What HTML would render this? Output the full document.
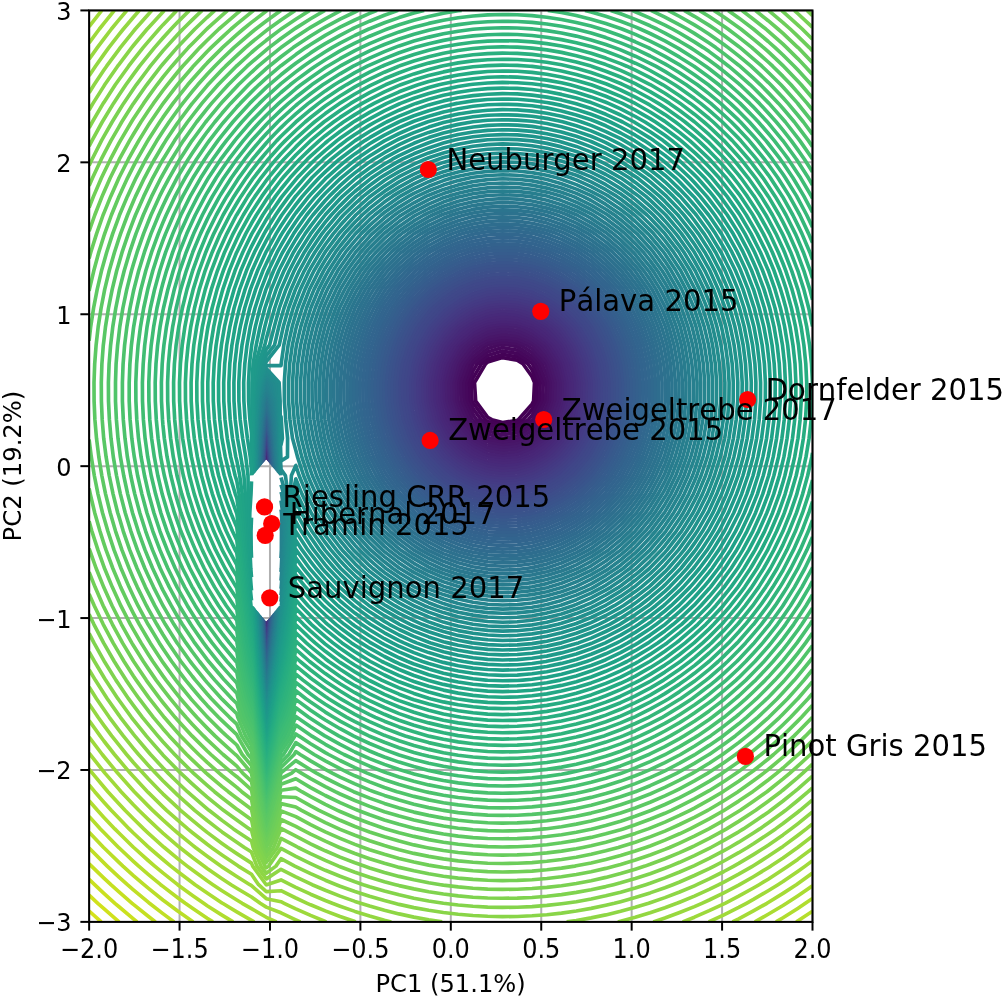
<!DOCTYPE html>
<html><head><meta charset="utf-8"><title>PCA GMM</title>
<style>
html,body{margin:0;padding:0;background:#fff;}
svg{display:block;font-family:"DejaVu Sans","Liberation Sans",sans-serif;font-kerning:none;}
</style></head><body>
<svg width="1003" height="997" viewBox="0 0 1003 997">
<rect width="1003" height="997" fill="#fff"/>
<defs><clipPath id="ax"><rect x="89.13" y="10.43" width="723.37" height="911.45"/></clipPath></defs>
<g stroke="#b0b0b0" stroke-width="2" fill="none"><path d="M89.13 10.43V921.88"/><path d="M179.55 10.43V921.88"/><path d="M269.97 10.43V921.88"/><path d="M360.39 10.43V921.88"/><path d="M450.81 10.43V921.88"/><path d="M541.24 10.43V921.88"/><path d="M631.66 10.43V921.88"/><path d="M722.08 10.43V921.88"/><path d="M812.50 10.43V921.88"/><path d="M89.13 921.88H812.50"/><path d="M89.13 769.97H812.50"/><path d="M89.13 618.06H812.50"/><path d="M89.13 466.16H812.50"/><path d="M89.13 314.25H812.50"/><path d="M89.13 162.34H812.50"/><path d="M89.13 10.43H812.50"/></g>
<g clip-path="url(#ax)" fill="none" stroke-width="3.65" stroke-linejoin="round" stroke-linecap="butt">
<path stroke="#440154" d="M267.6 622.6l-0.2 1.7 -1.1 10 -0.8 -10 0 -1.1M265.4 457.9l0 -1 0.9 -9.3 1.1 9.3 0.1 1.5M502.5 422.6l-10.6 -2.9 -4.2 -2.3 -12 -16.3 -1.2 -18.6 11.1 -18.7 2.1 -1.7 14.8 -4.5 14.7 2.5 5.7 3.7 9.1 12.7 2.5 6 -0.9 18.6 -1.6 3.1 -13.7 15.5 -1.1 0.6z"/>
<path stroke="#440256" d="M267.6 622.5l-0.1 1.8 -1.2 10.4 -0.8 -10.4 -0.1 -1.1M265.4 458l0 -1.1 0.9 -9.7 1.2 9.7 0.1 1.6M487.7 421.4l-2.4 -1.7 -12.3 -16.9 -0.9 -1.7 -0.7 -18.6 1.6 -4.4 8.5 -14.3 6.2 -4.9 14.8 -4.5 14.7 2.5 10.6 6.9 4.2 5.9 5.3 12.8 -0.9 18.6 -4.4 8.6 -8.8 10 -6 3.5 -14.7 2.3z"/>
<path stroke="#450559" d="M267.7 622.5l-0.2 1.8 -1.2 10.9 -0.9 -10.9 0 -1.2M265.4 458l-0.1 -1.1 1 -10.2 1.2 10.2 0.1 1.7M487.7 424.4l-6.6 -4.7 -8.1 -11.1 -3.5 -7.5 -0.8 -18.6 4.3 -11.4 4.3 -7.3 10.4 -8.2 14.8 -4.6 14.7 2.6 14.8 9.7 0.5 0.5 7.7 18.7 -0.8 18.6 -7.4 14.4 -3.7 4.2 -11.1 6.5 -14.7 2.3z"/>
<path stroke="#46085c" d="M267.8 622.4l-0.2 1.9 -1.3 11.4 -0.9 -11.4 -0.1 -1.2M265.3 458.1l0 -1.2 1 -10.6 1.3 10.6 0.1 1.7M487.7 427.5l-11 -7.8 -3.7 -5.2 -6.2 -13.4 -0.8 -18.6 6.9 -18.7 0.1 0 14.7 -11.7 14.8 -4.5 14.7 2.5 14.8 9.7 3.5 4 7.8 18.7 -0.9 18.6 -9.5 18.6 -0.9 0.9 -14.8 8.7 -14.7 2.3z"/>
<path stroke="#460b5e" d="M267.8 622.3l-0.1 2 -1.4 11.9 -0.9 -11.9 -0.1 -1.3M265.3 458.1l0 -1.2 1 -11.1 1.4 11.1 0.1 1.8M473 420.2l-0.5 -0.5 -8.5 -18.6 -0.8 -18.6 6.9 -18.7 2.9 -3.5 14.7 -11.7 10.8 -3.4 4 -0.8 7.2 0.8 7.5 1.4 14.8 9.7 6.7 7.5 7.7 18.7 -0.9 18.6 -9.5 18.6 -4 4.1 -14.8 8.7 -14.7 2.4 -14.8 -4.2 -14.7 -10.5"/>
<path stroke="#470e61" d="M267.9 622.2l-0.2 2.1 -1.4 12.4 -1 -12.4 0 -1.3M265.2 458.2l0 -1.3 1.1 -11.7 1.4 11.7 0.1 1.9M473 423.5l-3.4 -3.8 -8.5 -18.6 -0.8 -18.6 6.9 -18.7 5.8 -7.2 14.2 -11.4 0.5 -0.2 14.8 -3 14.7 1.7 3.7 1.5 11.1 7.4 9.9 11.2 4.9 11.7 2 7 -0.6 18.6 -1.4 3.9 -7.5 14.7 -7.3 7.4 -14.8 8.8 -14.7 2.3 -14.8 -4.1z"/>
<path stroke="#471164" d="M268 622.1l-0.2 2.2 -1.5 12.9 -1 -12.9 -0.1 -1.4M265.2 458.2l0 -1.3 1.1 -12.2 1.5 12.2 0.1 2M502.5 440.6l-12.2 -2.3 -2.6 -0.8 -14.7 -10.5 -6.4 -7.3 -8.4 -18.5 -0.1 -0.1 -0.5 -18.6 0.6 -2.4 6 -16.3 8.8 -11.1 9.4 -7.5 5.3 -2.7 14.8 -3 14.7 1.7 9.5 4 5.3 3.5 13.3 15.1 1.5 3.6 4.4 15.1 -0.7 18.6 -3.7 10.5 -4.1 8.1 -10.7 10.9 -12.9 7.7 -1.9 0.7z"/>
<path stroke="#481467" d="M268 622l-0.2 2.3 -1.5 13.5 -1 -13.5 -0.1 -1.4M265.1 458.3l0 -1.4 1.2 -12.7 1.6 12.7 0.1 2.1M487.7 440.2l-4 -1.9 -10.7 -7.7 -9.5 -10.9 -5.3 -11.7 -2.3 -6.9 -0.6 -18.6 2.9 -10.7 2.9 -8 11.9 -15 4.4 -3.6 10.3 -5.3 14.8 -3 14.7 1.7 14.8 6.3 0.4 0.3 14.4 16.4 1.4 2.2 5.4 18.7 -0.6 18.6 -6.2 17.3 -0.7 1.3 -14.1 14.5 -6.9 4.1 -7.9 3.1 -14.7 1.6z"/>
<path stroke="#481769" d="M268.1 622l-0.2 2.3 -1.6 14.1 -1.1 -14.1 -0.1 -1.5M265.1 458.4l0 -1.5 1.2 -13.3 1.6 13.3 0.2 2.2M487.7 442.7l-9.2 -4.4 -5.5 -4 -12.7 -14.6 -2.1 -4.6 -4.7 -14 -0.5 -18.6 5 -18.7 0.2 -0.3 14.3 -18.3 0.5 -0.3 14.7 -7.7 14.8 -3 14.7 1.7 14.8 6.3 4 3 10.8 12.3 3.9 6.3 5.4 18.7 -0.6 18.6 -6.6 18.6 -2.1 3 -14.8 15.2 -0.6 0.4 -14.2 5.6 -14.7 1.6 -14.8 -2.8"/>
<path stroke="#481a6c" d="M268.2 621.9l-0.2 2.4 -1.7 14.7 -1.1 -14.7 -0.1 -1.6M265 458.4l0 -1.5 1.3 -13.9 1.7 13.9 0.1 2.3M487.7 445.3l-14.5 -7 -0.2 -0.2 -14.8 -17 -0.9 -1.4 -6.2 -18.6 -0.5 -18.6 5 -18.7 2.6 -4.6 11 -14 3.8 -3.1 14.7 -7.7 14.8 -3 14.7 1.7 14.8 6.4 7.8 5.7 7 8 6.5 10.6 5.5 18.7 -0.7 18.6 -6.6 18.6 -4.7 6.8 -11.4 11.8 -3.4 2.3 -14.8 5.9 -14.7 1.6 -14.8 -2.8"/>
<path stroke="#481c6e" d="M268.3 621.8l-0.3 2.5 -1.7 15.3 -1.2 -15.3 -0.1 -1.6M265 458.5l-0.1 -1.6 1.4 -14.5 1.8 14.5 0.1 2.4M473 440.8l-3.4 -2.5 -11.4 -13.2 -3.4 -5.4 -6.2 -18.6 -0.5 -18.6 5 -18.7 5.1 -9 7.5 -9.6 7.3 -6 14.7 -7.7 14.8 -2.9 14.7 1.6 14.8 6.4 11.6 8.6 3.2 3.6 9.2 15 5.5 18.7 -0.6 18.6 -6.7 18.6 -7.4 10.8 -7.6 7.8 -7.2 5 -14.8 5.9 -14.7 1.6 -14.8 -2.8z"/>
<path stroke="#481f70" d="M268.4 621.6l-0.3 2.7 -1.8 15.9 -1.2 -15.9 -0.1 -1.7M264.9 458.6l0 -1.7 1.4 -15.1 1.8 15.1 0.2 2.5M473 443.6l-6.9 -5.3 -7.9 -9.1 -6 -9.5 -6.2 -18.6 -0.5 -18.6 5 -18.7 7.7 -13.5 3.9 -5.1 10.9 -9 14.7 -7.6 9.5 -2 5.3 -0.7 9.4 0.7 5.3 0.7 14.8 6.3 14.8 11 0.6 0.6 11.4 18.6 2.7 9.3 2.1 9.4 -0.4 18.6 -1.7 5.9 -4.5 12.7 -10.2 14.9 -3.6 3.7 -11.2 7.8 -14.8 5.9 -14.7 1.6 -14.8 -2.8z"/>
<path stroke="#482173" d="M268.4 621.5l-0.2 2.8 -1.9 16.6 -1.3 -16.6 -0.1 -1.8M264.8 458.7l0 -1.8 1.5 -15.8 1.9 15.8 0.2 2.6M473 446.5l-10.6 -8.2 -4.2 -4.9 -8.7 -13.7 -6.1 -18.4 0 -0.2 -0.5 -18.6 0.5 -2.5 4.4 -16.2 10.4 -18.2 0.2 -0.4 14.6 -12.1 12.5 -6.5 2.2 -0.8 14.8 -2.2 14.7 1.2 5.8 1.8 9 3.9 14.8 11 3.5 3.7 11.2 18.3 0.2 0.3 4.2 18.7 -0.5 18.6 -3.9 14 -1.6 4.6 -12.7 18.6 -0.4 0.4 -14.8 10.3 -14.8 5.9 -14.7 1.6 -14.8 -2.8z"/>
<path stroke="#482475" d="M268.5 621.4l-0.2 2.9 -2 17.2 -1.3 -17.2 -0.1 -1.8M264.8 458.7l0 -1.8 1.5 -16.5 2 16.5 0.2 2.7M502.5 458.8l-13.7 -1.9 -1.1 -0.3 -14.7 -7.1 -14.5 -11.2 -0.3 -0.4 -11.5 -18.2 -3.3 -10 -2.2 -8.6 -0.5 -18.6 2.7 -12.8 1.6 -5.9 10.6 -18.6 2.6 -2.9 14.8 -12.4 6.3 -3.3 8.4 -3.2 14.8 -2.2 14.7 1.2 13.3 4.2 1.5 0.7 14.8 11 6.5 6.9 8.2 13.4 2.5 5.2 4.2 18.7 -0.5 18.6 -5.1 18.6 -1.1 2 -11.3 16.6 -3.4 3.4 -14.8 10.2 -12.2 5 -2.6 0.7z"/>
<path stroke="#482677" d="M268.6 621.3l-0.2 3 -2.1 18 -1.4 -18 -0.1 -1.9M264.7 458.8l0 -1.9 1.6 -17.2 2.1 17.2 0.2 2.8M487.7 459l-5.9 -2.1 -8.8 -4.3 -14.8 -11.5 -2.6 -2.8 -11.8 -18.6 -0.4 -1.3 -4.5 -17.3 -0.4 -18.6 3.9 -18.7 1 -2.2 9.3 -16.4 5.5 -6.2 14.7 -12.4 0.1 0 14.7 -5.7 14.8 -2.2 14.7 1.3 14.8 4.7 3.6 1.9 11.2 8.4 9.6 10.2 5.1 8.4 4.9 10.2 4.2 18.7 -0.5 18.6 -5.1 18.6 -3.5 6.5 -8.2 12.1 -6.5 6.5 -14.8 10.2 -4.5 1.9 -10.3 3.1 -14.7 1.1 -14.8 -2.1"/>
<path stroke="#482878" d="M268.7 621.2l-0.3 3.1 -2.1 18.6 0 0.1 0 -0.1 -1.4 -18.6 -0.2 -2M264.7 458.9l-0.1 -2 1.7 -17.9 2.2 17.9 0.2 3M487.7 461.5l-12.5 -4.6 -2.2 -1.1 -14.8 -11.5 -5.6 -6 -9.2 -14.6 -2 -4 -4.8 -18.6 -0.4 -18.6 3.9 -18.7 3.3 -7.5 6.3 -11.1 8.5 -9.7 10.6 -8.9 4.2 -2.5 14.7 -5.7 14.8 -2.2 14.7 1.2 14.8 4.7 8.1 4.5 6.7 5 12.8 13.6 1.9 3.1 7.4 15.5 4.2 18.7 -0.5 18.6 -5.1 18.6 -6 11.3 -4.9 7.3 -9.8 9.7 -12.8 8.9 -2 1 -14.8 4.5 -14.7 1.2z"/>
<path stroke="#472a7a" d="M268.8 621.1l-0.3 3.2 -2.1 18.6 -0.1 0.7 -0.1 -0.7 -1.4 -18.6 -0.1 -2.1M264.6 459l0 -2.1 1.7 -18.6 0 -0.1 0 0.1 2.3 18.6 0.2 3.1M473 458.6l-2.9 -1.7 -11.9 -9.3 -8.7 -9.3 -6.1 -9.7 -4.4 -8.9 -4.8 -18.6 -0.5 -18.6 4 -18.7 5.7 -12.9 3.3 -5.7 11.5 -13.2 6.4 -5.4 8.4 -5.2 14.7 -5.6 14.8 -2.3 14.7 1.3 14.8 4.7 12.9 7.1 1.9 1.4 14.7 15.7 1.1 1.5 8.9 18.6 4.2 18.7 -0.5 18.6 -5.1 18.6 -8.6 16.1 -1.6 2.5 -13.1 13 -8 5.6 -6.8 3.5 -14.8 4.5 -14.7 1.2 -14.8 -2.1z"/>
<path stroke="#472d7b" d="M268.9 620.9l-0.3 3.4 -2.1 18.6 -0.2 1.4 -0.1 -1.4 -1.5 -18.6 -0.1 -2.1M264.5 459.1l0 -2.2 1.7 -18.6 0.1 -0.7 0.1 0.7 2.3 18.6 0.2 3.2M473 461.1l-7.3 -4.2 -7.5 -5.9 -11.9 -12.7 -2.9 -4.6 -6.9 -14 -4.8 -18.6 -0.5 -18.6 4 -18.7 8.2 -18.5 0.1 -0.1 14.7 -16.9 2 -1.7 12.8 -7.9 14.7 -5.7 14.8 -2.2 14.7 1.3 14.8 4.7 14.8 8.2 2.1 1.6 12.6 13.4 3.8 5.2 8.9 18.6 2.1 9.6 1.7 9.1 -0.4 18.6 -1.3 5.6 -3.6 13 -9.8 18.6 -1.4 1.8 -14.7 14.6 -3.1 2.2 -11.7 6.1 -14.8 4.5 -14.7 1.2 -14.8 -2.1 -14.7 -5.5"/>
<path stroke="#472f7d" d="M269 620.8l-0.3 3.5 -2.1 18.6 -0.3 2 -0.2 -2 -1.4 -18.6 -0.2 -2.2M264.4 459.2l0 -2.3 1.7 -18.6 0.2 -1.4 0.2 1.4 2.3 18.6 0.2 3.4M473 463.8l-11.9 -6.9 -2.9 -2.3 -14.8 -15.9 -0.3 -0.4 -9.2 -18.6 -4.8 -18.6 -0.4 -17.3 -0.1 -1.3 0.1 -0.2 3.9 -18.5 8.3 -18.6 2.5 -3.7 12.9 -14.9 1.9 -1.5 14.8 -9.2 14.7 -5.7 14.3 -2.2 0.5 0 0.8 0 13.9 1.2 14.8 4.7 14.8 8.2 5.7 4.5 9 9.6 6.6 9 8.2 17.4 0.5 1.2 3.4 18.7 -0.4 18.6 -3.5 15.6 -0.8 3 -9.8 18.6 -4.2 5.3 -13.3 13.3 -1.4 1 -14.8 7.8 -14.8 4.5 -14.7 1.2 -14.8 -2.2z"/>
<path stroke="#46327e" d="M269.1 620.7l-0.3 3.6 -2.1 18.6 -0.4 2.7 -0.3 -2.7 -1.4 -18.6 -0.1 -2.3M264.4 459.3l-0.1 -2.4 1.7 -18.6 0.3 -2.1 0.3 2.1 2.3 18.6 0.2 3.5M458.2 457.9l-1.3 -1 -13.5 -14.5 -3 -4.1 -9.2 -18.6 -2.5 -9.9 -1.9 -8.7 -0.4 -18.6 2.3 -12.9 1.2 -5.8 8.3 -18.6 5.2 -7.6 9.5 -11 5.3 -4.5 14.8 -9.1 12.7 -5 2 -0.6 14.8 -1.7 14.7 1 5.5 1.3 9.3 3 14.8 8.2 9.4 7.4 5.3 5.7 9.4 12.9 5.4 11.3 2.8 7.3 3.4 18.7 -0.4 18.6 -4.1 18.6 -1.7 3.8 -7.7 14.8 -7.1 9 -9.6 9.6 -5.1 3.8 -14.8 7.8 -14.8 4.5 -14.7 1.1 -14.8 -2.1 -14.7 -5.4z"/>
<path stroke="#463480" d="M269.3 620.5l-0.4 3.8 -2.1 18.6 -0.5 3.5 -0.3 -3.5 -1.5 -18.6 -0.1 -2.4M264.3 459.4l0 -2.5 1.6 -18.6 0.4 -2.8 0.4 2.8 2.3 18.6 0.2 3.6M502.5 476.7l-10.9 -1.2 -3.9 -0.6 -14.7 -5.4 -14.8 -8.7 -4.8 -3.9 -10 -10.7 -5.8 -7.9 -8.9 -18.2 -0.2 -0.4 -4 -18.6 -0.3 -18.6 3.2 -18.7 1.3 -3.5 6.7 -15.1 8 -11.7 6 -6.9 8.8 -7.5 14.8 -9.2 4.9 -1.9 9.8 -3 14.8 -1.7 14.7 0.9 14.8 3.8 0.1 0 14.7 8.2 13.2 10.4 1.5 1.6 12.4 17 2.4 5.1 5.2 13.5 3.4 18.7 -0.4 18.6 -4.1 18.6 -4.1 9.5 -4.8 9.1 -10 12.8 -5.8 5.8 -8.9 6.7 -14.8 7.7 -13.5 4.2 -1.3 0.3z"/>
<path stroke="#453781" d="M269.4 620.4l-0.4 3.9 -2.1 18.6 -0.6 4.2 -0.4 -4.2 -1.4 -18.6 -0.2 -2.5M264.2 459.5l0 -2.6 1.6 -18.6 0.5 -3.5 0.6 3.5 2.2 18.6 0.2 3.8M487.7 477.4l-6.6 -1.9 -8.1 -3 -14.8 -8.7 -8.5 -6.9 -6.3 -6.8 -8.6 -11.8 -6.1 -12.4 -2.6 -6.2 -3.9 -18.6 -0.4 -18.6 3.2 -18.7 3.7 -9.9 3.8 -8.7 10.9 -15.9 2.3 -2.7 12.5 -10.6 12.7 -8 2.1 -0.9 14.7 -4.6 14.8 -1.7 14.7 0.9 14.8 3.8 5.8 2.5 9 5 14.7 11.7 2 1.9 12.8 17.7 0.5 0.9 7.2 18.6 3.4 18.7 -0.4 18.6 -4.1 18.6 -6.6 15.3 -1.7 3.3 -13.1 16.7 -1.8 1.9 -12.9 9.7 -14.8 7.7 -3.7 1.2 -11.1 2.7 -14.7 0.9z"/>
<path stroke="#443983" d="M269.5 620.2l-0.4 4.1 -2.1 18.6 -0.7 5 -0.5 -5 -1.4 -18.6 -0.2 -2.6M264.1 459.6l0 -2.7 1.6 -18.6 0.6 -4.3 0.7 4.3 2.2 18.6 0.3 4M473 475.5l-0.2 0 -14.6 -8.6 -12.3 -10 -2.5 -2.7 -11.6 -15.9 -3.1 -6.4 -5 -12.2 -4 -18.6 -0.4 -18.6 3.3 -18.7 6.1 -16.6 0.9 -2 12.6 -18.6 1.2 -1.3 14.8 -12.6 7.5 -4.7 7.3 -3.5 14.7 -4.6 14.8 -1.7 14.7 1 14.8 3.7 11.6 5.1 3.2 1.8 14.7 11.6 5.1 5.2 9.7 13.4 3.1 5.2 7.2 18.6 3.4 18.7 -0.4 18.6 -4.2 18.6 -7.9 18.6 -1.2 1.8 -13 16.8 -1.8 1.7 -14.7 11 -11.1 5.9 -3.7 1.5 -14.8 3.6 -14.7 1 -14.8 -1.7 -14.7 -4.4"/>
<path stroke="#443b84" d="M269.6 620.1l-0.4 4.2 -2.1 18.6 -0.8 5.8 -0.6 -5.8 -1.4 -18.6 -0.1 -2.7M264 459.7l0 -2.8 1.6 -18.6 0.7 -5.1 0.8 5.1 2.2 18.6 0.3 4.1M473 478.1l-5.6 -2.6 -9.2 -5.4 -14.8 -12 -1.1 -1.2 -13.6 -18.6 0 -0.1 -7.6 -18.5 -3.9 -18.6 -0.4 -18.6 3.2 -18.7 6.9 -18.6 1.8 -3.2 10.5 -15.4 4.2 -4.6 14.8 -12.7 2.1 -1.3 12.7 -6.2 14.7 -4.5 14.8 -1.8 14.7 1 14.8 3.7 14.8 6.6 2 1.2 12.7 10.1 8.4 8.5 6.4 8.9 5.8 9.7 7.2 18.6 1.8 9.8 1.3 8.9 -0.3 18.6 -1 5.4 -3 13.2 -8 18.6 -3.8 6 -9.7 12.6 -5.1 4.9 -14.7 11 -5 2.7 -9.8 4.1 -14.8 3.6 -14.7 1 -14.8 -1.7z"/>
<path stroke="#433e85" d="M269.7 619.9l-0.4 4.4 -2.1 18.6 -0.9 6.6 -0.6 -6.6 -1.4 -18.6 -0.2 -2.8M263.9 459.8l0 -2.9 1.6 -18.6 0.8 -5.9 1 5.9 2.2 18.6 0.2 4.3M473 480.8l-11.3 -5.3 -3.5 -2.1 -14.8 -12 -4.3 -4.5 -10.4 -14.3 -2.6 -4.3 -7.6 -18.6 -4 -18.6 -0.3 -18.6 3.2 -18.7 6.8 -18.6 4.5 -7.9 7.3 -10.7 7.4 -8.1 12.2 -10.5 2.6 -1.7 14.8 -7.3 14.7 -4.5 14.8 -1.8 14.7 1 14.8 3.8 14.8 6.5 6.4 4 8.3 6.6 11.8 12 3 4.2 8.5 14.4 6.3 16.1 0.8 2.5 2.8 18.7 -0.3 18.6 -3.3 17.7 -0.2 0.9 -8 18.6 -6.6 10.4 -6.3 8.2 -8.5 8.2 -13.8 10.4 -0.9 0.5 -14.8 6.3 -14.8 3.6 -14.7 0.9 -14.8 -1.7z"/>
<path stroke="#424086" d="M269.9 619.7l-0.4 4.6 -2.2 18.6 -1 7.5 -0.7 -7.5 -1.4 -18.6 -0.2 -2.9M263.9 459.9l-0.1 -3 1.6 -18.6 0.9 -6.8 1.1 6.8 2.2 18.6 0.3 4.5M458.2 476.5l-1.6 -1 -13.2 -10.7 -7.6 -7.9 -7.1 -9.8 -5.3 -8.8 -7.6 -18.6 -1.9 -8.9 -1.8 -9.7 -0.3 -18.6 2.1 -14.2 0.8 -4.5 6.8 -18.6 7.2 -12.7 4 -5.9 10.7 -11.7 8 -6.9 6.8 -4.6 14.8 -7.2 14.7 -4.6 14.8 -1.7 14.7 0.9 14.8 3.8 14.8 6.5 11 6.9 3.7 3 14.8 15.1 0.4 0.5 11 18.6 3.4 8.7 3.2 9.9 2.9 18.7 -0.4 18.6 -3.5 18.6 -2.2 6.2 -5.3 12.4 -9.5 14.9 -2.8 3.7 -12 11.6 -9.2 7 -5.5 3.3 -14.8 6.2 -14.8 3.6 -14.7 1 -14.8 -1.7 -14.7 -4.4z"/>
<path stroke="#414287" d="M270 619.6l-0.4 4.7 -2.2 18.6 -1.1 8.4 -0.8 -8.4 -1.4 -18.6 -0.2 -3M263.8 460l-0.1 -3.1 1.6 -18.6 1 -7.7 1.3 7.7 2.1 18.6 0.3 4.6M458.2 479.4l-6 -3.9 -8.8 -7.2 -11 -11.4 -3.7 -5.1 -8.2 -13.5 -6.6 -16.3 -0.8 -2.3 -3.4 -18.6 -0.3 -18.6 2.8 -18.7 1.7 -5.5 4.8 -13.1 10 -17.7 0.5 -0.9 14.2 -15.4 3.7 -3.2 11.1 -7.5 14.8 -7.3 12.1 -3.8 2.6 -0.6 14.8 -1.5 14.7 0.8 6.2 1.3 8.6 2.2 14.8 6.5 14.7 9.3 0.8 0.6 14 14.4 3.4 4.2 11 18.6 0.4 1.1 5.7 17.5 2.9 18.7 -0.4 18.6 -3.5 18.6 -4.7 13.1 -2.4 5.5 -11.7 18.6 -0.7 0.8 -14.8 14.3 -4.5 3.5 -10.2 6.1 -14.8 6.3 -14.8 3.6 -14.7 0.9 -14.8 -1.7 -14.7 -4.3z"/>
<path stroke="#404588" d="M270.2 619.4l-0.5 4.9 -2.1 18.6 -1.3 9.3 -0.9 -9.3 -1.4 -18.6 -0.2 -3.1M263.7 460.2l-0.1 -3.3 1.6 -18.6 1.1 -8.6 1.4 8.6 2.2 18.6 0.2 4.8M502.5 495.2l-11.5 -1.1 -3.3 -0.4 -14.7 -4.4 -14.8 -7 -10.5 -6.8 -4.3 -3.5 -14.6 -15.1 -0.1 -0.2 -11.1 -18.4 -3.7 -9.2 -3.3 -9.4 -3.3 -18.6 -0.3 -18.6 2.7 -18.7 4.2 -13.4 1.9 -5.2 10.4 -18.6 2.5 -3.2 14 -15.4 0.7 -0.6 14.8 -10 14.8 -7.3 2.1 -0.7 12.6 -3.2 14.8 -1.4 14.7 0.8 14.8 3.1 2 0.7 12.8 5.7 14.7 9.2 4.6 3.7 10.2 10.5 6.5 8.1 8.3 14.1 2.2 4.5 6.1 18.6 2.8 18.7 -0.3 18.6 -3.5 18.6 -6.7 18.6 -0.6 1.1 -11.1 17.5 -3.7 4.4 -14.5 14.2 -0.3 0.2 -14.7 8.9 -14.8 6.2 -13.3 3.3 -1.5 0.3z"/>
<path stroke="#3f4788" d="M270.3 619.2l-0.5 5.1 -2.1 18.6 -1.4 10.3 -1 -10.3 -1.4 -18.6 -0.2 -3.3M263.6 460.3l-0.1 -3.4 1.6 -18.6 1.2 -9.6 1.6 9.6 2.1 18.6 0.3 5M487.7 496.3l-9.1 -2.2 -5.6 -1.7 -14.8 -7 -14.8 -9.7 -0.3 -0.2 -14.4 -15 -2.9 -3.6 -11.2 -18.6 -0.7 -1.8 -5.8 -16.8 -3.4 -18.6 -0.3 -18.6 2.7 -18.7 5.8 -18.6 1 -2 9.3 -16.6 5.5 -7.2 10.4 -11.4 4.3 -3.7 14.8 -10.1 9.7 -4.8 5.1 -2 14.7 -3.8 14.8 -1.5 14.7 0.8 14.8 3.2 9.2 3.3 5.6 2.5 14.7 9.3 8.5 6.8 6.3 6.5 9.6 12.1 5.2 8.7 4.9 9.9 6.1 18.6 2.8 18.7 -0.3 18.6 -3.5 18.6 -6.7 18.6 -3.3 6.2 -7.9 12.4 -6.9 8.2 -10.6 10.4 -4.2 3.2 -14.7 8.9 -14.8 6.3 -0.7 0.2 -14.1 2.8 -14.7 0.8z"/>
<path stroke="#3f4889" d="M270.5 619l-0.5 5.3 -2.2 18.6 -1.5 11.3 -1.1 -11.3 -1.4 -18.6 -0.2 -3.4M263.4 460.4l0 -3.5 1.5 -18.6 1.4 -10.5 1.8 10.5 2 18.6 0.4 5.2M473 495.3l-3.2 -1.2 -11.6 -5.6 -14.8 -9.6 -4.1 -3.4 -10.6 -11.1 -6.1 -7.5 -8.7 -14.6 -2.1 -4 -6.4 -18.6 -3.4 -18.6 -0.3 -18.6 2.8 -18.7 5.8 -18.6 3.6 -7.6 6.2 -11 8.6 -11.3 6.6 -7.3 8.1 -7 14.8 -10.1 3 -1.5 11.8 -4.8 14.7 -3.7 14.8 -1.5 14.7 0.8 14.8 3.1 14.8 5.4 1.3 0.7 13.4 8.5 12.5 10.1 2.3 2.4 12.9 16.2 1.9 3.2 7.7 15.4 6 18.6 1 6.5 1.6 12.2 -0.2 18.6 -1.4 8.1 -2 10.5 -6.7 18.6 -6 11.4 -4.6 7.2 -10.2 12.2 -6.6 6.4 -8.2 6.4 -14.7 8.9 -7.8 3.3 -7 2.4 -14.8 3.1 -14.7 0.8 -14.8 -1.5z"/>
<path stroke="#3e4a89" d="M270.6 618.8l-0.5 5.5 -2.1 18.6 -1.7 12.3 -1.1 -12.3 -1.5 -18.6 -0.2 -3.5M263.3 460.6l0 -3.7 1.5 -18.6 1.5 -11.6 1.9 11.6 2.1 18.6 0.3 5.4M473 498l-10.1 -3.9 -4.7 -2.3 -14.8 -9.6 -8 -6.7 -6.7 -7 -9.3 -11.6 -5.5 -9.2 -4.8 -9.4 -6.4 -18.6 -3.4 -18.6 -0.2 -9.3 -0.1 -9.3 0.1 -1.1 2.6 -17.6 5.8 -18.6 6.4 -13.3 2.9 -5.3 11.9 -15.6 2.6 -3 12.1 -10.4 11.9 -8.2 2.9 -1.6 14.8 -6 14.7 -3.8 14.8 -1.5 14.7 0.9 14.8 3.1 14.8 5.4 6.8 3.5 7.9 5 14.8 12.1 1.6 1.5 13.2 16.7 1.3 1.9 9.2 18.6 4.2 12.9 1.6 5.7 2.5 18.7 -0.3 18.6 -3 18.6 -0.8 2.4 -5.8 16.2 -8.9 16.7 -1.2 1.9 -13.6 16.3 -2.4 2.3 -12.4 9.7 -14.7 8.9 -14.8 5.2 -14.8 3 -14.7 0.8 -14.8 -1.4 -14.7 -3.7"/>
<path stroke="#3d4d8a" d="M270.8 618.6l-0.5 5.7 -2.2 18.6 -1.8 13.4 -1.2 -13.4 -1.5 -18.6 -0.2 -3.6M263.2 460.7l0 -3.8 1.5 -18.6 1.6 -12.6 2.1 12.6 2 18.6 0.4 5.6M458.2 495l-1.8 -0.9 -13 -8.5 -12.1 -10.1 -2.6 -2.8 -12.6 -15.8 -2.2 -3.6 -7.6 -15 -6.5 -18.6 -0.7 -3.8 -2.3 -14.8 -0.3 -18.6 2.4 -18.7 0.2 -0.8 5.6 -17.8 8.9 -18.6 0.3 -0.5 13.6 -18.1 1.2 -1.2 14.7 -12.8 6.8 -4.6 8 -4.5 14.8 -6.1 14.7 -3.7 14.8 -1.5 14.7 0.8 14.8 3.2 14.8 5.4 12.4 6.4 2.3 1.5 14.8 12.1 5.1 5 9.7 12.2 4.2 6.4 9.3 18.6 1.2 3.8 4.2 14.8 2.5 18.7 -0.3 18.6 -3 18.6 -3.4 10.7 -2.8 7.9 -9.9 18.6 -2 2.8 -13.2 15.8 -1.6 1.5 -14.8 11.5 -9.1 5.6 -5.6 2.8 -14.8 5.2 -14.8 3 -14.7 0.8 -14.8 -1.4 -14.7 -3.6z"/>
<path stroke="#3c4f8a" d="M271 618.4l-0.6 5.9 -2.1 18.6 -2 14.5 -1.3 -14.5 -1.5 -18.6 -0.2 -3.8M263.1 460.9l0 -4 1.4 -18.6 1.8 -13.7 2.3 13.7 2 18.6 0.4 5.9M458.2 498l-7.1 -3.9 -7.7 -5 -14.7 -12.3 -1.3 -1.3 -13.5 -17 -1.1 -1.6 -9.5 -18.6 -4.2 -12.1 -1.9 -6.5 -3 -18.6 -0.2 -18.6 2.4 -18.7 2.7 -10.2 2.6 -8.4 8.9 -18.6 3.3 -5.1 10.2 -13.5 4.6 -4.8 14.7 -12.8 1.4 -1 13.4 -7.5 14.8 -6.1 14.7 -3.8 12.1 -1.2 2.7 -0.2 4.8 0.2 9.9 0.6 14.8 3.1 14.8 5.4 14.7 7.7 2.7 1.8 12.1 9.9 8.7 8.7 6.1 7.6 7.3 11 7.4 14.9 1.6 3.7 5.3 18.6 2.4 18.7 -0.2 18.6 -3.1 18.6 -5.8 18.6 -0.2 0.4 -9.7 18.2 -5 7.2 -9.6 11.4 -5.2 5 -14.8 11.6 -3.3 2 -11.4 5.7 -14.8 5.3 -14.8 3 -14.7 0.8 -14.8 -1.5 -14.7 -3.6z"/>
<path stroke="#3b518b" d="M271.1 618.1l-0.5 6.2 -2.2 18.6 -2.1 15.6 -1.4 -15.6 -1.5 -18.6 -0.2 -3.9M263 461l-0.1 -4.1 1.5 -18.6 1.9 -14.8 2.5 14.8 2 18.6 0.3 6.1M458.2 501l-12.7 -6.9 -2.1 -1.4 -14.7 -12.3 -4.9 -4.9 -9.9 -12.5 -4.2 -6.1 -9.4 -18.6 -1.2 -3.3 -4.6 -15.3 -2.9 -18.6 -0.3 -18.6 2.4 -18.7 5.1 -18.6 0.3 -0.9 8.5 -17.7 6.3 -9.9 6.6 -8.7 8.2 -8.6 11.4 -10 3.3 -2.3 14.8 -8.4 14.8 -6 7.1 -1.9 7.6 -1.6 14.8 -1.3 14.7 0.7 12.3 2.2 2.5 0.6 14.8 5.4 14.7 7.7 7.4 4.9 7.4 6.1 12.5 12.5 2.3 2.9 10.5 15.7 4.2 8.5 4.4 10.1 5.2 18.6 2.5 18.7 -0.3 18.6 -3 18.6 -5.8 18.6 -3 6.4 -6.5 12.2 -8.2 11.7 -5.8 6.9 -9 8.6 -12.7 10 -2.1 1.3 -14.7 7.5 -14.8 5.2 -14.8 3 -14.7 0.8 -14.8 -1.4 -14.7 -3.6z"/>
<path stroke="#3a538b" d="M271.3 617.9l-0.6 6.4 -2.1 18.6 -2.3 16.8 -1.6 -16.8 -1.4 -18.6 -0.2 -4.1M262.8 461.2l0 -4.3 1.4 -18.6 2.1 -16 2.7 16 1.9 18.6 0.4 6.3M487.7 513.5l-3.9 -0.8 -10.8 -2.7 -14.8 -5.9 -14.8 -8 -2.9 -2 -11.8 -9.9 -8.6 -8.7 -6.2 -7.8 -7.3 -10.8 -7.5 -14.6 -1.7 -4 -5.6 -18.6 -2.9 -18.6 -0.3 -18.6 2.4 -18.7 5 -18.6 3.1 -7.5 5.3 -11.1 9.5 -14.8 2.9 -3.8 11.9 -12.5 6.9 -6.1 7.8 -5.6 14.8 -8.3 11.3 -4.7 3.5 -1.2 14.7 -3.2 14.8 -1.3 14.7 0.7 14.8 2.7 7.5 2.3 7.3 2.7 14.7 7.7 12.2 8.2 2.6 2.2 14.8 14.8 1.4 1.6 12.4 18.6 0.9 1.9 7.2 16.7 5.3 18.6 2.3 17.5 0.1 1.2 -0.1 10.1 -0.1 8.5 -3.1 18.6 -5.8 18.6 -5.8 12.5 -3.2 6.1 -11.5 16.4 -1.9 2.2 -12.9 12.4 -7.9 6.2 -6.9 4.5 -14.7 7.4 -14.8 5.2 -6.9 1.5 -7.9 1.3 -14.7 0.7z"/>
<path stroke="#39558c" d="M271.5 617.7l-0.6 6.6 -2.1 18.6 -2.5 18 -1.7 -18 -1.4 -18.6 -0.2 -4.2M262.7 461.4l0 -4.5 1.4 -18.6 2.2 -17.2 2.9 17.2 1.9 18.6 0.4 6.6M473 513.2l-1.6 -0.5 -13.2 -5.3 -14.8 -8.1 -7.5 -5.2 -7.2 -6 -12.5 -12.6 -2.3 -2.9 -10.6 -15.7 -4.2 -8.2 -4.6 -10.4 -5.6 -18.6 -2.9 -18.6 -0.3 -18.6 2.4 -18.7 5.1 -18.6 5.9 -14.4 2 -4.2 12 -18.6 0.8 -1 14.8 -15.6 2.2 -2 12.5 -9 14.8 -8.3 3 -1.3 11.8 -4.1 14.7 -3.2 14.8 -1.2 14.7 0.7 14.8 2.6 14.8 4.7 1.3 0.5 13.4 7.1 14.8 10 1.9 1.5 12.9 12.9 4.8 5.7 9.9 14.9 2.2 3.7 8 18.6 4.6 16.4 0.5 2.2 2.2 18.7 -0.2 18.6 -2.5 17.2 -0.2 1.4 -5.8 18.6 -8.6 18.6 -0.2 0.3 -12.9 18.3 -1.8 2.1 -14.8 14.2 -2.9 2.3 -11.9 7.7 -14.7 7.5 -9.6 3.4 -5.2 1.5 -14.8 2.6 -14.7 0.7 -14.8 -1.2z"/>
<path stroke="#38588c" d="M271.7 617.4l-0.6 6.9 -2.2 18.6 -2.5 18.6 -0.1 0.6 -0.1 -0.6 -1.7 -18.6 -1.4 -18.6 -0.3 -4.4M262.6 461.5l-0.1 -4.6 1.4 -18.6 2.4 -18.5 3.1 18.5 1.9 18.6 0.4 6.8M473 516.1l-10.1 -3.4 -4.7 -1.9 -14.8 -8.1 -12.4 -8.6 -2.3 -2 -14.8 -14.9 -1.4 -1.7 -12.6 -18.6 -0.8 -1.6 -7.5 -17 -5.6 -18.6 -1.6 -10.3 -1.2 -8.3 -0.2 -18.6 1.4 -12.4 0.8 -6.3 5 -18.6 7.7 -18.6 1.2 -2.1 10.6 -16.5 4.2 -5.2 12.7 -13.4 2.1 -1.8 14.7 -10.7 10.8 -6.1 4 -1.9 14.8 -5.2 14.7 -3.2 14.8 -1.2 14.7 0.7 14.8 2.6 14.8 4.7 8 3.5 6.7 3.6 14.8 10 6.1 5 8.7 8.7 8.3 9.9 6.4 9.6 5.2 9 8 18.6 1.6 5.6 3.2 13 2.2 18.7 -0.2 18.6 -2.7 18.6 -2.5 9 -3 9.6 -8.5 18.6 -3.3 5.3 -9.3 13.3 -5.4 6.1 -13 12.5 -1.8 1.4 -14.8 9.7 -14.7 7.4 -0.1 0.1 -14.7 4.4 -14.8 2.6 -14.7 0.7 -14.8 -1.2z"/>
<path stroke="#375a8c" d="M271.9 617.2l-0.6 7.1 -2.2 18.6 -2.5 18.6 -0.3 1.7 -0.2 -1.7 -1.7 -18.6 -1.4 -18.6 -0.3 -4.5M262.4 461.7l0 -4.8 1.4 -18.6 2.3 -18.6 0.2 -1 0.2 1 3.1 18.6 1.9 18.6 0.4 7.1M458.2 514l-3 -1.3 -11.8 -6.5 -14.7 -10.3 -2.2 -1.8 -12.6 -12.8 -4.9 -5.8 -9.9 -14.6 -2.3 -4 -8.3 -18.6 -4.1 -13.9 -1.3 -4.7 -2.6 -18.6 -0.2 -18.6 2.1 -18.7 2 -8.2 2.8 -10.4 7.7 -18.6 4.2 -7.6 7.1 -11 7.7 -9.6 8.5 -9 6.3 -5.4 14.7 -10.7 4.4 -2.5 10.4 -5 14.8 -5.1 14.7 -3.3 14.8 -1.2 14.7 0.7 14.8 2.7 14.8 4.6 14.7 6.6 0.2 0 14.6 10 10.4 8.6 4.4 4.4 12 14.2 2.7 4.2 8.4 14.4 6.4 14.9 1.4 3.7 4.6 18.6 2.2 18.7 -0.3 18.6 -2.6 18.6 -5.1 18.6 -0.2 0.4 -8.4 18.2 -6.4 10.5 -5.7 8.1 -9 10.3 -8.6 8.3 -6.2 4.9 -14.8 9.7 -7.8 4 -6.9 3 -14.8 4.4 -14.8 2.6 -14.7 0.7 -14.8 -1.2 -14.7 -3.1z"/>
<path stroke="#365c8d" d="M272.1 616.9l-0.6 7.4 -2.2 18.6 -2.6 18.6 -0.4 2.8 -0.3 -2.8 -1.7 -18.6 -1.4 -18.6 -0.3 -4.7M262.3 461.9l-0.1 -5 1.4 -18.6 2.3 -18.6 0.4 -2.2 0.5 2.2 3.1 18.6 1.8 18.6 0.5 7.4M458.2 517.2l-9.6 -4.5 -5.2 -2.9 -14.7 -10.3 -6.5 -5.4 -8.3 -8.4 -8.5 -10.2 -6.3 -9.2 -5.5 -9.4 -8.2 -18.6 -1 -3.4 -4.1 -15.2 -2.6 -18.6 -0.2 -18.6 2.1 -18.7 4.5 -18.6 0.3 -0.8 7.3 -17.8 7.4 -13.3 3.4 -5.3 11.4 -14.1 4.3 -4.5 10.5 -9.2 13 -9.4 1.7 -1 14.8 -7.2 14.8 -5.1 14.7 -3.3 14.8 -1.2 14.7 0.7 14.8 2.7 14.8 4.6 14.7 6.6 5.7 3.2 9.1 6.2 14.8 12.3 0.1 0.1 14.6 17.4 0.9 1.2 10.8 18.6 3.1 7.3 4.3 11.3 4.6 18.6 2.2 18.7 -0.3 18.6 -2.7 18.6 -5.1 18.6 -3 7.5 -5.1 11.1 -9.7 15.8 -1.9 2.8 -12.8 14.6 -4.1 4 -10.7 8.6 -14.8 9.6 -0.6 0.4 -14.1 6.1 -14.8 4.4 -14.8 2.6 -14.7 0.7 -14.8 -1.2 -14.7 -3.1 -14.8 -5"/>
<path stroke="#355e8d" d="M272.4 616.6l-0.7 7.7 -2.2 18.6 -2.6 18.6 -0.6 4 -0.5 -4 -1.7 -18.6 -1.4 -18.6 -0.3 -4.9M262.1 462.1l0 -5.2 1.3 -18.6 2.3 -18.6 0.6 -3.4 0.8 3.4 3 18.6 1.8 18.6 0.5 7.6M443.4 513.4l-1.3 -0.7 -13.4 -9.4 -10.9 -9.2 -3.9 -4 -12.3 -14.6 -2.5 -3.7 -8.7 -14.9 -6 -13.6 -2 -5 -5 -18.6 -2.5 -18.6 -0.3 -18.6 2.1 -18.7 4.5 -18.6 3.2 -8.7 4.1 -9.9 10.3 -18.6 0.3 -0.4 14.7 -18.2 0.1 -0.1 14.8 -12.9 7.6 -5.6 7.1 -4.3 14.8 -7.2 14.8 -5.1 8.7 -2 6 -1.1 14.8 -1.1 14.7 0.6 10.4 1.6 4.4 0.8 14.8 4.7 14.7 6.6 11.4 6.5 3.4 2.3 14.8 12.3 4 4 10.7 12.8 4.3 5.8 10.5 18.2 0.2 0.4 7.1 18.6 4.6 18.6 2.2 18.7 -0.3 18.6 -2.7 18.6 -5.1 18.6 -6 14.9 -1.7 3.7 -11.3 18.6 -1.8 2.3 -14.3 16.3 -0.4 0.4 -14.8 11.9 -9.6 6.3 -5.2 2.9 -14.7 6.4 -14.8 4.5 -14.8 2.6 -14.7 0.6 -14.8 -1.2 -14.7 -3.1 -14.8 -5z"/>
<path stroke="#34608d" d="M272.6 616.3l-0.7 8 -2.2 18.6 -2.6 18.6 -0.8 5.3 -0.6 -5.3 -1.7 -18.6 -1.4 -18.6 -0.3 -5.1M262 462.3l-0.1 -5.4 1.3 -18.6 2.2 -18.6 0.9 -4.6 1.1 4.6 2.9 18.6 1.8 18.6 0.5 7.9M487.7 531.8l-2.8 -0.5 -11.9 -2.6 -14.8 -5 -14.8 -6.9 -6.8 -4.1 -7.9 -5.5 -14.8 -12.5 -0.6 -0.6 -14.2 -16.9 -1.2 -1.7 -10.9 -18.6 -2.6 -5.9 -5 -12.7 -4.9 -18.6 -2.6 -18.6 -0.3 -18.6 2.1 -18.7 4.5 -18.6 6.2 -16.8 0.7 -1.8 10.4 -18.6 3.6 -5.2 10.8 -13.4 4 -4.1 14.8 -12.9 2.1 -1.6 12.6 -7.8 14.8 -7.1 10.4 -3.7 4.4 -1.3 14.7 -2.8 14.8 -1.1 14.7 0.6 14.8 2.4 8.4 2.2 6.4 2 14.7 6.6 14.8 8.6 2.1 1.4 12.7 10.6 8.1 8 6.6 7.9 7.8 10.7 7 12.1 3.3 6.5 7.1 18.6 4.3 17.8 0.2 0.8 2 18.7 -0.2 18.6 -2 14.9 -0.5 3.7 -5.1 18.6 -7.5 18.6 -1.6 2.9 -9.5 15.7 -5.3 6.9 -10.2 11.7 -4.5 4.3 -14.8 11.9 -3.6 2.4 -11.2 6.2 -14.7 6.4 -14.8 4.5 -8.3 1.5 -6.5 0.9 -14.7 0.6 -14.8 -1"/>
<path stroke="#33628d" d="M272.8 616l-0.7 8.3 -2.2 18.6 -2.6 18.6 -1 6.6 -0.7 -6.6 -1.7 -18.6 -1.4 -18.6 -0.4 -5.3M261.8 462.5l0 -5.6 1.2 -18.6 2.2 -18.6 1.1 -5.9 1.5 5.9 2.8 18.6 1.8 18.6 0.5 8.2M473 532.1l-2.7 -0.8 -12.1 -4.2 -14.8 -6.9 -12.6 -7.5 -2.1 -1.5 -14.8 -12.5 -4.6 -4.6 -10.2 -12.1 -4.7 -6.5 -10 -17.1 -0.8 -1.5 -7.3 -18.6 -4.9 -18.6 -1.8 -12.6 -0.7 -6 -0.2 -18.6 0.9 -9.6 1 -9.1 4.5 -18.6 6.8 -18.6 2.5 -5 7.6 -13.6 7.1 -10.2 6.7 -8.4 8.1 -8.3 11.8 -10.3 3 -2.2 14.7 -9.1 14.8 -7.2 0.3 -0.1 14.5 -4.4 14.7 -2.8 14.8 -1.1 14.7 0.6 14.8 2.4 14.8 4 3.4 1.3 11.3 5.1 14.8 8.5 7 5 7.8 6.5 12.3 12.1 2.4 2.9 11.4 15.7 3.4 5.8 6.5 12.8 7 18.6 1.2 4.9 3.1 13.7 1.9 18.7 -0.2 18.6 -2.4 18.6 -2.4 9.7 -2.4 8.9 -7.5 18.6 -4.8 8.9 -5.9 9.7 -8.9 11.7 -6 6.9 -8.7 8.3 -12.8 10.3 -2 1.4 -14.8 8.3 -14.7 6.4 -8.3 2.5 -6.5 1.7 -14.8 2.3 -14.7 0.6 -14.8 -1.1z"/>
<path stroke="#32648e" d="M273.1 615.7l-0.8 8.6 -2.2 18.6 -2.5 18.6 -1.3 7.9 -0.9 -7.9 -1.7 -18.6 -1.4 -18.6 -0.3 -5.5M261.6 462.7l0 -5.8 1.2 -18.6 2.2 -18.6 1.3 -7.2 1.8 7.2 2.8 18.6 1.7 18.6 0.5 8.5M473 535.2l-13.2 -3.9 -1.6 -0.6 -14.8 -6.9 -14.7 -8.9 -3.2 -2.2 -11.6 -9.9 -8.8 -8.7 -6 -7.2 -8.3 -11.4 -6.4 -11 -4 -7.6 -7.3 -18.6 -3.5 -13.2 -1.3 -5.4 -2.3 -18.6 -0.2 -18.6 1.9 -18.7 1.9 -9 2.3 -9.6 6.8 -18.6 5.7 -11.5 3.9 -7.1 10.8 -15.4 2.6 -3.2 12.2 -12.6 6.8 -6 8 -5.9 14.7 -9.1 7.4 -3.6 7.4 -3.1 14.8 -4.5 14.7 -2.8 14.8 -1.1 14.7 0.6 14.8 2.3 14.8 4.1 11.7 4.5 3 1.4 14.8 8.6 12.2 8.6 2.6 2.2 14.7 14.5 1.7 1.9 13.1 18.1 0.4 0.5 9.4 18.6 4.9 13.1 1.9 5.5 4.2 18.6 1.9 18.7 -0.2 18.6 -2.4 18.6 -4.6 18.6 -0.8 2.1 -6.6 16.5 -8.1 15.1 -2.1 3.5 -12.7 16.7 -1.6 1.9 -13.1 12.5 -7.6 6.1 -7.2 4.9 -14.8 8.3 -12.3 5.4 -2.4 0.9 -14.8 3.9 -14.8 2.3 -14.7 0.6 -14.8 -1.1 -14.7 -2.7"/>
<path stroke="#32658e" d="M273.3 615.4l-0.8 8.9 -2.1 18.6 -2.6 18.6 -1.5 9.3 -1 -9.3 -1.7 -18.6 -1.4 -18.6 -0.4 -5.7M261.5 462.9l-0.1 -6 1.2 -18.6 2.1 -18.6 1.6 -8.6 2.2 8.6 2.6 18.6 1.7 18.6 0.6 8.9M458.2 534l-6.7 -2.7 -8.1 -3.8 -14.7 -8.9 -8.3 -5.9 -6.5 -5.6 -13.1 -13 -1.7 -2 -12.1 -16.6 -2.6 -4.6 -7.3 -14 -7.3 -18.6 -0.2 -0.7 -4.3 -17.9 -2.3 -18.6 -0.2 -18.6 1.9 -18.7 4 -18.6 0.9 -2.8 5.8 -15.8 9 -18.2 0.2 -0.4 13 -18.6 1.5 -1.8 14.8 -15.2 1.8 -1.6 13 -9.7 14.3 -8.9 0.4 -0.2 14.8 -6.2 14.8 -4.5 14.7 -2.8 14.8 -1.1 14.7 0.6 14.8 2.3 14.8 4.1 14.7 5.7 4.3 2.1 10.5 6.1 14.8 10.6 2.3 1.9 12.4 12.3 5.6 6.3 9.2 12.7 3.8 5.9 9.4 18.6 1.5 4 5 14.6 4.1 18.6 2 18.7 -0.3 18.6 -2.4 18.6 -4.5 18.6 -3.9 10.6 -3.2 8 -10 18.6 -1.5 2.3 -12.3 16.3 -2.5 2.7 -14.7 14.1 -2.3 1.8 -12.5 8.6 -14.8 8.3 -3.7 1.7 -11 4.1 -14.8 4 -14.8 2.2 -14.7 0.6 -14.8 -1 -14.7 -2.8z"/>
<path stroke="#31678e" d="M273.6 615.1l-0.9 9.2 -2.1 18.6 -2.6 18.6 -1.7 10.7 -1.2 -10.7 -1.7 -18.6 -1.4 -18.6 -0.3 -5.9M261.3 463.1l-0.1 -6.2 1.2 -18.6 2.1 -18.6 1.8 -10 2.5 10 2.6 18.6 1.7 18.6 0.5 9.2M443.4 531.3l-14.7 -8.8 -13.5 -9.8 -1.3 -1.1 -14.8 -14.7 -2.4 -2.8 -12.3 -16.9 -1.1 -1.7 -9.7 -18.6 -4 -10.3 -2.9 -8.3 -4.4 -18.6 -2.4 -18.6 -0.2 -18.6 1.9 -18.7 4 -18.6 4 -12.1 2.4 -6.5 9.1 -18.6 3.3 -5.2 9.3 -13.4 5.4 -6.4 11.8 -12.2 3 -2.6 14.8 -11 8 -5 6.7 -3.6 14.8 -6.2 14.8 -4.6 14.7 -2.8 14.8 -1.1 14.7 0.7 14.8 2.3 14.8 4 14.7 5.8 11.1 5.5 3.7 2.2 14.8 10.5 7 5.9 7.7 7.7 9.6 10.9 5.2 7.2 7.3 11.4 7.4 14.6 1.9 4 6.3 18.6 4.1 18.6 1.9 18.7 -0.2 18.6 -2.4 18.6 -4.5 18.6 -6.8 18.6 -0.3 0.5 -9.6 18.1 -5.1 7.6 -8.3 11 -6.5 7.1 -12 11.5 -2.7 2.2 -14.8 10.2 -10.9 6.2 -3.9 1.9 -14.7 5.6 -14.8 3.9 -14.8 2.3 -14.7 0.6 -14.8 -1.1 -14.7 -2.7 -14.8 -4.4z"/>
<path stroke="#30698e" d="M273.8 614.7l-0.8 9.6 -2.2 18.6 -2.5 18.6 -2 12.2 -1.3 -12.2 -1.7 -18.6 -1.4 -18.6 -0.4 -6.1M261.1 463.4l-0.1 -6.5 1.2 -18.6 2 -18.6 2.1 -11.5 2.9 11.5 2.5 18.6 1.6 18.6 0.6 9.6M443.4 534.8l-6.7 -3.5 -8 -4.9 -14.8 -10.7 -3.5 -3 -11.3 -11.2 -6.4 -7.4 -8.3 -11.4 -4.7 -7.2 -9.6 -18.6 -0.5 -1.3 -6.1 -17.3 -4.4 -18.6 -2.3 -18.6 -0.3 -18.6 1.9 -18.7 4 -18.6 6.1 -18.6 1.1 -2.4 8 -16.2 6.8 -11 5.3 -7.6 9.4 -11.2 7.2 -7.4 7.6 -6.7 14.8 -11 1.3 -0.9 13.4 -7.2 14.8 -6.2 14.8 -4.5 3.3 -0.7 11.4 -1.9 14.8 -1 14.7 0.6 14.8 2.1 1.2 0.2 13.6 3.8 14.7 5.7 14.8 7.5 2.7 1.6 12.1 8.6 11.8 10 2.9 2.9 13.8 15.7 1 1.4 11 17.2 3.7 7.4 5.2 11.2 6.2 18.6 3.4 15.3 0.7 3.3 1.8 18.7 -0.2 18.6 -2.2 18.6 -0.1 0.3 -4.5 18.3 -6.7 18.6 -3.6 7.4 -5.9 11.2 -8.8 13.1 -4.1 5.5 -10.7 11.7 -7.1 6.9 -7.6 6.2 -14.8 10.2 -3.8 2.2 -11 5.3 -14.7 5.7 -14.8 3.9 -14.8 2.3 -14.7 0.6 -14.8 -1.1 -14.7 -2.7 -14.8 -4.5 -14.8 -6"/>
<path stroke="#2f6b8e" d="M274.1 614.4l-0.9 9.9 -2.1 18.6 -2.6 18.6 -2.2 13.7 -1.5 -13.7 -1.7 -18.6 -1.4 -18.6 -0.4 -6.3M260.9 463.6l-0.1 -6.7 1.2 -18.6 1.9 -18.6 2.4 -13 3.3 13 2.4 18.6 1.6 18.6 0.6 9.9M487.7 551.4l-9.3 -1.5 -5.4 -1.1 -14.8 -4.4 -14.8 -6 -13.5 -7.1 -1.2 -0.8 -14.8 -10.7 -8.3 -7.1 -6.5 -6.5 -10.6 -12.1 -4.1 -5.7 -8.3 -12.9 -6.5 -12.5 -2.9 -6.1 -6.5 -18.6 -4.4 -18.6 -0.9 -7.5 -1.3 -11.1 -0.2 -18.6 1.5 -15.9 0.2 -2.8 4 -18.6 6.1 -18.6 4.4 -9.9 4.3 -8.7 10.5 -16.9 1.1 -1.7 13.6 -16.1 2.4 -2.5 12.4 -10.9 10.3 -7.7 4.5 -2.9 14.7 -8 14.8 -6.2 4.8 -1.5 10 -2.7 14.7 -2.5 14.8 -0.9 14.7 0.5 14.8 2.1 14.7 3.5 0.1 0.1 14.7 5.7 14.8 7.5 8.6 5.3 6.2 4.4 14.7 12.5 1.8 1.7 13 14.9 2.9 3.7 11.8 18.6 0.1 0 8.5 18.6 6.2 18.6 3.8 18.6 1.7 18.7 -0.2 18.6 -2.1 18.6 -3.2 14.2 -1.1 4.4 -6.7 18.6 -7 14.5 -2.1 4.1 -12.4 18.6 -0.2 0.2 -14.8 16.3 -2.1 2.1 -12.6 10.3 -12 8.3 -2.8 1.7 -14.8 7.2 -14.7 5.6 -14.8 4 -0.5 0.1 -14.3 1.9 -14.7 0.5z"/>
<path stroke="#2e6d8e" d="M274.4 614l-0.9 10.3 -2.2 18.6 -2.5 18.6 -2.5 15.3 -1.7 -15.3 -1.7 -18.6 -1.4 -18.6 -0.4 -6.5M260.7 463.9l-0.1 -7 1.1 -18.6 1.9 -18.6 2.7 -14.6 3.7 14.6 2.3 18.6 1.6 18.6 0.6 10.3M473 552.3l-9.1 -2.4 -5.7 -1.7 -14.8 -6.1 -14.7 -7.8 -4.9 -3 -9.9 -7.3 -13.3 -11.3 -1.5 -1.5 -14.7 -17 -0.2 -0.1 -12 -18.6 -2.6 -5.1 -6.3 -13.5 -6.5 -18.6 -1.9 -8.2 -2.3 -10.4 -2.1 -18.6 -0.2 -18.6 1.7 -18.7 2.9 -14.5 0.8 -4.1 6.1 -18.6 7.8 -17.6 0.5 -1 11.5 -18.6 2.8 -3.7 12.5 -14.9 2.2 -2.2 14.8 -13 4.4 -3.4 10.4 -6.7 14.7 -8 9.2 -3.9 5.6 -2 14.8 -4.1 14.7 -2.4 14.8 -1 14.7 0.5 14.8 2.1 14.8 3.6 9.7 3.3 5 2 14.8 7.5 14.8 9.1 14.7 12.5 6.3 6.1 8.5 9.7 6.8 8.9 7.9 12.4 3.6 6.2 8.5 18.6 2.7 8.1 3.2 10.5 3.7 18.6 1.8 18.7 -0.2 18.6 -2.2 18.6 -4.1 18.6 -2.2 6.7 -4.3 11.9 -8.9 18.6 -1.6 2.6 -10.6 16 -4.1 5.1 -12.2 13.5 -2.6 2.4 -14.7 12.1 -5.8 4.1 -9 5.4 -14.8 7.3 -14.7 5.6 -1.1 0.3 -13.7 3.2 -14.8 2 -14.7 0.6 -14.8 -1z"/>
<path stroke="#2e6f8e" d="M274.7 613.6l-1 10.7 -2.1 18.6 -2.6 18.6 -2.7 17 -1.8 -17 -1.7 -18.6 -1.5 -18.6 -0.4 -6.8M260.5 464.1l-0.1 -7.2 1.1 -18.6 1.8 -18.6 3 -16.3 4.1 16.3 2.2 18.6 1.5 18.6 0.7 10.7M458.2 551.8l-5.2 -1.9 -9.6 -4 -14.7 -7.7 -10.9 -6.9 -3.9 -2.9 -14.8 -12.6 -3.1 -3.1 -11.6 -13.3 -4.1 -5.3 -10.7 -16.6 -1.2 -2 -8.6 -18.6 -4.9 -14.1 -1.5 -4.5 -4 -18.6 -2.1 -18.6 -0.2 -18.6 1.7 -18.7 3.6 -18.6 2.5 -8.1 3.4 -10.5 8.2 -18.6 3.1 -5.6 8.1 -13 6.7 -9 8 -9.6 6.7 -6.8 13.4 -11.8 1.4 -1 14.8 -9.7 14.6 -7.9 0.1 0 14.8 -5.5 14.8 -4.1 14.7 -2.5 14.8 -0.9 14.7 0.5 14.8 2.1 14.8 3.6 14.7 5.1 4 1.7 10.8 5.5 14.8 9.2 5.3 3.9 9.4 8 10.9 10.6 3.9 4.4 10.9 14.2 3.8 6 7.3 12.6 7.5 16.7 0.8 1.9 5.7 18.6 3.7 18.6 1.8 18.7 -0.2 18.6 -2.2 18.6 -4.1 18.6 -5.5 16.8 -0.6 1.8 -8.9 18.6 -5.3 8.7 -6.5 9.9 -8.2 10.3 -7.5 8.3 -7.3 6.8 -14.3 11.8 -0.4 0.3 -14.8 8.9 -14.8 7.3 -5.3 2.1 -9.4 3.1 -14.8 3.5 -14.8 2.1 -14.7 0.5 -14.8 -1 -14.7 -2.4 -14.8 -3.9"/>
<path stroke="#2d718e" d="M275 613.2l-1 11.1 -2.1 18.6 -2.6 18.6 -3 18.6 0 0.1 0 -0.1 -2 -18.6 -1.7 -18.6 -1.4 -18.6 -0.5 -7M260.3 464.4l-0.1 -7.5 1 -18.6 1.8 -18.6 3.3 -17.9 4.5 17.9 2.2 18.6 1.4 18.6 0.7 11.1M443.4 549.9l-0.1 0 -14.6 -7.7 -14.8 -9.4 -2 -1.5 -12.8 -11 -7.7 -7.6 -7 -8 -8.2 -10.6 -6.6 -10.3 -4.8 -8.3 -8.7 -18.6 -1.2 -3.7 -4.8 -14.9 -4 -18.6 -2.1 -18.6 -0.2 -18.6 1.7 -18.7 3.6 -18.6 5.6 -18.6 0.2 -0.5 7.9 -18.1 6.8 -12.2 4 -6.4 10.8 -14.5 3.4 -4.1 11.3 -11.4 8.1 -7.2 6.7 -5.1 14.8 -9.7 7 -3.8 7.7 -3.6 14.8 -5.6 14.8 -4 14.7 -2.5 14.8 -1 14.7 0.6 14.8 2 14.8 3.6 14.7 5.1 12.1 5.4 2.7 1.4 14.8 9.2 10.9 8 3.8 3.3 14.8 14.4 0.8 0.9 13.9 18.1 0.4 0.5 10.6 18.6 3.8 8.4 4.2 10.2 5.7 18.6 3.7 18.6 1.2 12.1 0.5 6.6 -0.1 18.6 -0.4 3.6 -1.8 15 -4.1 18.6 -6.1 18.6 -2.8 6.5 -5.8 12.1 -9 15.1 -2.3 3.5 -12.4 15.6 -2.7 3 -12.1 11.4 -8.7 7.2 -6 4.3 -14.8 8.9 -10.8 5.4 -4 1.7 -14.7 5 -14.8 3.5 -14.8 2 -14.7 0.5 -14.8 -0.9 -14.7 -2.4 -14.8 -4z"/>
<path stroke="#2c728e" d="M275.3 612.8l-1 11.5 -2.1 18.6 -2.6 18.6 -3 18.6 -0.3 1.6 -0.2 -1.6 -2 -18.6 -1.7 -18.6 -1.4 -18.6 -0.5 -7.3M260.1 464.7l-0.1 -7.8 1 -18.6 1.7 -18.6 3.3 -18.6 0.3 -1 0.4 1 4.6 18.6 2 18.6 1.4 18.6 0.7 11.5M443.4 553.6l-8 -3.7 -6.7 -3.6 -14.8 -9.4 -7.5 -5.6 -7.3 -6.3 -12.5 -12.3 -2.2 -2.6 -12.4 -16 -2.4 -3.7 -8.6 -14.9 -6.1 -13.2 -2.3 -5.4 -5.9 -18.6 -4 -18.6 -2.2 -18.6 -0.1 -18.6 1.7 -18.7 3.6 -18.6 5.5 -18.6 3.7 -9.1 4.2 -9.5 10.3 -18.6 0.2 -0.3 13.6 -18.3 1.2 -1.3 14.7 -15 2.6 -2.3 12.2 -9.3 14.1 -9.3 0.7 -0.4 14.7 -7 14.8 -5.5 14.8 -4.1 9.4 -1.6 5.3 -0.8 14.8 -0.8 14.7 0.5 9.5 1.1 5.3 0.8 14.8 3.6 14.7 5.1 14.8 6.6 4.6 2.5 10.2 6.4 14.7 10.8 1.7 1.4 13.1 12.9 5.2 5.7 9.5 12.5 4.3 6.1 10.5 18.4 0.1 0.2 7.7 18.6 5.6 18.6 1.4 6.7 2.1 11.9 1.7 18.7 -0.2 18.6 -2 18.6 -1.6 8 -2.4 10.6 -6 18.6 -6.4 14.6 -1.9 4 -11 18.6 -1.9 2.5 -12.7 16.1 -2 2.1 -14.8 14 -3 2.5 -11.7 8.4 -14.8 9 -2.4 1.2 -12.4 5.4 -14.7 5 -14.8 3.5 -14.8 2 -14.7 0.5 -14.8 -0.9 -14.7 -2.5 -14.8 -3.9z"/>
<path stroke="#2b748e" d="M275.7 612.4l-1.1 11.9 -2.1 18.6 -2.6 18.6 -3 18.6 -0.6 3.2 -0.4 -3.2 -2 -18.6 -1.7 -18.6 -1.4 -18.6 -0.5 -7.5M259.8 465l-0.1 -8.1 1 -18.6 1.7 -18.6 3.2 -18.6 0.7 -2.6 1.1 2.6 4.3 18.6 2 18.6 1.3 18.6 0.8 11.9M487.7 569.1l-4.3 -0.6 -10.4 -1.8 -14.8 -3.9 -14.8 -5.4 -14.7 -6.9 -1.2 -0.6 -13.6 -8.7 -13.2 -9.9 -1.6 -1.4 -14.7 -14.5 -2.5 -2.7 -12.3 -16 -1.8 -2.6 -10.7 -18.6 -2.2 -4.8 -5.9 -13.8 -5.9 -18.6 -3 -14 -0.9 -4.6 -1.9 -18.6 -0.2 -18.6 1.5 -18.7 1.5 -8.1 2 -10.5 5.6 -18.6 7.2 -17.9 0.2 -0.7 10.3 -18.6 4.2 -6.2 9.2 -12.4 5.6 -6.3 12 -12.3 2.7 -2.4 14.8 -11.3 7.4 -4.9 7.4 -4.3 14.7 -7 14.8 -5.5 6.3 -1.8 8.5 -2 14.7 -2.3 14.8 -0.8 14.7 0.5 14.8 1.8 13 2.8 1.8 0.5 14.7 5.1 14.8 6.6 11.7 6.4 3.1 2 14.7 10.9 6.8 5.7 8 7.8 9.7 10.8 5 6.6 8.3 12 6.5 11.4 3.8 7.2 7.6 18.6 3.4 11.1 2.1 7.5 3.4 18.6 1.6 18.7 -0.2 18.6 -2 18.6 -3.7 18.6 -1.2 4 -4.8 14.6 -8 18.6 -2 3.6 -8.9 15 -5.9 8.2 -8.2 10.4 -6.5 7 -12.2 11.6 -2.6 2.1 -14.7 10.6 -9.7 5.9 -5.1 2.7 -14.8 6.5 -14.7 5 -14.8 3.5 -6.5 0.9 -8.3 1 -14.7 0.5 -14.8 -0.9"/>
<path stroke="#2a768e" d="M276 612l-1.1 12.3 -2.1 18.6 -2.6 18.6 -3 18.6 -0.9 4.8 -0.6 -4.8 -2 -18.6 -1.7 -18.6 -1.4 -18.6 -0.5 -7.8M259.6 465.3l-0.1 -8.4 0.9 -18.6 1.6 -18.6 3.1 -18.6 1.2 -4.3 1.8 4.3 4.1 18.6 1.9 18.6 1.3 18.6 0.7 12.3M473 570.5l-8.4 -2 -6.4 -1.7 -14.8 -5.5 -14.7 -6.9 -8.1 -4.5 -6.7 -4.3 -14.8 -11.1 -3.7 -3.2 -11 -10.9 -7 -7.7 -7.8 -10.1 -5.9 -8.5 -8.8 -15.4 -1.7 -3.2 -7.9 -18.6 -5.2 -16.6 -0.6 -2 -3.7 -18.6 -1.9 -18.6 -0.2 -18.6 1.6 -18.7 3.3 -18.6 1.5 -5.5 3.9 -13.1 7.4 -18.6 3.5 -6.8 6.5 -11.8 8.2 -12.3 4.7 -6.3 10.1 -11.5 6.9 -7.1 7.8 -6.9 14.8 -11.4 0.4 -0.3 14.4 -8.3 14.7 -7 8.6 -3.3 6.2 -2 14.8 -3.6 14.7 -2.3 14.8 -0.9 14.7 0.5 14.8 1.9 14.8 3.2 10.4 3.2 4.3 1.6 14.8 6.6 14.8 8.1 3.5 2.3 11.2 8.3 12.1 10.3 2.7 2.6 14.4 16 0.3 0.5 12.5 18.1 2.3 4 7.5 14.6 7.3 17.6 0.4 1 5.1 18.6 3.4 18.6 1.6 18.7 -0.2 18.6 -1.9 18.6 -3.8 18.6 -4.6 15.5 -1 3.1 -8.1 18.6 -5.7 10.6 -4.7 8 -10.1 14.1 -3.5 4.5 -11.2 12 -6.9 6.6 -7.9 6.5 -14.7 10.6 -2.4 1.5 -12.4 6.6 -14.8 6.5 -14.7 5 -1.9 0.5 -12.9 2.7 -14.8 1.8 -14.7 0.5 -14.8 -0.8z"/>
<path stroke="#2a788e" d="M276.4 611.5l-1.2 12.8 -2.1 18.6 -2.6 18.6 -3 18.6 -1.2 6.6 -0.8 -6.6 -2 -18.6 -1.7 -18.6 -1.4 -18.6 -0.5 -8.1M259.3 465.6l0 -8.7 0.8 -18.6 1.6 -18.6 3 -18.6 1.6 -6 2.5 6 3.9 18.6 1.7 18.6 1.3 18.6 0.8 12.8M458.2 570.6l-6.5 -2.1 -8.3 -3.1 -14.7 -6.9 -14.8 -8.4 -0.4 -0.2 -14.4 -10.8 -9 -7.8 -5.7 -5.6 -11.7 -13 -3.1 -4.1 -10.1 -14.5 -4.6 -8.2 -5.5 -10.4 -7.9 -18.6 -1.4 -4.6 -4.1 -14 -3.7 -18.6 -1.9 -18.6 -0.2 -18.6 1.6 -18.7 3.3 -18.6 5 -18.3 0.1 -0.3 7.4 -18.6 7.3 -14.4 2.3 -4.2 12.4 -18.6 14.8 -16.9 1.6 -1.7 13.1 -11.6 9.1 -7 5.7 -3.9 14.8 -8.6 12.7 -6.1 2 -0.8 14.8 -5 14.8 -3.6 14.7 -2.2 14.8 -0.9 14.7 0.5 14.8 1.8 14.8 3.3 14.7 4.5 6 2.4 8.8 4 14.8 8.2 9.9 6.4 4.8 3.6 14.8 12.6 2.5 2.4 12.2 13.7 4.1 4.9 10.7 15.7 1.9 2.9 9.6 18.6 3.3 8.1 3.9 10.5 5.2 18.6 3.4 18.6 1.6 18.7 -0.2 18.6 -2 18.6 -3.7 18.6 -5.6 18.6 -2.6 6.7 -5.1 11.9 -9.7 17.9 -0.4 0.7 -13.2 18.6 -1.2 1.3 -14.7 15.9 -1.4 1.4 -13.4 11.1 -10.4 7.5 -4.3 2.8 -14.8 7.9 -14.8 6.5 -4 1.4 -10.7 3.2 -14.8 3.2 -14.8 1.8 -14.7 0.5 -14.8 -0.9 -14.7 -2.2z"/>
<path stroke="#297a8e" d="M276.8 611.1l-1.3 13.2 -2.1 18.6 -2.6 18.6 -3 18.6 -1.5 8.3 -1 -8.3 -2 -18.6 -1.7 -18.6 -1.4 -18.6 -0.6 -8.4M259.1 465.9l-0.1 -9 0.8 -18.6 1.5 -18.6 2.9 -18.6 2.1 -7.8 3.3 7.8 3.6 18.6 1.6 18.6 1.3 18.6 0.8 13.3M443.4 569.5l-2.5 -1 -12.2 -5.7 -14.8 -8.4 -6.7 -4.5 -8.1 -6.1 -14.5 -12.5 -0.2 -0.2 -14.8 -16.5 -1.6 -1.9 -12.8 -18.6 -0.3 -0.6 -9.5 -18 -5.3 -12.7 -2.3 -5.9 -5.4 -18.6 -3.7 -18.6 -1.9 -18.6 -0.2 -18.6 1.6 -18.7 3.3 -18.6 5.1 -18.6 3.5 -9.6 3.6 -9 9.3 -18.6 1.9 -3 10.3 -15.6 4.4 -5.6 11.4 -13 3.4 -3.4 14.7 -13.1 2.7 -2.1 12.1 -8.2 14.8 -8.6 3.7 -1.8 11 -4.7 14.8 -5 14.8 -3.6 14.7 -2.2 14.8 -0.9 14.7 0.5 14.8 1.9 14.8 3.2 14.7 4.6 14.8 5.9 0.6 0.3 14.2 7.8 14.7 9.7 1.5 1.1 13.3 11.3 7.5 7.3 7.2 8.1 8.5 10.5 6.3 9.1 5.9 9.5 8.9 17.2 0.6 1.4 7 18.6 5.2 18.6 1.9 10.7 1.4 7.9 1.4 18.7 -0.1 18.6 -1.8 18.6 -0.9 4.4 -2.8 14.2 -5.6 18.6 -6.3 16.1 -1.1 2.5 -10 18.6 -3.7 5.7 -9.1 12.9 -5.7 6.7 -10.9 11.9 -3.8 3.6 -14.8 12.2 -3.8 2.8 -10.9 7 -14.8 7.9 -8.2 3.7 -6.6 2.5 -14.7 4.5 -14.8 3.2 -14.8 1.8 -14.7 0.5 -14.8 -0.9 -14.7 -2.2 -14.8 -3.5z"/>
<path stroke="#287c8e" d="M277.1 610.6l-1.2 13.7 -2.2 18.6 -2.5 18.6 -3 18.6 -1.9 10.2 -1.3 -10.2 -2 -18.6 -1.7 -18.6 -1.4 -18.6 -0.5 -8.7M258.8 466.3l-0.1 -9.4 0.8 -18.6 1.4 -18.6 2.8 -18.6 2.6 -9.6 4.1 9.6 3.4 18.6 1.5 18.6 1.1 18.6 0.8 13.8M443.4 573.5l-11.9 -5 -2.8 -1.4 -14.8 -8.4 -13.3 -8.8 -1.5 -1.1 -14.7 -12.8 -4.9 -4.7 -9.9 -11.1 -6.1 -7.5 -8.6 -12.6 -3.8 -6 -9.8 -18.6 -1.2 -3 -6 -15.6 -5.4 -18.6 -3.4 -16.9 -0.3 -1.7 -1.7 -18.6 -0.2 -18.6 1.4 -18.7 0.8 -4.8 2.5 -13.8 5 -18.6 6.8 -18.6 0.5 -1 8.8 -17.6 6 -9.7 5.8 -8.9 8.9 -11.3 6.3 -7.3 8.5 -8.4 11.4 -10.2 3.3 -2.6 14.8 -10.1 10.1 -5.9 4.7 -2.4 14.7 -6.3 14.8 -5 14.8 -3.6 8.3 -1.3 6.4 -0.9 14.8 -0.7 14.7 0.4 10.9 1.2 3.9 0.5 14.8 3.3 14.7 4.5 14.8 6 8.8 4.3 6 3.4 14.7 9.6 7.4 5.6 7.4 6.3 12.7 12.3 2 2.3 13.2 16.3 1.6 2.4 10.1 16.2 4.7 9.1 4.5 9.5 6.9 18.6 3.3 11.9 1.8 6.7 3.1 18.6 1.5 18.7 -0.2 18.6 -1.8 18.6 -3.5 18.6 -0.9 3.2 -4.5 15.4 -7.4 18.6 -2.8 5.8 -6.9 12.8 -7.9 12.2 -4.5 6.4 -10.3 12.3 -5.7 6.3 -9 8.5 -12.1 10.1 -2.7 1.9 -14.7 9.5 -13.4 7.2 -1.4 0.6 -14.8 5.9 -14.7 4.5 -14.8 3.1 -14.8 1.9 -14.7 0.4 -14.8 -0.8 -14.7 -2.2 -14.8 -3.6 -14.8 -4.8"/>
<path stroke="#277e8e" d="M277.5 610.1l-1.3 14.2 -2.1 18.6 -2.6 18.6 -3 18.6 -2.2 12.1 -1.5 -12.1 -2 -18.6 -1.7 -18.6 -1.4 -18.6 -0.5 -9M258.5 466.6l0 -9.7 0.7 -18.6 1.3 -18.6 2.7 -18.6 3.1 -11.6 4.9 11.6 3.1 18.6 1.4 18.6 1.1 18.6 0.9 14.3M487.7 588.1l-7.3 -1 -7.4 -1.1 -14.8 -3.6 -14.8 -4.8 -14.7 -6.3 -5.7 -2.8 -9.1 -5.2 -14.8 -9.9 -4.6 -3.5 -10.1 -8.8 -10.1 -9.8 -4.7 -5.3 -10.7 -13.3 -4 -5.8 -8.1 -12.8 -6.7 -12.9 -2.7 -5.7 -7.2 -18.6 -4.9 -16.8 -0.5 -1.8 -3.3 -18.6 -1.8 -18.6 -0.2 -18.6 1.5 -18.7 3 -18.6 1.3 -5.2 3.7 -13.4 6.8 -18.6 4.3 -9.4 4.6 -9.2 10.2 -16.7 1.2 -1.9 13.5 -17.3 1.1 -1.3 13.7 -13.7 5.5 -4.9 9.2 -7.2 14.8 -10.1 2.2 -1.3 12.6 -6.5 14.7 -6.4 14.8 -5 2.9 -0.7 11.9 -2.6 14.7 -2 14.8 -0.8 14.7 0.4 14.8 1.7 14.8 2.9 1.4 0.4 13.3 4.2 14.8 5.9 14.8 7.4 2 1.1 12.7 8.4 13.6 10.2 1.2 1.1 14.7 14.3 3 3.2 11.8 14.7 2.9 3.9 11.6 18.6 0.3 0.7 8.4 17.9 6.3 16.9 0.6 1.7 4.8 18.6 3.1 18.6 1.5 18.7 -0.2 18.6 -1.8 18.6 -3.4 18.6 -4.6 16.5 -0.6 2.1 -7.3 18.6 -6.8 13.9 -2.6 4.7 -11.9 18.6 -0.3 0.3 -14.8 17.8 -0.3 0.5 -14.4 13.6 -6 5 -8.8 6.4 -14.7 9.5 -5 2.7 -9.8 4.7 -14.8 5.9 -14.7 4.5 -14.8 3.1 -2.8 0.4 -12 1.3 -14.7 0.4z"/>
<path stroke="#277f8e" d="M277.9 609.6l-1.3 14.7 -2.2 18.6 -2.5 18.6 -3 18.6 -2.6 14 -1.7 -14 -2 -18.6 -1.7 -18.6 -1.4 -18.6 -0.6 -9.3M258.3 467l-0.1 -10.1 0.7 -18.6 1.2 -18.6 2.5 -18.6 3.7 -13.6 5.8 13.6 2.8 18.6 1.2 18.6 1.1 18.6 0.9 14.8M473 589.9l-13.1 -2.8 -1.7 -0.5 -14.8 -4.8 -14.7 -6.2 -13.9 -7.1 -0.9 -0.5 -14.8 -9.9 -10.7 -8.2 -4 -3.5 -14.8 -14.5 -0.6 -0.6 -14.1 -17.6 -0.8 -1 -11.6 -18.6 -2.4 -4.6 -6.7 -14 -7.2 -18.6 -0.9 -3.1 -4.1 -15.5 -3.4 -18.6 -1.8 -18.6 -0.2 -18.6 1.5 -18.7 3 -18.6 4.7 -18.6 0.3 -1 6.5 -17.6 8.3 -18.1 0.2 -0.5 11.3 -18.6 3.3 -4.6 10.9 -14 3.8 -4.3 14.3 -14.3 0.5 -0.4 14.7 -11.6 9.6 -6.6 5.2 -3.1 14.8 -7.8 14.7 -6.3 4.1 -1.4 10.7 -3.2 14.8 -3.3 14.7 -2 14.8 -0.8 14.7 0.4 14.8 1.7 14.8 2.9 14.7 4.2 0.5 0.1 14.3 5.8 14.8 7.3 9.3 5.5 5.4 3.6 14.8 11.2 4.5 3.8 10.2 10 8 8.6 6.8 8.5 7.4 10.1 7.4 11.9 3.8 6.7 8.7 18.6 2.2 5.9 4.4 12.7 4.8 18.6 3.1 18.6 1.5 18.7 -0.2 18.6 -1.8 18.6 -3.5 18.6 -5.1 18.6 -3.2 8.8 -3.8 9.8 -9.1 18.6 -1.8 3 -10 15.6 -4.8 6.3 -10.1 12.3 -4.7 4.9 -14.4 13.7 -0.3 0.2 -14.8 10.9 -11.6 7.5 -3.1 1.8 -14.8 7.1 -14.8 5.9 -12.4 3.8 -2.3 0.6 -14.8 2.9 -14.8 1.6 -14.7 0.5 -14.8 -0.8z"/>
<path stroke="#26818e" d="M278.4 609l-1.4 15.3 -2.2 18.6 -2.5 18.6 -3 18.6 -3 16.1 -2 -16.1 -2 -18.6 -1.7 -18.6 -1.4 -18.6 -0.6 -9.7M281 523.4l0.5 7.9 -0.1 18.6 -0.4 8.2M258 467.3l-0.1 -10.4 0.6 -18.6 1.2 -18.6 2.4 -18.6 4.2 -15.6 6.7 15.6 2.5 18.6 1.1 18.6 1 18.6 0.9 15.4M458.2 590.7l-12 -3.6 -2.8 -1 -14.7 -6.2 -14.8 -7.5 -6.5 -3.9 -8.3 -5.6 -14.7 -11.3 -2 -1.7 -12.8 -12.5 -5.6 -6.1 -9.1 -11.4 -5.3 -7.2 -9.5 -15.2 -2 -3.4 -8.9 -18.6 -3.9 -10.2 -3 -8.4 -5 -18.6 -3.3 -18.6 -1.8 -18.6 -0.2 -18.6 1.5 -18.7 3 -18.6 4.7 -18.6 4.1 -12.3 2.3 -6.3 8.6 -18.6 3.9 -7.1 6.9 -11.5 7.9 -11 5.9 -7.6 8.8 -9.9 8.7 -8.7 6.1 -5.4 14.7 -11.6 2.4 -1.6 12.4 -7.6 14.8 -7.7 7.5 -3.3 7.2 -2.8 14.8 -4.5 14.8 -3.3 14.7 -2 14.8 -0.8 14.7 0.4 14.8 1.7 14.8 3 14.7 4.1 11.5 4.2 3.3 1.4 14.8 7.3 14.7 8.7 1.9 1.2 12.9 9.8 10.2 8.8 4.5 4.4 13.2 14.2 1.6 2.1 12 16.5 2.8 4.4 8 14.2 6.7 14.3 1.9 4.3 6.4 18.6 4.8 18.6 1.7 10.3 1.3 8.3 1.4 18.7 -0.2 18.6 -1.7 18.6 -0.8 4.8 -2.6 13.8 -5.1 18.6 -6.7 18.6 -0.4 0.8 -8.7 17.8 -6 10.3 -5.4 8.3 -9.4 12.6 -5 6 -9.8 10.3 -8.7 8.3 -6 5 -14.8 11 -4 2.6 -10.7 6.1 -14.8 7.2 -13.3 5.3 -1.5 0.5 -14.7 4.1 -14.8 2.9 -14.8 1.6 -14.7 0.5 -14.8 -0.8 -14.7 -2z"/>
<path stroke="#26828e" d="M278.8 608.5l-1.4 15.8 -2.2 18.6 -2.6 18.6 -3 18.6 -3.3 18.2 -2.2 -18.2 -2 -18.6 -1.7 -18.6 -1.4 -18.6 -0.7 -10M281 509.5l0.5 3.2 0.8 18.6 -0.2 18.6 -0.8 18.6 -0.3 3.3M257.7 467.7l-0.1 -10.8 0.6 -18.6 1.1 -18.6 2.2 -18.6 4.8 -17.7 7.6 17.7 2.2 18.6 1 18.6 0.9 18.6 1 15.9M443.4 590.3l-8.6 -3.2 -6.1 -2.6 -14.8 -7.6 -14 -8.4 -0.8 -0.5 -14.7 -11.4 -7.8 -6.7 -7 -6.9 -10.8 -11.7 -3.9 -5 -10 -13.6 -4.8 -7.7 -6.3 -10.9 -8.5 -17.8 -0.3 -0.8 -6.6 -18.6 -5 -18.6 -2.8 -15.6 -0.5 -3 -1.7 -18.6 -0.1 -18.6 1.3 -18.7 1 -6.3 2 -12.3 4.6 -18.6 6.3 -18.6 1.8 -4.3 6.6 -14.3 8.2 -14.8 2.3 -3.8 12.5 -17.6 0.7 -1 14 -15.6 2.9 -3 11.9 -10.5 10.2 -8.1 4.5 -3.2 14.8 -9 12.1 -6.4 2.7 -1.2 14.7 -5.8 14.8 -4.5 14.8 -3.3 14.7 -2 14.8 -0.8 14.7 0.5 14.8 1.6 14.8 3 14.7 4.1 14.8 5.4 6.6 3 8.2 4.1 14.7 8.7 8.7 5.8 6.1 4.7 14.7 12.7 1.4 1.2 13.4 14.6 3.3 4 11.5 15.8 1.9 2.8 10.5 18.6 2.3 5 6 13.6 6.4 18.6 2.4 9.6 2.1 9 2.9 18.6 1.4 18.7 -0.2 18.6 -1.6 18.6 -3.2 18.6 -1.4 5.4 -3.6 13.2 -6.8 18.6 -4.4 9.7 -4.3 8.9 -10.4 17.8 -0.5 0.8 -14 18.6 -0.3 0.3 -14.8 15.7 -2.7 2.6 -12 10.1 -11.5 8.5 -3.3 2.2 -14.7 8.5 -14.8 7.1 -1.8 0.8 -13 4.6 -14.7 4.1 -14.8 2.9 -14.8 1.6 -14.7 0.5 -14.8 -0.8 -14.7 -2 -14.8 -3.2 -14.8 -4.5"/>
<path stroke="#25848e" d="M279.3 607.9l-1.5 16.4 -2.2 18.6 -2.6 18.6 -3 18.6 -3.4 18.6 -0.3 1.5 -0.2 -1.5 -2.3 -18.6 -2 -18.6 -1.7 -18.6 -1.4 -18.6 -0.6 -10.4M281 500.4l1.7 12.3 0.6 18.6 -0.4 18.6 -0.9 18.6 -1 12.1M257.4 468.1l-0.2 -11.2 0.6 -18.6 1 -18.6 2.1 -18.6 4.8 -18.6 0.6 -1.4 1.2 1.4 7.4 18.6 1.8 18.6 0.8 18.6 0.9 18.6 1 16.5M428.7 589l-4.1 -1.9 -10.7 -5.5 -14.8 -8.9 -6.1 -4.2 -8.6 -6.7 -13.8 -11.9 -1 -1 -14.7 -16.1 -1.3 -1.5 -13.5 -18.6 -0.1 0 -10.6 -18.6 -4.1 -8.5 -4.4 -10.1 -6.6 -18.6 -3.7 -13.9 -1.2 -4.7 -3.1 -18.6 -1.7 -18.6 -0.1 -18.6 1.3 -18.7 2.8 -18.6 2 -8.3 2.5 -10.3 6.3 -18.6 5.9 -14 2.1 -4.6 10.3 -18.6 2.4 -3.6 10.6 -15 4.2 -5.1 12 -13.5 2.7 -2.7 14.8 -13.1 3.5 -2.8 11.2 -7.9 14.8 -9.1 3 -1.6 11.8 -5.6 14.7 -5.7 14.8 -4.5 12.3 -2.8 2.5 -0.5 14.7 -1.8 14.8 -0.8 14.7 0.5 14.8 1.5 6.3 1.1 8.5 1.7 14.7 4.2 14.8 5.4 14.8 6.6 1.3 0.7 13.4 8 14.8 10 0.8 0.6 13.9 12.1 6.9 6.5 7.9 8.6 8.3 10 6.5 8.9 6.4 9.7 8.3 14.7 2.1 3.9 8 18.6 4.7 13.6 1.6 5 4.4 18.6 2.9 18.6 1.4 18.7 -0.2 18.6 -1.7 18.6 -3.2 18.6 -4.7 18.6 -0.5 1.5 -6.2 17.1 -8.4 18.6 -0.2 0.3 -10.6 18.3 -4.1 5.9 -9.5 12.7 -5.3 6.2 -11.7 12.4 -3.1 2.9 -14.7 12.4 -4.5 3.3 -10.3 6.8 -14.7 8.6 -6.6 3.2 -8.2 3.6 -14.8 5.3 -14.7 4.1 -14.8 2.9 -14.8 1.6 -14.7 0.4 -14.8 -0.7 -14.7 -2 -14.8 -3.3 -14.8 -4.4z"/>
<path stroke="#24868e" d="M279.7 607.3l-1.5 17 -2.2 18.6 -2.5 18.6 -3 18.6 -3.5 18.6 -0.7 3.6 -0.5 -3.6 -2.3 -18.6 -2 -18.6 -1.7 -18.6 -1.4 -18.6 -0.6 -10.8M281 491.9l0.7 2.2 2.2 18.6 0.3 18.6 -0.5 18.6 -1 18.6 -1.5 18.6 -0.2 1.7M257 468.5l-0.1 -11.6 0.5 -18.6 1 -18.6 1.9 -18.6 4.5 -18.6 1.5 -3.7 3.4 3.7 6.1 18.6 1.6 18.6 0.7 18.6 0.8 18.6 1 17.1M473 606.6l-4.7 -0.9 -10.1 -2.2 -14.8 -4.5 -14.7 -5.6 -13.6 -6.3 -1.2 -0.6 -14.8 -8.9 -13.1 -9.1 -1.6 -1.3 -14.8 -12.8 -4.6 -4.5 -10.1 -11.1 -6.3 -7.5 -8.5 -11.7 -4.7 -6.9 -10.1 -17.7 -0.5 -0.9 -8.2 -18.6 -6 -17.2 -0.5 -1.4 -4.6 -18.6 -3.2 -18.6 -1.6 -18.6 -0.2 -18.6 1.4 -18.7 2.8 -18.6 4.3 -18.6 1.6 -4.9 4.6 -13.7 7.8 -18.6 2.3 -4.5 7.8 -14.1 7 -10.7 5.5 -7.9 9.3 -11.3 6.4 -7.3 8.3 -8.2 11.7 -10.4 3.1 -2.5 14.7 -10.4 9.3 -5.7 5.5 -3.1 14.8 -7 14.7 -5.7 9 -2.8 5.8 -1.6 14.8 -3 14.7 -1.8 14.8 -0.8 14.7 0.4 14.8 1.6 14.8 2.7 9.9 2.5 4.8 1.4 14.8 5.4 14.8 6.7 9.7 5.1 5 3 14.8 10.1 7.2 5.5 7.5 6.5 12.6 12.1 2.2 2.4 13.5 16.2 1.3 1.8 11.1 16.8 3.6 6.4 6.4 12.2 8.1 18.6 0.3 1 5.6 17.6 4.4 18.6 2.9 18.6 1.4 18.7 -0.2 18.6 -1.7 18.6 -3.2 18.6 -4.7 18.6 -4.5 13.5 -1.8 5.1 -8.4 18.6 -4.6 8.4 -5.9 10.2 -8.8 12.8 -4.3 5.8 -10.5 12.2 -6 6.4 -8.8 8.2 -12.2 10.4 -2.5 1.8 -14.8 9.9 -11.9 6.9 -2.8 1.5 -14.8 6.5 -14.8 5.3 -14.7 4.1 -6 1.2 -8.8 1.5 -14.8 1.5 -14.7 0.4 -14.8 -0.7z"/>
<path stroke="#23888e" d="M280.2 606.7l-1.6 17.6 -2.1 18.6 -2.6 18.6 -3 18.6 -3.4 18.6 -1.2 5.6 -0.8 -5.6 -2.3 -18.6 -2 -18.6 -1.7 -18.6 -1.4 -18.6 -0.7 -11.2M281 484.8l2.7 9.3 1.5 18.6 0 18.6 -0.7 18.6 -1.1 18.6 -1.5 18.6 -0.9 8M256.7 468.9l-0.1 -12 0.4 -18.6 0.9 -18.6 1.7 -18.6 4.2 -18.6 2.5 -6.2 5.6 6.2 5 18.6 1.2 18.6 0.5 18.6 0.7 18.6 1.1 17.7M458.2 607.8l-7.9 -2.1 -6.9 -2.1 -14.7 -5.7 -14.8 -6.8 -7.3 -4 -7.5 -4.5 -14.7 -10.2 -5 -3.9 -9.8 -8.6 -10.4 -10 -4.3 -4.8 -11.6 -13.8 -3.2 -4.5 -9.4 -14.1 -5.4 -9.4 -4.8 -9.2 -8.2 -18.6 -1.7 -4.8 -4.6 -13.8 -4.6 -18.6 -3.1 -18.6 -1.7 -18.6 -0.1 -18.6 1.3 -18.7 2.8 -18.6 4.4 -18.6 5.6 -17.9 0.2 -0.7 7.8 -18.6 6.7 -13.1 3.1 -5.5 11.7 -18.1 0.3 -0.5 14.5 -17.8 0.7 -0.8 14 -13.9 5.2 -4.7 9.6 -7.6 14.7 -10.4 0.9 -0.6 13.9 -7.7 14.8 -7 9.8 -3.9 4.9 -1.7 14.8 -4.1 14.8 -3 14.7 -1.9 14.8 -0.7 14.7 0.4 14.8 1.5 14.8 2.7 14.7 3.8 9.1 3 5.7 2.1 14.8 6.7 14.7 7.9 3.2 1.9 11.6 7.9 13.8 10.7 0.9 0.8 14.8 14.3 3.4 3.5 11.4 13.8 3.7 4.8 11 16.7 1.2 1.9 9.7 18.6 3.9 9 3.8 9.6 6 18.6 4.4 18.6 0.6 3.9 2.1 14.7 1.3 18.7 -0.2 18.6 -1.5 18.6 -1.7 10.6 -1.4 8 -4.7 18.6 -6.3 18.6 -2.4 5.8 -5.7 12.8 -9.1 16.7 -1.1 1.9 -12.7 18.6 -0.9 1.2 -14.8 17.3 0 0.1 -14.8 13.8 -5.6 4.8 -9.1 6.9 -14.8 9.8 -3.2 1.9 -11.5 6 -14.8 6.6 -14.8 5.3 -2.5 0.7 -12.2 3.1 -14.8 2.6 -14.8 1.5 -14.7 0.4 -14.8 -0.7 -14.7 -1.8 -14.8 -3"/>
<path stroke="#238a8d" d="M280.7 606.1l-1.7 18.2 -2.1 18.6 -2.6 18.6 -3 18.6 -3.4 18.6 -1.6 7.8 -1.1 -7.8 -2.3 -18.6 -2 -18.6 -1.7 -18.6 -1.4 -18.6 -0.7 -11.6M281 477.4l4.8 16.7 0.8 18.6 -0.4 18.6 -0.8 18.6 -1.2 18.6 -1.6 18.6 -1.6 14.5M256.3 469.4l-0.1 -12.5 0.4 -18.6 0.8 -18.6 1.6 -18.6 3.8 -18.6 3.5 -8.7 7.9 8.7 3.7 18.6 0.9 18.6 0.3 18.6 0.7 18.6 1.1 18.4M443.4 608.1l-6.9 -2.4 -7.8 -3 -14.8 -6.9 -14.8 -8.1 -1 -0.6 -13.7 -9.5 -11.6 -9.1 -3.2 -2.8 -14.7 -14.3 -1.5 -1.5 -13.3 -16.1 -2 -2.5 -12.3 -18.6 -0.5 -0.8 -9.4 -17.8 -5.3 -12.2 -2.7 -6.4 -6.1 -18.6 -4.6 -18.6 -1.4 -8.3 -1.6 -10.3 -1.5 -18.6 -0.2 -18.6 1.3 -18.7 2 -14.4 0.6 -4.2 4.4 -18.6 5.8 -18.6 4 -10.2 3.5 -8.4 9.5 -18.6 1.7 -2.9 10.2 -15.7 4.6 -6.2 10 -12.4 4.8 -5.2 13.5 -13.4 1.2 -1.1 14.8 -11.8 8 -5.7 6.7 -4.3 14.8 -8.2 12.7 -6.1 2.1 -0.9 14.7 -5.2 14.8 -4.2 14.8 -3 14.7 -1.8 14.8 -0.8 14.7 0.5 14.8 1.5 14.8 2.7 14.7 3.8 14.8 4.9 6 2.5 8.8 4 14.7 7.9 11 6.7 3.8 2.6 14.7 11.5 5.3 4.5 9.5 9.2 8.9 9.4 5.9 7.1 8.7 11.5 6 9.1 5.9 9.5 8.9 17.2 0.7 1.4 7.4 18.6 6 18.6 0.7 3 3.4 15.6 2.7 18.6 1.3 18.7 -0.2 18.6 -1.5 18.6 -3 18.6 -2.7 11.5 -1.8 7.1 -6.3 18.6 -6.7 16.1 -1.1 2.5 -10 18.6 -3.7 5.8 -8.7 12.8 -6 7.7 -9.3 10.9 -5.5 5.7 -13.7 12.9 -1.1 0.9 -14.7 11.2 -9.7 6.5 -5.1 3 -14.7 7.8 -14.8 6.5 -3.5 1.3 -11.3 3.7 -14.7 3.7 -14.8 2.7 -14.8 1.5 -14.7 0.4 -14.8 -0.7 -14.7 -1.9 -14.8 -2.9 -14.8 -4.1"/>
<path stroke="#228c8d" d="M256 469.8l-0.2 -12.9 0.4 -18.6 0.6 -18.6 1.5 -18.6 3.5 -18.6 4.5 -11.3 10.3 11.3 2.4 18.6 0.5 18.6 0.2 18.6 0.6 18.6 0.7 12.5 4.4 6.1 2.6 18.6 0 18.6 -0.7 18.6 -1 18.6 -1.4 18.6 -1.6 18.6 -2 18.6 -0.3 1.9 -1.5 16.7 -2.1 18.6 -2.6 18.6 -3 18.6 -3.4 18.6 -2.1 10 -1.4 -10 -2.3 -18.6 -2 -18.6 -1.7 -18.6 -1.4 -18.6 -0.7 -12M428.7 607.4l-4.2 -1.7 -10.6 -5 -14.8 -8.1 -8.8 -5.5 -5.9 -4.2 -14.8 -11.5 -3.3 -2.9 -11.4 -11.1 -7.1 -7.5 -7.7 -9.4 -7.1 -9.2 -7.7 -11.6 -4.3 -7 -9.8 -18.6 -0.6 -1.5 -7 -17.1 -6.1 -18.6 -1.7 -6.7 -3.3 -11.9 -2.5 -18.6 -1.4 -18.6 -0.1 -18.6 1.2 -18.7 2.6 -18.6 3.5 -16 0.6 -2.6 5.8 -18.6 7.3 -18.6 1.1 -2.2 8.3 -16.4 6.4 -10.8 5.1 -7.8 9.7 -13.1 4.4 -5.5 10.4 -11.3 7.3 -7.3 7.4 -6.6 14.8 -11.8 0.2 -0.2 14.5 -9.3 14.8 -8.2 2.2 -1.1 12.6 -5.4 14.7 -5.3 14.8 -4.1 14.8 -3 5.7 -0.8 9 -1 14.8 -0.7 14.7 0.4 14 1.3 0.8 0.1 14.8 2.7 14.7 3.8 14.8 5 14.8 6.1 1.9 0.9 12.8 6.9 14.8 9.1 3.7 2.6 11 8.6 11.7 10 3.1 3 14.6 15.6 0.2 0.2 14 18.4 0.7 1.2 10.7 17.4 4.1 8 5.1 10.6 7.5 18.6 2.2 6.9 3.4 11.7 4.1 18.6 2.7 18.6 1.3 18.7 -0.1 18.6 -1.6 18.6 -3 18.6 -4.4 18.6 -2.4 7.9 -3.6 10.7 -7.8 18.6 -3.4 6.8 -6.3 11.8 -8.5 13.4 -3.5 5.2 -11.2 14.4 -3.6 4.2 -11.2 11.7 -7.3 6.9 -7.5 6.3 -14.7 11.2 -1.7 1.1 -13.1 7.9 -14.7 7.8 -6.6 2.9 -8.2 3.3 -14.8 4.9 -14.7 3.7 -14.8 2.7 -14.8 1.5 -14.7 0.4 -14.8 -0.7 -14.7 -1.9 -14.8 -2.9 -14.8 -4.1z"/>
<path stroke="#218e8d" d="M255.6 470.3l-0.1 -13.4 0.2 -18.6 0.6 -18.6 1.3 -18.6 3.1 -18.6 5.6 -14 12.8 14 1 18.6 0.1 18.6 0.1 18.6 0.5 18.6 0.2 4.1 6.5 -4.1 0.1 -18.6 -1.9 -18.6 -1.3 -18.6 -0.1 -18.6 1.2 -18.7 2.6 -18.6 4.1 -18.6 3.6 -12.5 1.9 -6.1 7.3 -18.6 5.6 -11.8 3.4 -6.8 11.1 -18.6 0.2 -0.3 13.6 -18.3 1.2 -1.4 14.8 -16.2 0.9 -1 13.8 -12.3 7.9 -6.3 6.9 -5 14.7 -9.5 7.4 -4.1 7.4 -3.7 14.8 -6.5 14.7 -5.2 11.2 -3.2 3.6 -0.9 14.8 -2.8 14.7 -1.7 14.8 -0.7 14.7 0.4 14.8 1.4 14.8 2.5 7.6 1.8 7.1 1.9 14.8 4.9 14.8 6.1 11.6 5.7 3.1 1.7 14.8 9.1 11.1 7.8 3.6 2.9 14.8 12.8 3.1 2.9 11.7 12.5 5.3 6.1 9.4 12.5 4.3 6.1 10.5 17.3 0.8 1.3 8.9 18.6 5.1 12.6 2.2 6 5.5 18.6 4.1 18.6 2.7 18.6 0.2 3.2 1 15.5 -0.1 18.6 -0.9 10.8 -0.6 7.8 -3 18.6 -4.4 18.6 -5.8 18.6 -0.9 2.4 -6.8 16.2 -8 16.1 -1.3 2.5 -11.7 18.6 -1.8 2.4 -12.5 16.2 -2.2 2.5 -14.8 15.3 -0.7 0.8 -14.1 11.8 -8.8 6.8 -5.9 4 -14.8 9 -10.6 5.6 -4.1 2 -14.8 5.9 -14.8 4.9 -14.7 3.8 -11.2 2 -3.6 0.6 -14.8 1.4 -14.7 0.3 -14.8 -0.6 -14.7 -1.7 -0.1 0 -14.7 -3 -14.8 -4 -14.7 -5.2 -14.8 -6.3 -0.2 -0.1 -14.6 -8 -14.7 -9.3 -1.9 -1.3 -12.9 -10.1 -9.7 -8.5 -5 -4.9 -12.8 -13.7 -2 -2.4 -12.3 -16.2 -2.5 -3.7 -9.1 -14.9 -5.6 -10.6 -3.9 -8 -7.6 -18.6 -3.3 -10 -4.4 10 -1.1 18.6 -0.9 18.6 -1 18.6 -1.2 18.6 -1.4 18.6 -1.7 18.6 -2.1 18.6 -1 7.1 -1 11.5 -2.2 18.6 -2.5 18.6 -3 18.6 -3.5 18.6 -2.5 12.3 -1.7 -12.3 -2.3 -18.6 -2 -18.6 -1.7 -18.6 -1.4 -18.6 -0.7 -12.4"/>
<path stroke="#21908d" d="M255.2 470.8l-0.1 -13.9 0.2 -18.6 0.5 -18.6 1.1 -18.6 2.7 -18.6 6.7 -16.9 14.7 0 0.2 -1.8 2.6 -18.6 4 -18.6 5.4 -18.6 2.6 -7 4.5 -11.6 8.8 -18.6 1.5 -2.6 9.5 -16 5.2 -7.7 8.1 -10.9 6.7 -8 9.6 -10.6 5.2 -5 14.7 -13.2 0.5 -0.4 14.3 -10.3 12.8 -8.3 1.9 -1.1 14.8 -7.5 14.8 -6.5 9.8 -3.5 4.9 -1.6 14.8 -3.8 14.8 -2.8 14.7 -1.7 14.8 -0.7 14.7 0.4 14.8 1.4 14.8 2.5 14.7 3.5 9.1 2.8 5.7 1.9 14.8 6.1 14.7 7.3 6 3.3 8.8 5.5 14.7 10.4 3.6 2.7 11.2 9.8 9.3 8.8 5.5 5.9 10.9 12.7 3.8 5.1 9.5 13.5 5.3 8.8 5.5 9.8 9 18.6 0.3 0.7 6.6 17.9 5.6 18.6 2.5 11.7 1.5 6.9 2.5 18.6 1.2 18.7 -0.2 18.6 -1.4 18.6 -2.8 18.6 -0.8 3.4 -3.6 15.2 -5.8 18.6 -5.3 13.8 -2 4.8 -9.3 18.6 -3.5 6 -7.9 12.6 -6.9 9.6 -6.9 9 -7.8 8.9 -9.3 9.7 -5.5 5.1 -14.8 12.5 -1.2 1 -13.5 9.3 -14.8 8.9 -0.6 0.4 -14.1 6.8 -14.8 6 -14.8 4.8 -3.6 1 -11.1 2.6 -14.8 2.4 -14.8 1.4 -14.7 0.4 -14.8 -0.7 -14.7 -1.7 -14.8 -2.7 -6.8 -1.7 -8 -2.2 -14.7 -5.2 -14.8 -6.3 -9.8 -4.9 -5 -2.8 -14.7 -9.3 -9.2 -6.5 -5.6 -4.4 -14.7 -12.9 -1.5 -1.3 -13.3 -14.3 -3.7 -4.3 -11.1 -14.6 -2.8 -4 -11.4 -18.6 -0.5 -1.1 -8.6 -17.5 -6.2 -15.2 -3.1 15.2 -1.8 18.6 -1.4 18.6 -1.4 18.6 -1.5 18.6 -1.8 18.6 -2 18.6 -1.8 12.5 -0.5 6.1 -2.2 18.6 -2.5 18.6 -3 18.6 -3.5 18.6 -3 14.7 -2 -14.7 -2.3 -18.6 -2 -18.6 -1.7 -18.6 -1.4 -18.6 -0.8 -12.9M281 444.5l1.4 -6.2 -1.1 -18.6 -0.3 -3.2 0 3.2 -0.1 18.6z"/>
<path stroke="#20928c" d="M254.8 471.3l-0.1 -14.4 0.1 -18.6 0.4 -18.6 0.9 -18.6 2.3 -18.6 7 -18.7 0.9 -2.2 12.9 -16.4 1.8 -8.1 2.3 -10.5 5.4 -18.6 6.8 -18.6 0.3 -0.6 8.5 -18 6.3 -11.4 4.3 -7.2 10.4 -15.3 2.4 -3.3 12.4 -14.8 3.4 -3.8 11.4 -11.1 8.3 -7.5 6.4 -5.1 14.8 -10.8 4.2 -2.7 10.5 -6.2 14.8 -7.5 11.2 -4.9 3.6 -1.4 14.7 -4.9 14.8 -3.8 14.8 -2.8 14.7 -1.7 14.8 -0.7 14.7 0.4 14.8 1.4 14.8 2.5 14.7 3.5 14.8 4.6 7.7 2.9 7.1 3 14.7 7.2 14.8 8.4 0.1 0 14.6 10.3 10.6 8.3 4.2 3.7 14.8 14.1 0.8 0.8 13.9 16.4 1.8 2.2 13 18.6 0 0.1 10.5 18.5 4.3 8.9 4.3 9.7 6.9 18.6 3.5 11.8 1.9 6.8 3.8 18.6 2.6 18.6 1.1 18.7 -0.1 18.6 -1.4 18.6 -2.8 18.6 -4.1 18.6 -1 3.2 -4.8 15.4 -7.2 18.6 -2.7 5.9 -6.3 12.7 -8.5 14.5 -2.5 4.1 -12.3 17.1 -1.1 1.5 -13.6 15.5 -3 3.1 -11.8 11.1 -8.8 7.5 -6 4.5 -14.7 10.2 -6.3 3.9 -8.5 4.7 -14.7 7.1 -14.8 6 -2.4 0.8 -12.4 3.7 -14.7 3.5 -14.8 2.4 -14.8 1.4 -14.7 0.4 -14.8 -0.7 -14.7 -1.7 -14.8 -2.7 -14.8 -3.7 -8 -2.6 -6.7 -2.4 -14.8 -6.3 -14.8 -7.4 -4.3 -2.5 -10.4 -6.6 -14.8 -10.5 -1.9 -1.5 -12.8 -11.3 -7.6 -7.3 -7.2 -7.7 -9.3 -10.9 -5.5 -7.2 -8 -11.4 -6.7 -11 -4.4 -7.6 -9 -18.6 -1.4 -3.4 -0.7 3.4 -2.6 18.6 -1.8 18.6 -1.6 18.6 -1.6 18.6 -1.9 18.6 -2.1 18.6 -2.5 18.1 0 0.5 -2.1 18.6 -2.6 18.6 -3 18.6 -3.4 18.6 -3.6 17.2 -2.4 -17.2 -2.3 -18.6 -1.9 -18.6 -1.7 -18.6 -1.5 -18.6 -0.8 -13.3"/>
<path stroke="#20938c" d="M254.4 471.8l-0.2 -14.9 0.1 -18.6 0.3 -18.6 0.7 -18.6 1.9 -18.6 5.9 -18.7 3.2 -8.2 8.2 -10.4 4.3 -18.6 2.2 -8.2 3.1 -10.4 6.8 -18.6 4.9 -11.2 3.5 -7.4 10.2 -18.6 1.1 -1.6 11.5 -17 3.2 -4.1 12.1 -14.5 2.7 -2.9 14.8 -14.5 1.2 -1.2 13.5 -10.9 10.6 -7.7 4.2 -2.7 14.7 -8.7 14 -7.2 0.8 -0.3 14.8 -6 14.7 -4.8 14.8 -3.8 14.8 -2.8 7.3 -0.9 7.4 -0.8 14.8 -0.6 14.7 0.4 12.1 1 2.7 0.3 14.8 2.5 14.7 3.5 14.8 4.6 14.8 5.6 4.7 2.1 10 4.9 14.8 8.4 8.3 5.3 6.4 4.6 14.8 11.6 2.8 2.4 12 11.5 6.8 7.1 7.9 9.4 7.3 9.2 7.5 10.7 5.1 7.9 9.7 17.2 0.7 1.4 8.4 18.6 5.6 15.2 1.2 3.4 5.2 18.6 3.8 18.6 2.5 18.6 1.2 18.7 -0.1 18.6 -1.5 18.6 -2.8 18.6 -4.1 18.6 -5.4 18.4 0 0.2 -7.2 18.6 -7.5 16.2 -1.2 2.4 -10.8 18.6 -2.8 4.1 -10.3 14.5 -4.5 5.5 -11.4 13.1 -3.3 3.4 -14.8 13.9 -1.5 1.3 -13.3 10.2 -12.1 8.4 -2.6 1.6 -14.8 8.2 -14.7 7.1 -4.1 1.7 -10.7 4 -14.8 4.5 -14.7 3.5 -14.8 2.4 -14.8 1.4 -14.7 0.4 -14.8 -0.7 -14.7 -1.7 -14.8 -2.7 -14.8 -3.8 -14.7 -4.8 -6.6 -2.5 -8.2 -3.6 -14.8 -7.4 -13.2 -7.6 -1.5 -1 -14.8 -10.5 -8.9 -7.1 -5.8 -5.1 -14.1 -13.5 -0.7 -0.8 -14.8 -17.3 -0.4 -0.5 -13 -18.6 -1.3 -2.2 -9.4 -16.4 -5.4 -11.2 -1.7 11.2 -2.2 18.6 -1.8 18.6 -1.7 18.6 -1.9 18.6 -2.2 18.6 -2.6 18.6 -0.7 4.2 -1.6 14.4 -2.6 18.6 -3 18.6 -3.4 18.6 -3.9 18.6 -0.2 1 -0.2 -1 -2.5 -18.6 -2.3 -18.6 -2 -18.6 -1.7 -18.6 -1.4 -18.6 -0.9 -13.8"/>
<path stroke="#1f958b" d="M254 472.4l-0.2 -15.5 0 -18.6 0.2 -18.6 0.5 -18.6 1.5 -18.6 4.7 -18.7 5.6 -14.5 3.2 -4.1 4.8 -18.6 5 -18.6 1.7 -4.9 5 -13.7 8.2 -18.6 1.6 -3.1 8.6 -15.5 6.2 -9.8 6 -8.8 8.7 -11.4 6 -7.2 8.8 -9.4 9.3 -9.2 5.5 -4.9 14.7 -11.9 2.4 -1.8 12.4 -8.2 14.7 -8.7 3.4 -1.7 11.4 -5.4 14.8 -5.9 14.7 -4.8 9.4 -2.5 5.4 -1.3 14.8 -2.5 14.7 -1.6 14.8 -0.6 14.7 0.3 14.8 1.3 14.8 2.3 9.5 2.1 5.2 1.3 14.8 4.5 14.8 5.7 14.7 6.6 1 0.5 13.8 7.9 14.7 9.5 1.8 1.2 13 10.3 9.6 8.3 5.2 5 13 13.6 1.7 2.1 13 16.5 1.8 2.6 10.4 16 4.4 7.8 5.6 10.8 8.4 18.6 0.7 2 5.8 16.6 5.2 18.6 3.8 18.6 2.3 18.6 1.2 18.7 -0.2 18.6 -1.3 18.6 -2 14.1 -0.7 4.5 -4.1 18.6 -5.4 18.6 -4.6 12.6 -2.3 6 -8.6 18.6 -3.8 7 -6.7 11.6 -8.1 12.1 -4.6 6.5 -10.2 12.6 -5.2 6 -9.5 9.8 -9.4 8.8 -5.4 4.6 -14.8 11.4 -3.7 2.6 -11 7 -14.8 8.2 -7 3.4 -7.7 3.4 -14.8 5.5 -14.8 4.5 -14.7 3.5 -10.1 1.7 -4.7 0.7 -14.8 1.3 -14.7 0.3 -14.8 -0.6 -14.7 -1.6 -1 -0.1 -13.8 -2.6 -14.8 -3.7 -14.7 -4.8 -14.8 -5.8 -3.6 -1.7 -11.2 -5.6 -14.7 -8.6 -6.9 -4.4 -7.9 -5.7 -14.7 -11.7 -1.4 -1.2 -13.4 -13 -5.4 -5.6 -9.4 -11 -6 -7.6 -8.7 -12.6 -4 -6 -10.5 -18.6 -0.3 -0.6 -0.1 0.6 -2.5 18.6 -2 18.6 -1.9 18.6 -2 18.6 -2.2 18.6 -2.6 18.6 -1.5 9 -1.1 9.6 -2.5 18.6 -3 18.6 -3.5 18.6 -3.8 18.6 -0.8 3.4 -0.5 -3.4 -2.6 -18.6 -2.3 -18.6 -2 -18.6 -1.7 -18.6 -1.4 -18.6 -0.8 -14.3"/>
<path stroke="#1f978b" d="M253.5 472.9l-0.1 -16 -0.1 -18.6 0 -18.6 0.3 -18.6 1.1 -18.6 3.6 -18.7 6.5 -18.6 1.5 -6.4 3.3 -12.2 5.1 -18.6 6.3 -18.6 8.2 -18.6 6.6 -12.8 3.2 -5.8 11.6 -18.3 0.2 -0.3 14.3 -18.6 0.2 -0.3 14.8 -15.9 2.4 -2.4 12.4 -11 9.3 -7.6 5.4 -4 14.8 -9.8 8.1 -4.8 6.6 -3.6 14.8 -7 14.8 -5.9 6.3 -2.1 8.4 -2.5 14.8 -3.6 14.8 -2.5 14.7 -1.6 14.8 -0.7 14.7 0.4 14.8 1.3 14.8 2.3 14.7 3.3 12.8 3.6 2 0.7 14.8 5.6 14.7 6.6 10.9 5.7 3.9 2.2 14.7 9.5 9.6 6.9 5.2 4.1 14.8 12.9 1.7 1.6 13 13.7 4.3 4.9 10.5 13.3 3.9 5.3 10.9 16.9 1 1.7 9.7 18.6 4 8.9 4.1 9.7 6.5 18.6 4.2 15.3 0.9 3.3 3.6 18.6 2.3 18.6 1.1 18.7 -0.1 18.6 -1.4 18.6 -2.6 18.6 -3.8 18.5 0 0.1 -5.4 18.6 -6.8 18.6 -2.6 5.9 -5.8 12.7 -8.9 16.4 -1.3 2.2 -12.3 18.6 -1.2 1.6 -13.6 17 -1.2 1.2 -14.7 15.2 -2.3 2.2 -12.5 10.6 -10.3 8 -4.5 3.1 -14.7 9.4 -10.9 6.1 -3.9 1.9 -14.7 6.6 -14.8 5.5 -14.8 4.5 -0.1 0.1 -14.6 3.2 -14.8 2.2 -14.8 1.3 -14.7 0.4 -14.8 -0.6 -14.7 -1.6 -14.8 -2.5 -10.1 -2.4 -4.7 -1.2 -14.7 -4.8 -14.8 -5.8 -14.6 -6.8 -0.2 -0.1 -14.7 -8.5 -14.8 -9.7 -0.5 -0.3 -14.2 -11.4 -8.3 -7.2 -6.5 -6.3 -11.7 -12.3 -3.1 -3.7 -11.7 -14.9 -3 -4.3 -9.3 -14.3 -5.5 -9.7 -1.3 9.7 -2.2 18.6 -2.1 18.6 -2 18.6 -2.2 18.6 -2.6 18.6 -2.4 13.9 -0.5 4.7 -2.6 18.6 -3 18.6 -3.4 18.6 -3.9 18.6 -1.3 5.9 -0.9 -5.9 -2.6 -18.6 -2.2 -18.6 -2 -18.6 -1.7 -18.6 -1.5 -18.6 -0.9 -14.8"/>
<path stroke="#1f998a" d="M253.1 473.5l-0.2 -16.6 -0.2 -18.6 0 -18.6 0.1 -18.6 0.6 -18.6 2.3 -18.7 4.9 -18.6 4.2 -18.6 1.5 -5.7 3.5 -12.9 6.4 -18.6 4.8 -11.7 3 -6.9 9.6 -18.6 2.2 -3.7 9.4 -14.9 5.4 -7.5 8.5 -11.1 6.2 -7.3 10.5 -11.3 4.3 -4.2 14.8 -13.2 1.4 -1.2 13.3 -9.8 13.2 -8.8 1.6 -1 14.7 -8 14.8 -6.9 6.6 -2.7 8.2 -3 14.7 -4.5 14.8 -3.6 14.8 -2.5 14.7 -1.6 14.8 -0.7 14.7 0.4 14.8 1.3 14.8 2.3 14.7 3.3 14.8 4.2 12.5 4.4 2.3 0.9 14.7 6.7 14.8 7.7 5.6 3.3 9.1 5.9 14.8 10.6 2.6 2.1 12.2 10.6 8.4 8 6.3 6.7 10.5 11.9 4.3 5.5 9.5 13.1 5.3 8.2 6.3 10.4 8.4 16.2 1.2 2.4 7.8 18.6 5.8 16.6 0.7 2 4.8 18.6 3.6 18.6 2.3 18.6 1.2 18.7 -0.2 18.6 -1.3 18.6 -2.6 18.6 -3.9 18.6 -4.6 16.8 -0.5 1.8 -6.8 18.6 -7.5 17.3 -0.6 1.3 -10 18.6 -4.1 6.7 -7.9 11.9 -6.9 9.2 -7.5 9.4 -7.3 8.1 -10.1 10.5 -4.6 4.3 -14.8 12.6 -2.2 1.7 -12.6 8.9 -14.7 9.3 -0.6 0.4 -14.2 7.2 -14.7 6.6 -12.7 4.8 -2.1 0.7 -14.8 4.2 -14.7 3.2 -14.8 2.2 -14.8 1.3 -14.7 0.4 -14.8 -0.6 -14.7 -1.6 -14.8 -2.5 -14.8 -3.5 -12.6 -3.8 -2.1 -0.7 -14.8 -5.8 -14.8 -6.9 -9.8 -5.2 -4.9 -2.9 -14.8 -9.7 -8.3 -6 -6.4 -5.1 -14.8 -13 -0.6 -0.5 -14.2 -15 -3.1 -3.6 -11.6 -14.8 -2.8 -3.8 -12 -18.5 -2.4 18.5 -2.2 18.6 -2.1 18.6 -2.3 18.6 -2.6 18.6 -3.1 18.6 -0.1 0.3 -2.5 18.3 -3 18.6 -3.4 18.6 -3.9 18.6 -1.9 8.4 -1.3 -8.4 -2.6 -18.6 -2.2 -18.6 -2 -18.6 -1.7 -18.6 -1.4 -18.6 -1 -15.4"/>
<path stroke="#1f9a8a" d="M252.6 474.1l-0.2 -17.2 -0.2 -18.6 -0.2 -18.6 -0.1 -18.6 0.1 -18.6 1.1 -18.7 3.1 -18.6 3.9 -18.6 4.8 -18.6 1.4 -4.2 4.9 -14.4 7.6 -18.6 2.2 -4.5 7.3 -14.1 7.5 -12.8 3.7 -5.8 11.1 -15.6 2.3 -3 12.4 -14.5 3.8 -4.1 11 -10.8 8.7 -7.8 6.1 -4.9 14.7 -11 4.1 -2.7 10.7 -6.5 14.7 -8 8.6 -4.1 6.2 -2.7 14.8 -5.5 14.7 -4.5 14.8 -3.5 13.4 -2.4 1.4 -0.2 14.7 -1.5 14.8 -0.6 14.7 0.4 14.8 1.2 5.1 0.7 9.7 1.5 14.7 3.3 14.8 4.3 14.8 5.2 10.4 4.3 4.3 2 14.8 7.7 14.7 8.8 0.3 0.1 14.5 10.5 10.2 8.1 4.6 4 14.7 14.1 0.6 0.5 14.2 16.3 1.9 2.3 12.9 17.8 0.5 0.8 11.2 18.6 3 5.8 6.3 12.8 7.8 18.6 0.7 1.9 5.4 16.7 4.9 18.6 3.6 18.6 0.8 6.9 1.5 11.7 1 18.7 -0.1 18.6 -1.3 18.6 -1.1 7.9 -1.4 10.7 -3.9 18.6 -5.1 18.6 -4.3 12.6 -2.2 6 -8 18.6 -4.6 9 -5.1 9.6 -9.6 15.5 -2 3.1 -12.8 17.1 -1.2 1.5 -13.6 15.2 -3.2 3.4 -11.5 10.7 -9.2 7.9 -5.6 4.4 -14.8 10.4 -5.9 3.8 -8.8 5.1 -14.8 7.6 -13.1 5.9 -1.6 0.6 -14.8 5.2 -14.8 4.2 -14.7 3.2 -14.8 2.2 -14.8 1.3 -14.7 0.4 -14.8 -0.6 -14.7 -1.6 -14.8 -2.5 -14.8 -3.5 -14.7 -4.5 -12.2 -4.4 -2.6 -1.1 -14.8 -6.8 -14.7 -7.9 -4.7 -2.8 -10.1 -6.6 -14.7 -10.8 -1.6 -1.2 -13.2 -11.6 -7.3 -7 -7.5 -7.9 -9.3 -10.7 -5.4 -6.9 -8.6 -11.7 -6.2 -9.7 -1.3 9.7 -2.2 18.6 -2.2 18.6 -2.4 18.6 -2.6 18.6 -3.1 18.6 -1 4.8 -1.9 13.8 -3 18.6 -3.4 18.6 -3.9 18.6 -2.5 11.1 -1.7 -11.1 -2.6 -18.6 -2.2 -18.6 -2 -18.6 -1.7 -18.6 -1.4 -18.6 -1 -15.9"/>
<path stroke="#1e9c89" d="M251.5 557.8l-0.3 -7.9 -0.2 -18.6 0.5 -13.7M252.1 474.7l-0.2 -17.8 -0.3 -18.6 -0.1 -5.2 -1.6 -13.4 -1.3 -18.6 -0.1 -18.6 1 -18.7 2 -16.8 0.2 -1.8 3.6 -18.6 4.7 -18.6 6 -18.6 0.3 -0.7 7.3 -17.9 7.4 -15.3 1.7 -3.3 11 -18.6 2.1 -3.2 10.9 -15.4 3.9 -4.8 11.7 -13.8 3 -3.1 14.8 -14.5 1.1 -1 13.7 -11.2 9.9 -7.4 4.8 -3.2 14.8 -9.1 11.5 -6.3 3.2 -1.6 14.8 -6.4 14.8 -5.5 14.7 -4.5 2.2 -0.6 12.6 -2.8 14.8 -2.4 14.7 -1.5 14.8 -0.6 14.7 0.4 14.8 1.2 14.8 2.1 14.7 3.1 2 0.5 12.8 3.7 14.8 5.2 14.7 6.2 7.3 3.5 7.5 3.9 14.7 8.8 9 5.9 5.8 4.2 14.8 11.8 3 2.6 11.7 11.3 7.1 7.3 7.7 8.8 7.9 9.8 6.9 9.4 6.2 9.2 8.5 14.2 2.5 4.4 9.1 18.6 3.2 7.6 4.3 11 6.1 18.6 4.3 16.7 0.5 1.9 3.4 18.6 2.2 18.6 1.1 18.7 -0.1 18.6 -1.3 18.6 -2.5 18.6 -3.3 16.7 -0.3 1.9 -5.1 18.6 -6.4 18.6 -2.9 7.2 -4.9 11.4 -9.4 18.6 -0.5 0.7 -11 17.9 -3.7 5.4 -9.8 13.2 -5 6 -11.2 12.6 -3.6 3.6 -14.7 13.8 -1.4 1.2 -13.4 10.5 -11.4 8.1 -3.4 2.2 -14.7 8.6 -14.8 7.6 -0.4 0.2 -14.3 5.9 -14.8 5.1 -14.8 4.2 -14.7 3.2 -0.8 0.2 -14 2 -14.8 1.2 -14.7 0.3 -14.8 -0.6 -14.7 -1.4 -9.4 -1.5 -5.4 -1 -14.8 -3.5 -14.7 -4.4 -14.8 -5.4 -10 -4.3 -4.8 -2.2 -14.7 -7.9 -14.1 -8.5 -0.7 -0.5 -14.7 -10.7 -9.2 -7.4 -5.6 -4.9 -14.3 -13.7 -0.5 -0.6 -14.7 -16.9 -1 -1.1 -13.5 -18.6 -0.3 -0.5 0 0.5 -2.5 18.6 -2.3 18.6 -2.3 18.6 -2.7 18.6 -3.1 18.6 -1.9 9.3 -1.2 9.3 -3 18.6 -3.5 18.6 -3.8 18.6 -3.2 13.8 -2.1 -13.8 -2.6 -18.6 -2.3 -18.6 -1.9 -18.6 -1.7 -18.6 -1.5 -18.6 -1 -16.5"/>
<path stroke="#1f9e89" d="M251.5 577.2l-0.7 -8.7 -0.9 -18.6 -0.4 -18.6 0.3 -18.6 1.2 -18.6 0.5 -12.7M251.6 475.4l-0.1 -4.7 -1.2 -13.8 -2.9 -18.6 -2.3 -18.6 -1.2 -18.6 -0.2 -18.6 1.1 -18.7 2.2 -18.6 3.3 -18.6 1.2 -5 3.5 -13.6 6 -18.6 5.3 -13.7 2 -4.9 8.9 -18.6 3.8 -6.9 6.9 -11.7 7.9 -11.8 4.8 -6.8 10 -12.6 5.1 -6 9.6 -10.2 8.6 -8.4 6.2 -5.5 14.8 -12.1 1.2 -1 13.5 -9.2 14.8 -9.1 0.5 -0.3 14.2 -7.1 14.8 -6.5 13.4 -5 1.4 -0.4 14.7 -4.2 14.8 -3.4 14.8 -2.3 14.7 -1.5 14.8 -0.6 14.7 0.3 14.8 1.2 14.8 2.2 14.7 3 14.8 4 5.3 1.7 9.5 3.4 14.7 6.2 14.8 7.1 3.5 1.9 11.2 6.7 14.8 9.9 2.8 2 12 9.6 10.4 9 4.3 4.2 13.9 14.4 0.9 1 14.2 17.6 0.6 0.8 12.1 17.8 2.6 4.5 8 14.1 6.8 13.9 2.1 4.7 7.4 18.6 5.2 16.2 0.8 2.4 4.6 18.6 3.4 18.6 2.2 18.6 1 18.7 -0.1 18.6 -1.3 18.6 -2.4 18.6 -3.7 18.6 -4.5 17.3 -0.3 1.3 -6.3 18.6 -7.6 18.6 -0.5 1 -8.9 17.6 -5.9 10.2 -5.1 8.4 -9.6 13.9 -3.5 4.7 -11.3 13.6 -4.4 5 -10.4 10.5 -8.5 8.1 -6.2 5.3 -14.8 11.6 -2.4 1.7 -12.4 8.1 -14.7 8.6 -3.7 1.9 -11.1 5.3 -14.7 6.1 -14.8 5.1 -7.3 2.1 -7.5 1.9 -14.7 3.1 -14.8 2.1 -14.8 1.2 -14.7 0.3 -14.8 -0.6 -14.7 -1.4 -14.8 -2.4 -14.8 -3.3 -3.4 -0.9 -11.3 -3.4 -14.8 -5.5 -14.8 -6.3 -6.8 -3.4 -7.9 -4.2 -14.8 -9 -8.1 -5.4 -6.6 -4.9 -14.8 -11.9 -2.1 -1.8 -12.7 -12.2 -6.2 -6.4 -8.5 -9.9 -7.1 -8.7 -7.7 -10.6 -1.4 10.6 -2.3 18.6 -2.5 18.6 -2.6 18.6 -3.1 18.6 -2.9 14.1 -0.6 4.5 -3 18.6 -3.4 18.6 -3.9 18.6 -3.8 16.6 -2.6 -16.6 -2.5 -18.6 -2.3 -18.6 -2 -18.6 -1.7 -18.6 -1.4 -18.6 -1 -17.1"/>
<path stroke="#1fa088" d="M251.5 590.3l-0.3 -3.2 -1.5 -18.6 -1.1 -18.6 -0.7 -18.6 -0.1 -18.6 0.4 -18.6 -0.2 -18.6 -2.3 -18.6 -3.1 -18.6 -2.4 -18.6 -1.3 -18.6 -0.1 -18.6 1 -18.7 2.2 -18.6 3.4 -18.6 4.4 -18.6 1.7 -5.5 4.2 -13.1 7.2 -18.6 3.4 -7.4 5.4 -11.2 9.3 -17 1 -1.6 12.3 -18.6 1.5 -2 13.1 -16.6 1.7 -1.8 14.7 -15.7 1.1 -1.1 13.7 -12.2 7.7 -6.4 7.1 -5.3 14.7 -10.1 5.2 -3.2 9.6 -5.4 14.7 -7.5 13.1 -5.7 1.7 -0.7 14.8 -5.1 14.7 -4.2 14.8 -3.3 14.8 -2.4 14.7 -1.5 14.8 -0.6 14.7 0.4 14.8 1.2 14.8 2.1 14.7 3.1 14.8 3.9 14.8 4.9 5.7 2.2 9 3.8 14.8 7.2 13.9 7.6 0.8 0.6 14.8 9.8 11.2 8.2 3.6 2.9 14.7 12.9 3.1 2.8 11.7 12.2 5.7 6.4 9.1 11.2 5.5 7.4 9.2 13.6 3.2 5 10.4 18.6 1.2 2.4 7.5 16.2 7.2 18.5 0.1 0.1 5.7 18.6 4.6 18.6 3.4 18.6 1 8.8 1.1 9.8 1 18.7 -0.1 18.6 -1.2 18.6 -0.8 6.1 -1.6 12.5 -3.7 18.6 -4.8 18.6 -4.7 14.6 -1.3 4 -7.6 18.6 -5.8 12.3 -3.2 6.3 -10.7 18.6 -0.9 1.3 -11.9 17.3 -2.8 3.6 -12.4 15 -2.4 2.7 -14.8 15 -0.9 0.9 -13.8 11.9 -8.6 6.7 -6.2 4.5 -14.8 9.6 -7.5 4.5 -7.2 3.9 -14.8 7 -14.7 6.1 -4.5 1.6 -10.3 3.3 -14.8 3.9 -14.7 3 -14.8 2.1 -14.8 1.3 -14.7 0.3 -14.8 -0.6 -14.7 -1.5 -14.8 -2.3 -14.8 -3.3 -14.7 -4.1 -6.2 -2.1 -8.6 -3.2 -14.8 -6.4 -14.7 -7.3 -3.1 -1.7 -11.7 -7.1 -14.7 -9.9 -2.2 -1.6 -12.6 -10.2 -9.6 -8.4 -5.2 -5 -13 -13.6 -1.7 -2 -13.5 -16.6 -1.3 -1.8 -0.2 1.8 -2.5 18.6 -2.5 18.6 -2.6 18.6 -3.1 18.6 -3.8 18.6 -0.1 0.3 -2.9 18.3 -3.4 18.6 -3.9 18.6 -4.3 18.6 -0.2 0.9 -0.2 -0.9 -2.8 -18.6 -2.6 -18.6 -2.2 -18.6 -2 -18.6 -1.7 -18.6 -1.4 -18.6 -1.1 -17.7"/>
<path stroke="#1fa187" d="M251.5 600.4l-1.4 -13.3 -1.6 -18.6 -1.3 -18.6 -0.9 -18.6 -0.6 -18.6 -0.4 -18.6 -1.4 -18.6 -3.1 -18.6 -3.3 -18.6 -0.7 -5.8 -1.6 -12.8 -1.2 -18.6 -0.1 -18.6 0.9 -18.7 2 -17.2 0.1 -1.4 3.4 -18.6 4.4 -18.6 5.7 -18.6 1.1 -3.1 6 -15.5 8.4 -18.6 0.4 -0.6 9.9 -18 4.8 -7.8 7.2 -10.8 7.6 -10.3 6.5 -8.3 8.3 -9.4 8.6 -9.2 6.1 -5.9 14.1 -12.7 0.7 -0.5 14.8 -11.2 10 -6.9 4.7 -2.9 14.8 -8.5 14.3 -7.2 0.4 -0.2 14.8 -6 14.8 -5.1 14.7 -4.2 13.6 -3.1 1.2 -0.2 14.8 -2.3 14.7 -1.4 14.8 -0.5 14.7 0.3 14.8 1.2 14.8 2 5 0.9 9.7 2 14.8 4 14.8 4.9 14.7 5.7 4.4 2 10.4 5.1 14.7 8.1 8.9 5.4 5.9 4 14.8 10.8 4.7 3.8 10 8.8 10.3 9.8 4.5 4.7 12.4 13.9 2.4 2.9 11.8 15.7 2.9 4.4 9.1 14.2 5.7 10.3 4.4 8.3 8.6 18.6 1.7 4.6 5.3 14 5.7 18.6 3.8 15.6 0.7 3 3.2 18.6 2.1 18.6 1 18.7 -0.1 18.6 -1.2 18.6 -2.3 18.6 -3.4 18.1 -0.1 0.5 -4.8 18.6 -5.9 18.6 -4 10.1 -3.4 8.5 -8.8 18.6 -2.5 4.6 -8 14 -6.8 10.4 -5.6 8.2 -9.1 11.8 -5.6 6.8 -9.2 10.1 -8.3 8.5 -6.5 6 -14.6 12.6 -0.1 0.1 -14.8 10.7 -11.9 7.8 -2.9 1.7 -14.7 8 -14.8 7.1 -4.3 1.8 -10.4 4 -14.8 4.8 -14.8 3.9 -14.7 3 -14.8 2.1 -9.2 0.8 -5.6 0.4 -14.7 0.3 -14.8 -0.5 -2 -0.2 -12.7 -1.3 -14.8 -2.4 -14.8 -3.2 -14.7 -4.2 -14.8 -5 -6.2 -2.5 -8.6 -3.7 -14.7 -7.3 -13.5 -7.6 -1.3 -0.8 -14.7 -9.9 -10.7 -7.9 -4.1 -3.4 -14.8 -13 -2.3 -2.2 -12.4 -13 -5.1 -5.6 -9.7 -12.1 -1.6 12.1 -2.5 18.6 -2.7 18.6 -3.1 18.6 -3.7 18.6 -1.2 4.6 -2.2 14 -3.4 18.6 -3.9 18.6 -4.3 18.6 -0.9 3.6 -0.6 -3.6 -2.9 -18.6 -2.5 -18.6 -2.3 -18.6 -2 -18.6 -1.7 -18.6 -1.4 -18.6 -1.1 -18.3"/>
<path stroke="#20a386" d="M266.3 742.4l-1.1 -6.5 -2.9 -18.6 -2.5 -18.6 -2.3 -18.6 -2 -18.6 -1.7 -18.6 -1.4 -18.6 -0.9 -14.7 -0.5 -3.9 -2.1 -18.6 -1.7 -18.6 -1.4 -18.6 -1.2 -18.6 -1 -18.6 -1.4 -18.6 -2.5 -18.6 -2.9 -14.8 -1 -3.8 -3.3 -18.6 -2.3 -18.6 -1.2 -18.6 -0.1 -18.6 0.9 -18.7 2.1 -18.6 3.2 -18.6 1.7 -7.4 2.7 -11.2 5.6 -18.6 6.4 -17.6 0.4 -1 8.4 -18.6 6 -11.5 3.9 -7.1 10.8 -17.4 0.8 -1.2 13.7 -18.6 0.3 -0.3 14.8 -16.9 1.2 -1.4 13.5 -13.1 6.1 -5.5 8.7 -7.1 14.8 -11.2 0.3 -0.3 14.4 -9.1 14.8 -8.4 2.1 -1.1 12.6 -5.9 14.8 -6 14.8 -5.2 5.3 -1.5 9.4 -2.5 14.8 -3.1 14.8 -2.2 14.7 -1.4 14.8 -0.6 14.7 0.3 14.8 1.2 14.8 2 14.7 2.8 13.9 3.5 0.9 0.3 14.8 4.8 14.7 5.8 14.8 6.7 2 1 12.7 7 14.8 9.1 3.7 2.5 11.1 8.2 12.9 10.4 1.8 1.6 14.8 14.1 2.9 2.9 11.9 13.4 4.3 5.2 10.4 13.9 3.4 4.7 11.4 18.1 0.3 0.5 9.8 18.6 4.6 10.1 3.7 8.5 6.9 18.6 4.2 13.6 1.5 5 4.3 18.6 3.2 18.6 2.1 18.6 1 18.7 -0.1 18.6 -1.2 18.6 -2.4 18.6 -3.4 18.6 -4.5 18.6 -0.5 1.5 -5.5 17.1 -7.1 18.6 -2.2 4.8 -6.5 13.8 -8.2 15.2 -2 3.4 -12 18.6 -0.8 1 -13.4 17.6 -1.3 1.5 -14.8 16.3 -0.8 0.8 -14 13.1 -6.4 5.5 -8.3 6.6 -14.8 10.7 -1.9 1.3 -12.9 7.8 -14.7 8 -5.9 2.8 -8.9 3.9 -14.7 5.7 -14.8 4.8 -14.8 3.9 -1.1 0.3 -13.6 2.6 -14.8 2 -14.8 1.1 -14.7 0.3 -14.8 -0.5 -14.7 -1.4 -14.8 -2.2 -9.2 -1.9 -5.6 -1.3 -14.7 -4.1 -14.8 -5.1 -14.8 -5.9 -4.7 -2.2 -10 -5 -14.8 -8.3 -8.5 -5.3 -6.2 -4.2 -14.8 -11 -4.2 -3.4 -10.6 -9.3 -9.7 -9.3 -5 -5.3 -11.9 -13.3 -2.9 -3.6 -0.5 3.6 -2.5 18.6 -2.8 18.6 -3 18.6 -3.7 18.6 -2.3 9.1 -1.5 9.5 -3.4 18.6 -3.9 18.6 -4.3 18.6z"/>
<path stroke="#21a585" d="M266.3 745.4l-1.6 -9.5 -2.9 -18.6 -2.5 -18.6 -2.3 -18.6 -2 -18.6 -1.7 -18.6 -1.4 -18.6 -0.4 -6.5 -1.7 -12.1 -2.1 -18.6 -1.8 -18.6 -1.5 -18.6 -1.5 -18.6 -1.6 -18.6 -2.2 -18.6 -2.3 -13.2 -1.7 -5.4 -4.4 -18.6 -3.4 -18.6 -2.3 -18.6 -1.2 -18.6 -0.1 -18.6 1 -18.7 2 -18.6 3.2 -18.6 4.2 -18.6 2.7 -9.1 2.8 -9.5 6.8 -18.6 5.1 -11.9 3 -6.7 9.7 -18.6 2.1 -3.6 9.3 -15 5.4 -7.9 7.9 -10.7 6.9 -8.4 8.8 -10.2 6 -6.2 12.7 -12.4 2 -1.8 14.8 -12.2 6 -4.6 8.8 -6.1 14.7 -9.4 5.5 -3.1 9.3 -4.9 14.7 -6.9 14.8 -6.1 2 -0.7 12.8 -4.1 14.7 -4 14.8 -3.1 14.8 -2.2 14.7 -1.4 14.8 -0.5 14.7 0.3 14.8 1.1 14.8 2 14.7 2.9 14.8 3.7 14.8 4.5 2.1 0.8 12.6 5 14.8 6.6 13.6 7 1.1 0.7 14.8 9.1 13 8.8 1.8 1.4 14.7 11.9 6.2 5.3 8.6 8.3 10.1 10.3 4.7 5.3 11 13.3 3.7 5 9.7 13.6 5.1 8.2 6.2 10.4 8.5 16.2 1.2 2.4 8.1 18.6 5.5 14.9 1.3 3.7 5.5 18.6 4.3 18.6 3.2 18.6 0.5 4.6 1.5 14 0.9 18.7 -0.1 18.6 -1.1 18.6 -1.2 10 -1.1 8.6 -3.4 18.6 -4.6 18.6 -5.6 18.6 -0.1 0.2 -7 18.4 -7.8 17.2 -0.6 1.4 -10 18.6 -4.1 6.7 -7.7 11.9 -7.1 9.8 -6.7 8.8 -8 9.5 -8.3 9.1 -6.5 6.6 -12.8 12 -2 1.6 -14.7 11.8 -7.2 5.2 -7.6 5.1 -14.8 8.9 -8.3 4.6 -6.4 3.2 -14.8 6.6 -14.7 5.7 -9.5 3.1 -5.3 1.6 -14.8 3.7 -14.7 2.8 -14.8 2 -14.8 1.1 -14.7 0.3 -14.8 -0.5 -14.7 -1.4 -14.8 -2.2 -14.8 -3.1 -14.7 -3.9 -1.4 -0.4 -13.4 -4.6 -14.8 -6 -14.7 -6.8 -2.4 -1.2 -12.4 -7 -14.7 -9.2 -3.5 -2.4 -11.3 -8.4 -12.5 -10.2 -2.3 -2 -14.7 -14.1 -2.5 -2.5 -12.3 -13.9 -1.9 13.9 -2.8 18.6 -3 18.6 -3.7 18.6 -3.4 13.8 -0.7 4.8 -3.5 18.6 -3.8 18.6 -4.3 18.6z"/>
<path stroke="#22a785" d="M266.3 748.4l-2.1 -12.5 -2.9 -18.6 -2.5 -18.6 -2.3 -18.6 -2 -18.6 -1.7 -18.6 -1.3 -17 -0.2 -1.6 -2.6 -18.6 -2.2 -18.6 -1.9 -18.6 -1.7 -18.6 -1.8 -18.6 -2.1 -18.6 -2.2 -14.6 -1.5 -4 -5.5 -18.6 -4.5 -18.6 -3.3 -18.3 -0.1 -0.3 -2.1 -18.6 -1.2 -18.6 -0.1 -18.6 0.9 -18.7 2 -18.6 0.6 -3.7 2.5 -14.9 4.3 -18.6 5.3 -18.6 2.7 -7.6 3.9 -11 8 -18.6 2.8 -5.8 6.7 -12.8 8.1 -13.9 2.9 -4.7 11.8 -17.1 1.1 -1.5 13.7 -16.8 1.5 -1.8 13.3 -13.9 4.8 -4.7 9.9 -8.9 11.7 -9.7 3.1 -2.3 14.8 -10.4 9.2 -5.9 5.5 -3.2 14.8 -7.9 14.7 -6.9 1.4 -0.6 13.4 -5.1 14.8 -4.8 14.7 -3.9 14.8 -3.1 10.8 -1.7 4 -0.5 14.7 -1.3 14.8 -0.6 14.7 0.3 14.8 1.1 7.9 1 6.9 1 14.7 2.8 14.8 3.7 14.8 4.6 14.7 5.4 2.7 1.1 12.1 5.5 14.7 7.6 9.7 5.5 5.1 3.2 14.8 10.1 7.1 5.3 7.6 6.2 14.2 12.4 0.6 0.6 14.8 15.2 2.6 2.8 12.1 14.7 3.1 3.9 11.7 16.7 1.3 1.9 11 18.6 2.4 4.7 7 13.9 7.8 18.1 0.3 0.5 6.5 18.6 5.4 18.6 2.6 11.2 1.6 7.4 3.1 18.6 1.9 18.6 1 18.7 -0.1 18.6 -1.2 18.6 -2.2 18.6 -3.2 18.6 -0.9 3.8 -3.6 14.8 -5.7 18.6 -5.5 15.2 -1.3 3.4 -8.3 18.6 -5.2 10.1 -4.5 8.5 -10.2 16.7 -1.2 1.9 -13.4 18.6 -0.2 0.2 -14.7 17.5 -0.8 0.9 -14 14.1 -4.8 4.5 -10 8.6 -12.5 10 -2.2 1.6 -14.8 9.9 -11.5 7.1 -3.3 1.8 -14.7 7.5 -14.8 6.6 -7 2.7 -7.7 2.8 -14.8 4.5 -14.8 3.6 -14.7 2.9 -14.8 1.9 -14.8 1.2 -14.7 0.3 -14.8 -0.6 -14.7 -1.3 -14.8 -2.3 -14.8 -3 -14.7 -3.9 -14.8 -4.7 -3.7 -1.4 -11.1 -4.5 -14.7 -6.8 -13.9 -7.3 -0.9 -0.5 -14.7 -9.3 -12.9 -8.8 -1.9 -1.5 -14.8 -12 -5.8 -5.1 -8.9 -8.6 -9.8 -10 -5 -5.7 -0.8 5.7 -2.7 18.6 -3.1 18.6 -3.6 18.6 -4.5 18.6 -0.1 0 -3.4 18.6 -3.8 18.6 -4.3 18.6z"/>
<path stroke="#23a983" d="M266.3 751.6l-2.7 -15.7 -2.8 -18.6 -2.6 -18.6 -2.2 -18.6 -2 -18.6 -1.7 -18.6 -0.8 -10.1 -1.4 -8.5 -2.6 -18.6 -2.3 -18.6 -2 -18.6 -1.9 -18.6 -2.1 -18.6 -2.4 -17.8 -0.4 -0.8 -6.6 -18.6 -5.6 -18.6 -2.2 -9.3 -2.1 -9.3 -3.2 -18.6 -2.2 -18.6 -1.2 -18.6 -0.1 -18.6 1 -18.7 1.9 -18.6 3 -18.6 2.9 -13.2 1.2 -5.4 5.4 -18.6 6.4 -18.6 1.8 -4.4 6 -14.2 8.7 -17.8 0.4 -0.8 10.9 -18.6 3.5 -5.3 9.1 -13.3 5.6 -7.4 9.1 -11.2 5.7 -6.3 11.6 -12.3 3.2 -3 14.7 -13.2 2.8 -2.4 12 -9.1 13.4 -9.5 1.4 -0.8 14.7 -8.8 14.8 -7.8 2.4 -1.2 12.3 -5.4 14.8 -5.6 14.8 -4.8 10.2 -2.8 4.5 -1.1 14.8 -2.9 14.8 -2.1 14.7 -1.4 14.8 -0.5 14.7 0.3 14.8 1.1 14.8 1.9 14.7 2.7 8.7 2 6.1 1.6 14.8 4.5 14.7 5.4 14.8 6.3 1.7 0.8 13 6.7 14.8 8.5 5.4 3.4 9.4 6.5 14.7 11 1.4 1.1 13.4 11.8 7.2 6.8 7.6 7.8 9.8 10.8 4.9 6 9.8 12.6 5 7.1 7.6 11.5 7.1 12.1 3.7 6.5 9.3 18.6 1.8 4.3 5.9 14.3 6.5 18.6 2.4 8.1 2.9 10.5 4.1 18.6 3 18.6 2 18.6 0.9 18.7 -0.1 18.6 -1.1 18.6 -2.2 18.6 -3.3 18.6 -4.3 18.6 -1.9 6.7 -3.6 11.9 -6.8 18.6 -4.4 10.4 -3.6 8.2 -9.5 18.6 -1.7 2.8 -9.5 15.8 -5.2 7.7 -7.8 10.9 -7 8.8 -8.2 9.8 -6.5 7 -11.4 11.6 -3.4 3.1 -14.8 12.8 -3.4 2.7 -11.3 8.3 -14.8 10 -0.5 0.3 -14.3 8.1 -14.7 7.5 -6.8 3 -8 3.3 -14.7 5.4 -14.8 4.5 -14.8 3.6 -9.1 1.8 -5.6 1 -14.8 1.8 -14.8 1.1 -14.7 0.3 -14.8 -0.5 -14.7 -1.3 -14.8 -2.1 -1.8 -0.3 -13 -2.7 -14.7 -3.9 -14.8 -4.8 -14.8 -5.5 -3.9 -1.7 -10.8 -5.1 -14.8 -7.7 -10 -5.8 -4.7 -3 -14.8 -10.2 -7.2 -5.4 -7.6 -6.2 -14 -12.4 -0.7 -0.7 -14.8 -15.3 -2.4 16 -3 18.6 -3.6 18.6 -4.4 18.6 -1.4 4.4 -2.6 14.2 -3.8 18.6 -4.3 18.6 -4 15.7"/>
<path stroke="#25ab82" d="M266.3 754.8l-0.1 -0.3 -3.1 -18.6 -2.9 -18.6 -2.5 -18.6 -2.3 -18.6 -2 -18.6 -1.7 -18.6 -0.2 -2.8 -2.7 -15.8 -2.6 -18.6 -2.3 -18.6 -2.1 -18.6 -2.1 -18.6 -2.4 -18.6 -0.5 -4 -6.1 -14.6 -6.7 -18.6 -2 -6.8 -3.4 -11.8 -4.2 -18.6 -3.2 -18.6 -2.2 -18.6 -1.1 -18.6 -0.1 -18.6 0.9 -18.7 2 -18.6 3 -18.6 4 -18.6 4.3 -15.7 0.8 -2.9 6.4 -18.6 7.5 -18.6 0.1 0 9 -18.6 5.7 -10.3 4.9 -8.3 9.9 -15.3 2.3 -3.3 12.4 -16.4 1.8 -2.2 13 -14.6 3.8 -4 11 -10.6 8.8 -8 5.9 -4.9 14.8 -11.3 3.4 -2.4 11.4 -7.4 14.7 -8.8 4.5 -2.4 10.3 -5.1 14.7 -6.5 14.8 -5.6 4.2 -1.4 10.6 -3.2 14.7 -3.7 14.8 -2.9 14.8 -2.1 14.7 -1.4 14.8 -0.5 14.7 0.3 14.8 1.1 14.8 1.9 14.7 2.7 14.8 3.5 14.8 4.3 0.2 0 14.5 5.4 14.8 6.2 14.6 7 0.1 0.1 14.8 8.5 14.8 9.4 0.8 0.6 13.9 10.4 10.1 8.2 4.7 4.2 14.8 14 0.4 0.4 14.3 15.9 2.4 2.7 12.4 16.1 1.9 2.5 12.3 18.6 0.5 1 9.9 17.6 4.9 9.9 4.1 8.7 7.6 18.6 3.1 8.7 3.3 9.9 5.1 18.6 4.1 18.6 2.2 13.7 0.8 4.9 1.9 18.6 0.9 18.7 -0.1 18.6 -1.1 18.6 -2.1 18.6 -0.3 1.5 -3 17.1 -4.3 18.6 -5.3 18.6 -2.1 6.1 -4.5 12.5 -7.9 18.6 -2.4 4.9 -6.9 13.7 -7.9 13.6 -3 5 -11.7 17.4 -0.8 1.2 -14 17.6 -0.8 1 -13.9 15.1 -3.4 3.5 -11.4 10.6 -9.2 8 -5.6 4.4 -14.7 10.9 -4.9 3.3 -9.9 6.2 -14.8 8.4 -7.8 4 -6.9 3.2 -14.8 6.2 -14.7 5.4 -12.5 3.8 -2.3 0.6 -14.8 3.5 -14.7 2.6 -14.8 1.9 -14.8 1.1 -14.7 0.2 -14.8 -0.5 -14.7 -1.3 -14.8 -2 -14.8 -2.9 -12.9 -3.2 -1.8 -0.5 -14.8 -4.8 -14.8 -5.5 -14.7 -6.5 -2.8 -1.3 -12 -6.3 -14.7 -8.6 -5.8 -3.7 -9 -6.3 -14.8 -11.1 -1.4 -1.2 -13.3 -11.8 -7.2 -6.8 -7.6 -7.9 -1.2 7.9 -3 18.6 -3.5 18.6 -4.4 18.6 -2.7 8.9 -1.7 9.7 -3.9 18.6 -4.3 18.6 -4.7 18.6z"/>
<path stroke="#26ad81" d="M266.3 758l-0.7 -3.5 -3.1 -18.6 -2.8 -18.6 -2.6 -18.6 -2.3 -18.6 -1.9 -18.6 -1.4 -14.7 -0.8 -3.9 -3.1 -18.6 -2.7 -18.6 -2.3 -18.6 -2.3 -18.6 -2.3 -18.6 -1.2 -9.6 -4.3 -9 -7.8 -18.6 -2.7 -7.7 -3.7 -10.9 -5.3 -18.6 -4.2 -18.6 -1.6 -8.9 -1.6 -9.7 -2 -18.6 -1.1 -18.6 -0.1 -18.6 0.9 -18.7 1.8 -18.6 2.1 -13.7 0.8 -4.9 4.1 -18.6 5 -18.6 4.9 -14.8 1.3 -3.8 7.5 -18.6 6 -12.9 2.7 -5.7 10.3 -18.6 1.7 -2.8 10.3 -15.8 4.5 -6.3 9.3 -12.3 5.4 -6.5 10.8 -12.1 4 -4.2 14.8 -14.3 0.1 -0.1 14.6 -12.2 8.3 -6.4 6.5 -4.6 14.8 -9.6 7.3 -4.4 7.4 -4.1 14.8 -7.4 14.7 -6.5 1.6 -0.6 13.2 -4.7 14.8 -4.5 14.7 -3.7 14.8 -3 14.8 -2.1 6.7 -0.6 8 -0.6 14.8 -0.5 14.7 0.3 12.7 0.8 2.1 0.2 14.8 1.9 14.7 2.7 14.8 3.5 14.8 4.2 14.7 5.1 2.5 1 12.3 5.2 14.7 7.1 11.7 6.3 3.1 1.8 14.8 9.4 10.6 7.4 4.1 3.1 14.8 12.1 4 3.4 10.8 10.3 8.1 8.3 6.6 7.3 9.6 11.3 5.2 6.7 8.6 11.9 6.1 9.3 5.9 9.3 8.9 16 1.4 2.6 8.7 18.6 4.7 11.3 2.8 7.3 6.2 18.6 5.1 18.6 0.6 2.8 3.4 15.8 2.8 18.6 1.9 18.6 0.9 18.7 -0.1 18.6 -1.1 18.6 -2.1 18.6 -3.1 18.6 -2.6 11.8 -1.5 6.8 -5.4 18.6 -6.4 18.6 -1.4 3.6 -6.4 15 -8.4 17.5 -0.5 1.1 -10.7 18.6 -3.6 5.6 -8.7 13 -6 8.1 -8.3 10.5 -6.5 7.5 -10.2 11.1 -4.5 4.6 -14.8 13.7 -0.3 0.3 -14.5 11.6 -9.4 7 -5.3 3.6 -14.8 9.3 -9.9 5.7 -4.9 2.5 -14.7 7 -14.8 6.2 -7.8 2.9 -6.9 2.3 -14.8 4.3 -14.8 3.4 -14.7 2.7 -14.8 1.8 -14.8 1.1 -14.7 0.3 -14.8 -0.5 -14.7 -1.3 -14.8 -2.1 -14.8 -2.9 -14.7 -3.7 -14.8 -4.4 -2.9 -1 -11.9 -4.5 -14.7 -6.4 -14.8 -7.3 -0.8 -0.4 -13.9 -8.2 -14.8 -9.5 -1.3 -0.9 -13.5 -10.2 -10.2 -8.4 -4.5 -4 -14.8 -14.1 -2.9 18.1 -3.5 18.6 -4.3 18.6 -4.1 13.6 -0.9 5 -3.8 18.6 -4.3 18.6 -4.7 18.6 -1 3.5"/>
<path stroke="#28ae80" d="M266.3 761.2l-1.3 -6.7 -3.1 -18.6 -2.8 -18.6 -2.6 -18.6 -2.2 -18.6 -2 -18.6 -0.8 -8.2 -2.1 -10.4 -3.1 -18.6 -2.7 -18.6 -2.4 -18.6 -2.4 -18.6 -2 -15.6 -1.7 -3 -8.8 -18.6 -4.3 -10.4 -3.3 -8.2 -6.3 -18.6 -5.2 -18.4 0 -0.2 -4.1 -18.6 -3 -18.6 -2.1 -18.6 -1.1 -18.6 -0.1 -18.6 0.9 -18.7 1.9 -18.6 2.8 -18.6 3.9 -18.6 0.9 -3.7 4.1 -14.9 6.1 -18.6 4.6 -12 2.6 -6.6 8.6 -18.6 3.6 -6.7 6.5 -11.9 8.2 -13.4 3.4 -5.2 11.4 -15.9 2 -2.7 12.7 -15.3 2.9 -3.3 11.9 -12.3 6.4 -6.3 8.4 -7.5 13.3 -11.1 1.4 -1.1 14.8 -10.5 10.6 -7 4.2 -2.5 14.7 -8.2 14.8 -7.4 1.1 -0.5 13.6 -5.6 14.8 -5.3 14.8 -4.5 12.4 -3.2 2.3 -0.5 14.8 -2.8 14.8 -2 14.7 -1.2 14.8 -0.5 14.7 0.3 14.8 1 14.8 1.8 14.7 2.5 6.4 1.4 8.4 2 14.8 4.3 14.7 5.1 14.8 5.9 2.9 1.3 11.8 5.7 14.8 8 8.3 4.9 6.5 4.1 14.7 10.4 5.5 4.1 9.3 7.6 12.5 11 2.3 2.1 14.7 15.1 1.4 1.4 13.4 15.9 2.1 2.7 12.6 17.4 0.9 1.2 11.6 18.6 2.3 4.2 7.7 14.4 7.1 15.2 1.5 3.4 7.2 18.6 6 18 0.2 0.6 4.9 18.6 3.9 18.6 2.9 18.6 1.9 18.6 0.9 18.7 -0.1 18.6 -1.1 18.6 -2.1 18.6 -3.1 18.6 -4.1 18.6 -4.2 15.1 -0.9 3.5 -6.4 18.6 -7.4 18.4 -0.1 0.2 -9 18.6 -5.7 10.5 -4.6 8.1 -10.2 16 -1.7 2.6 -13 17.5 -0.8 1.1 -14 16.2 -2.2 2.4 -12.5 12.6 -6.4 6 -8.4 7.2 -14.1 11.4 -0.7 0.4 -14.7 10.2 -12.7 8 -2.1 1.2 -14.8 7.9 -14.7 7 -5.9 2.5 -8.9 3.4 -14.7 5.1 -14.8 4.2 -14.8 3.5 -13.4 2.4 -1.3 0.2 -14.8 1.8 -14.8 1 -14.7 0.2 -14.8 -0.4 -14.7 -1.3 -11.8 -1.5 -3 -0.5 -14.8 -2.8 -14.7 -3.7 -14.8 -4.5 -14.8 -5.2 -4.7 -1.9 -10 -4.4 -14.8 -7.3 -12.7 -6.9 -2 -1.2 -14.8 -9.6 -11.2 -7.8 -3.6 -2.8 -14.7 -12.1 -4.3 -3.7 -10.5 -10.1 -1.6 10.1 -3.5 18.6 -4.2 18.6 -5.5 18.4 0 0.2 -3.8 18.6 -4.3 18.6 -4.8 18.6z"/>
<path stroke="#2ab07f" d="M812.5 452.8l-0.7 4.1 -4.1 18.6 -5.1 18.6 -4.9 15 -1.2 3.6 -7.5 18.6 -6 13.3 -2.6 5.3 -10 18.6 -2.2 3.5 -9.5 15.1 -5.3 7.4 -8.2 11.2 -6.5 8 -9.1 10.6 -5.7 6.1 -12.4 12.5 -2.3 2.1 -14.8 12.8 -4.5 3.7 -10.3 7.7 -14.7 10.1 -1.2 0.8 -13.6 8 -14.8 7.8 -5.7 2.8 -9 4 -14.8 5.8 -14.7 5 -13 3.8 -1.8 0.5 -14.8 3.2 -14.7 2.5 -14.8 1.8 -14.8 1 -14.7 0.3 -14.8 -0.5 -14.7 -1.2 -14.8 -2 -14.8 -2.7 -12.3 -2.9 -2.4 -0.6 -14.8 -4.5 -14.8 -5.2 -14.7 -6.1 -4.9 -2.2 -9.9 -4.9 -14.7 -8.1 -9.4 -5.6 -5.4 -3.6 -14.8 -10.4 -6 -4.6 -8.7 -7.2 -13 -11.4 -1.8 -1.8 -0.3 1.8 -3.4 18.6 -4.1 18.6 -5.3 18.6 -1.7 4.3 -2.9 14.3 -4.3 18.6 -4.7 18.6 -2.8 10 -1.9 -10 -3.1 -18.6 -2.8 -18.6 -2.6 -18.6 -2.3 -18.6 -1.9 -18.6 -0.2 -1.5 -3.5 -17.1 -3.1 -18.6 -2.7 -18.6 -2.5 -18.6 -2.5 -18.6 -0.4 -3.6 -8.1 -15 -6.7 -14.3 -2 -4.3 -7.3 -18.6 -5.5 -16.1 -0.8 -2.5 -5 -18.6 -4 -18.6 -3.1 -18.6 -1.8 -16.6 -0.2 -2 -1.1 -18.6 -0.1 -18.6 0.9 -18.7 0.5 -5.2 1.3 -13.4 2.9 -18.6 3.8 -18.6 4.8 -18.6 1.9 -6.1 4.1 -12.5 7.1 -18.6 3.6 -8 4.9 -10.6 9.6 -18.6 0.3 -0.3 11.1 -18.3 3.6 -5.3 9.5 -13.3 5.3 -6.7 9.8 -11.9 4.9 -5.4 12.7 -13.2 2.1 -2 14.8 -13.3 3.9 -3.3 10.8 -8.4 14.3 -10.2 0.5 -0.3 14.8 -9.1 14.7 -8.2 2 -1 12.8 -6 14.7 -6.1 14.8 -5.3 3.9 -1.2 10.9 -3.1 14.7 -3.5 14.8 -2.8 14.8 -2 14.7 -1.2 14.8 -0.5 14.7 0.3 14.8 1 14.8 1.8 14.7 2.5 14.8 3.3 14.8 4.1 0.4 0.1 14.3 5 14.8 5.8 14.7 6.7 2.2 1.1 12.6 6.8 14.8 8.8 4.6 3 10.1 7.1 14.8 11.3 0.3 0.2 14.5 12.7 6.2 5.9 8.5 8.7 9.1 9.9 5.7 6.8 9.4 11.8 5.3 7.4 7.8 11.2 7 11.4 4.3 7.2 9.8 18.6 0.7 1.4 7.7 17.2 7 18.2 0.2 0.4 5.9 18.6 4.9 18.6 3.8 18.5"/>
<path stroke="#2db27d" d="M812.5 480.1l-3.8 14 -6.1 18.6 -4.9 12.7 -2.3 5.9 -8.5 18.6 -3.9 7.6 -5.9 11 -8.9 14.7 -2.5 3.9 -12.3 17.6 -0.7 1 -14 17.3 -1.1 1.3 -13.7 14.7 -3.8 3.9 -10.9 10.1 -9.8 8.5 -5 4.1 -14.8 11 -5 3.5 -9.7 6.3 -14.8 8.7 -6.7 3.6 -8.1 4 -14.7 6.6 -14.8 5.8 -6.3 2.2 -8.4 2.7 -14.8 4 -14.8 3.2 -14.7 2.6 -14.8 1.7 -14.8 1 -14.7 0.3 -14.8 -0.5 -14.7 -1.2 -14.8 -2 -14.8 -2.7 -14.7 -3.5 -14.8 -4.2 -4.3 -1.4 -10.5 -3.7 -14.7 -6.1 -14.8 -6.8 -3.9 -2 -10.8 -6 -14.8 -8.9 -5.6 -3.7 -9.2 -6.5 -14.7 -11.3 -1 -0.8 -13.8 -12.2 -2.2 12.2 -4 18.6 -5.2 18.6 -3.4 8.9 -2 9.7 -4.2 18.6 -4.8 18.6 -3.7 13.5 -2.5 -13.5 -3.2 -18.6 -2.8 -18.6 -2.5 -18.6 -2.3 -18.6 -1.5 -14 -1.1 -4.6 -3.8 -18.6 -3.1 -18.6 -2.7 -18.6 -2.6 -18.6 -1.4 -10.7 -4.7 -7.9 -10 -18.6 -0.1 -0.4 -8.2 -18.2 -6.6 -16.6 -0.7 -2 -6.1 -18.6 -5 -18.6 -2.9 -13.7 -1.1 -4.9 -2.9 -18.6 -1.9 -18.6 -1.1 -18.6 -0.1 -18.6 0.9 -18.7 1.8 -18.6 2.7 -18.6 1.7 -8.6 2 -10 4.8 -18.6 5.8 -18.6 2.1 -5.7 5 -12.9 8.1 -18.6 1.7 -3.3 7.9 -15.3 6.9 -11.7 4.2 -6.9 10.5 -15.6 2.1 -3 12.7 -16.2 2 -2.4 12.7 -14.2 4.3 -4.4 10.5 -10.1 9.4 -8.5 5.4 -4.5 14.7 -11.5 3.7 -2.6 11.1 -7.4 14.8 -9.1 3.7 -2.1 11 -5.7 14.8 -6.9 14.3 -6 0.4 -0.1 14.8 -5 14.8 -4.3 14.7 -3.5 14.8 -2.8 14.8 -2 10.7 -0.9 4 -0.3 14.8 -0.4 14.7 0.2 7.9 0.5 6.9 0.5 14.8 1.8 14.7 2.5 14.8 3.3 14.8 4.1 14.7 4.8 4.4 1.6 10.4 4.2 14.7 6.7 14.8 7.5 0.5 0.2 14.3 8.5 14.7 9.7 0.6 0.4 14.2 10.8 9.5 7.8 5.3 4.6 14.7 14 0.1 0 14.7 16.1 2.2 2.5 12.5 15.9 2.1 2.7 12.7 18.6 0.1 0 10.9 18.6 3.8 7.2 5.7 11.4 8.3 18.6 0.7 1.9 6.2 16.7 5.9 18.6 2.7 10.3"/>
<path stroke="#2eb37c" d="M812.5 501.6l-3.6 11.1 -7.1 18.6 -4.1 9.3 -4.2 9.3 -9.6 18.6 -0.9 1.7 -10.2 16.9 -4.6 7 -8.1 11.6 -6.7 8.7 -7.9 9.9 -6.8 7.7 -10.1 10.9 -4.7 4.6 -14.7 13.8 -0.2 0.2 -14.6 11.8 -9.1 6.8 -5.7 4 -14.7 9.5 -8.6 5.1 -6.2 3.4 -14.8 7.4 -14.7 6.6 -2.9 1.2 -11.9 4.4 -14.7 4.7 -14.8 4 -14.8 3.3 -12.8 2.2 -1.9 0.3 -14.8 1.7 -14.8 0.9 -14.7 0.3 -14.8 -0.5 -14.7 -1.1 -12.6 -1.6 -2.2 -0.3 -14.8 -2.8 -14.7 -3.4 -14.8 -4.2 -14.8 -5 -7.6 -2.9 -7.1 -3 -14.8 -6.8 -14.7 -7.6 -2.2 -1.2 -12.6 -7.7 -14.8 -9.8 -1.6 -1.1 -13.1 -10.1 -10.4 -8.5 -4.4 -4 -0.7 4 -3.9 18.6 -5.1 18.6 -5.1 13.7 -1 4.9 -4.3 18.6 -4.7 18.6 -4.7 17.1 -3.2 -17.1 -3.1 -18.6 -2.8 -18.6 -2.6 -18.6 -2.3 -18.6 -0.8 -7.8 -2.7 -10.8 -3.7 -18.6 -3.1 -18.6 -2.7 -18.6 -2.5 -17.8 -0.6 -0.8 -11 -18.6 -3.2 -6.1 -6.4 -12.5 -8.3 -18.6 -0.1 -0.1 -6.9 -18.5 -6 -18.6 -1.8 -6.7 -3.1 -11.9 -3.8 -18.6 -3 -18.6 -1.9 -18.6 -1.1 -18.6 -0.1 -18.6 0.9 -18.7 1.8 -18.6 2.7 -18.6 3.6 -18.6 4 -15.8 0.7 -2.8 5.8 -18.6 6.8 -18.6 1.4 -3.5 6.6 -15.1 8.2 -16.4 1.1 -2.2 10.8 -18.6 2.9 -4.5 9.5 -14.1 5.2 -7.1 9 -11.5 5.8 -6.8 10.5 -11.8 4.2 -4.3 14.8 -14.2 0 -0.1 14.8 -12.3 8 -6.3 6.7 -4.9 14.8 -9.9 6.2 -3.8 8.6 -4.9 14.7 -7.7 12.7 -6 2.1 -0.9 14.7 -5.8 14.8 -5 14.8 -4.2 11.1 -2.7 3.6 -0.8 14.8 -2.6 14.8 -1.9 14.7 -1.2 14.8 -0.4 14.7 0.2 14.8 1 14.8 1.7 14.7 2.4 7.8 1.6 7 1.6 14.8 4.1 14.7 4.8 14.8 5.5 6.1 2.6 8.6 4 14.8 7.4 12.8 7.2 2 1.2 14.7 9.7 10.9 7.7 3.9 3 14.8 12.1 4 3.5 10.7 10.2 8.4 8.4 6.4 7.1 10 11.5 4.7 6.1 9.5 12.5 5.3 7.9 7 10.7 7.8 13.3 3 5.3 9.3 18.6 2.4 5.5 5.6 13.1 6.9 18.6 2.3 7.3"/>
<path stroke="#31b57b" d="M812.5 520.1l-4.2 11.2 -8.1 18.6 -2.5 5 -6.9 13.6 -7.8 13.6 -3 5 -11.8 17.8 -0.5 0.8 -14.1 18.6 -0.2 0.1 -14.7 16.9 -1.5 1.6 -13.3 13.2 -5.7 5.4 -9 7.8 -13.3 10.8 -1.5 1.1 -14.8 10.4 -10.9 7.1 -3.8 2.3 -14.8 8.2 -14.8 7.4 -1.5 0.7 -13.2 5.6 -14.8 5.5 -14.7 4.7 -10.2 2.8 -4.6 1.1 -14.8 3.1 -14.7 2.4 -14.8 1.7 -14.8 0.9 -14.7 0.3 -14.8 -0.5 -14.7 -1.1 -14.8 -1.9 -14.8 -2.6 -14.7 -3.2 -0.7 -0.2 -14.1 -4.1 -14.8 -4.9 -14.7 -5.7 -9 -3.9 -5.8 -2.7 -14.7 -7.6 -14.6 -8.3 -0.2 -0.2 -14.8 -9.7 -12 -8.7 -2.7 -2.1 -14.8 -12.2 -3 14.3 -4.8 18.6 -6.9 18.6 -0.1 0 -4.2 18.6 -4.7 18.6 -5.2 18.6 -0.6 2 -0.4 -2 -3.5 -18.6 -3.1 -18.6 -2.8 -18.6 -2.6 -18.6 -2.2 -18.6 -0.2 -1.4 -4.2 -17.2 -3.7 -18.6 -3.1 -18.6 -2.8 -18.6 -0.9 -6.9 -7.7 -11.7 -7.1 -12.1 -3.7 -6.5 -9.4 -18.6 -1.7 -3.8 -6.3 -14.8 -7 -18.6 -1.4 -4.4 -4.4 -14.2 -4.8 -18.6 -3.8 -18.6 -1.8 -11.2 -1.1 -7.4 -1.9 -18.6 -1 -18.6 -0.1 -18.6 0.8 -18.7 1.7 -18.6 1.6 -11.2 1.1 -7.4 3.6 -18.6 4.6 -18.6 5.5 -18.2 0.1 -0.4 6.8 -18.6 7.7 -18.6 0.1 -0.2 9.1 -18.4 5.7 -10.3 4.8 -8.3 10 -15.5 2 -3.1 12.7 -17.3 1 -1.3 13.8 -16.2 2.1 -2.4 12.6 -13 5.8 -5.6 9 -8.1 12.5 -10.5 2.3 -1.7 14.7 -10.8 9.1 -6.1 5.7 -3.5 14.8 -8.6 12.4 -6.5 2.3 -1.1 14.8 -6.5 14.7 -5.8 14.8 -5 0.5 -0.2 14.3 -3.9 14.7 -3.3 14.8 -2.6 14.8 -1.9 14.7 -1.2 14.8 -0.4 14.7 0.2 14.8 1 14.8 1.7 14.7 2.4 14.8 3.1 14.8 3.9 3.4 1 11.3 3.7 14.8 5.6 14.7 6.3 6.4 3 8.4 4.3 14.8 8.3 9.8 6 4.9 3.3 14.8 10.5 6.3 4.8 8.5 7 13.2 11.6 1.5 1.5 14.8 14.9 2 2.2 12.7 14.8 3.1 3.8 11.7 15.6 2.1 3 12.1 18.6 0.6 1 9.8 17.6 4.9 9.9 4.2 8.7 7.9 18.6 2.7 7.4"/>
<path stroke="#34b679" d="M812.5 537l-5.6 12.9 -9.1 18.6 -0.1 0.1 -10.5 18.5 -4.2 6.7 -7.8 11.9 -7 9.6 -6.8 9 -8 9.6 -7.8 9 -6.9 7.4 -11.2 11.2 -3.6 3.3 -14.7 12.8 -3.1 2.5 -11.7 8.9 -13.8 9.7 -1 0.6 -14.7 9 -14.8 8.2 -1.5 0.8 -13.3 6.2 -14.7 6.3 -14.8 5.5 -1.8 0.6 -12.9 3.9 -14.8 3.8 -14.8 3.1 -14.7 2.4 -14.8 1.6 -14.8 1 -14.7 0.2 -14.8 -0.4 -14.7 -1.2 -14.8 -1.8 -14.8 -2.6 -14.7 -3.3 -14.8 -4 -8.6 -2.7 -6.2 -2.1 -14.7 -5.7 -14.8 -6.5 -8.9 -4.3 -5.8 -3 -14.8 -8.4 -11.5 -7.2 -3.3 -2.2 -14.7 -10.6 -7.6 -5.8 -7.2 -6 -1.2 6 -4.7 18.6 -6.6 18.6 -2.3 4.7 -3.2 13.9 -4.7 18.6 -5.1 18.6 -1.7 5.6 -1.2 -5.6 -3.4 -18.6 -3.1 -18.6 -2.8 -18.6 -2.6 -18.6 -1.7 -14.1 -1.4 -4.5 -4.5 -18.6 -3.6 -18.6 -3 -18.6 -2.2 -14.6 -2.9 -4 -11.9 -18.4 -0.2 -0.2 -10.4 -18.6 -4.2 -8.2 -5 -10.4 -7.9 -18.6 -1.8 -4.8 -5 -13.8 -5.7 -18.6 -4.1 -15.9 -0.7 -2.7 -3.7 -18.6 -2.7 -18.6 -1.9 -18.6 -1 -18.6 -0.1 -18.6 0.8 -18.7 1.7 -18.6 2.6 -18.6 3.5 -18.6 1.5 -6.3 3 -12.3 5.6 -18.6 6.2 -17.8 0.2 -0.8 7.8 -18.6 6.7 -14.2 2.2 -4.4 10.2 -18.6 2.4 -3.9 9.4 -14.7 5.4 -7.7 7.9 -10.9 6.8 -8.5 8.6 -10.1 6.2 -6.8 11.4 -11.8 3.3 -3.2 14.8 -13.3 2.5 -2.1 12.3 -9.6 12.3 -9 2.4 -1.6 14.8 -9.4 13.2 -7.6 1.6 -0.8 14.7 -7.3 14.8 -6.5 10.1 -4 4.6 -1.7 14.8 -4.8 14.8 -4 14.7 -3.3 14.8 -2.6 14.8 -1.9 3.2 -0.3 11.5 -0.8 14.8 -0.5 14.7 0.3 14.8 0.9 1.2 0.1 13.6 1.6 14.7 2.4 14.8 3.1 14.8 3.8 14.7 4.6 8.8 3.1 6 2.3 14.7 6.3 14.8 7.1 5.6 2.9 9.2 5.2 14.7 9.1 6.6 4.3 8.2 5.9 14.8 11.4 1.6 1.3 13.1 11.6 7.5 7 7.3 7.4 10.4 11.2 4.3 5.1 11 13.5 3.8 5.1 9.6 13.5 5.2 8.1 6.5 10.5 8.2 14.8 2.1 3.8 8.8 18.6 3.9 9.2"/>
<path stroke="#37b878" d="M812.5 552.6l-7.7 15.9 -7.1 12.9 -3.2 5.7 -11.5 18.4 -0.1 0.2 -13.4 18.6 -1.3 1.6 -14 17 -0.8 0.9 -14.7 15.6 -2 2.1 -12.8 11.8 -7.7 6.8 -7 5.7 -14.8 11.2 -2.3 1.7 -12.5 8.2 -14.7 9 -2.5 1.4 -12.3 6.4 -14.8 7 -12.2 5.2 -2.5 1 -14.8 5.2 -14.7 4.5 -14.8 3.8 -14.8 3.1 -6.2 1 -8.5 1.3 -14.8 1.6 -14.8 0.9 -14.7 0.2 -14.8 -0.4 -14.7 -1.1 -14.8 -1.8 -4.5 -0.7 -10.3 -1.8 -14.7 -3.3 -14.8 -4 -14.8 -4.7 -13.1 -4.8 -1.6 -0.6 -14.8 -6.5 -14.7 -7.2 -8.1 -4.3 -6.7 -3.9 -14.8 -9.2 -8.2 -5.5 -6.5 -4.7 -14.8 -11.5 -3.9 16.2 -6.3 18.6 -4.6 9.4 -2.1 9.2 -4.7 18.6 -5.1 18.6 -2.8 9.2 -2 -9.2 -3.4 -18.6 -3 -18.6 -2.9 -18.6 -2.5 -18.6 -1 -8.1 -3.2 -10.5 -4.3 -18.6 -3.6 -18.6 -3.1 -18.6 -0.5 -3.9 -10.5 -14.7 -4.3 -6.7 -7.4 -11.9 -7.4 -13.2 -2.9 -5.4 -8.9 -18.6 -2.9 -6.8 -4.9 -11.8 -6.6 -18.6 -3.3 -10.6 -2.3 -8 -4.6 -18.6 -3.7 -18.6 -2.8 -18.6 -1.4 -13.6 -0.4 -5 -1 -18.6 -0.1 -18.6 0.8 -18.7 0.7 -8.6 1 -10 2.6 -18.6 3.5 -18.6 4.3 -18.6 3.4 -11.8 2 -6.8 6.5 -18.6 6.3 -15.7 1.2 -2.9 8.7 -18.6 4.8 -9.2 5.2 -9.4 9.6 -15.8 1.8 -2.8 12.9 -18.6 0.1 0 14.7 -18.5 0.1 -0.1 14.7 -16.1 2.4 -2.5 12.3 -11.9 7.5 -6.7 7.3 -6.1 14.8 -11.6 1.1 -0.9 13.6 -9.3 14.7 -9.3 0.1 0 14.8 -8.1 14.7 -7.2 7.3 -3.3 7.5 -3.1 14.7 -5.5 14.8 -4.7 14.8 -4 5.4 -1.3 9.3 -2 14.8 -2.4 14.8 -1.8 14.7 -1.1 14.8 -0.5 14.7 0.3 14.8 0.9 14.8 1.6 14.7 2.3 13.8 2.7 1 0.2 14.8 3.9 14.7 4.5 14.8 5.3 11.7 4.7 3 1.3 14.8 7.1 14.8 7.8 4.1 2.4 10.6 6.6 14.8 9.9 3 2.1 11.8 9.1 11.5 9.5 3.2 2.9 14.8 13.9 1.8 1.8 12.9 14 4.1 4.6 10.7 13.3 4.1 5.3 10.7 15.1 2.3 3.5 11.5 18.6 0.9 1.8 9 16.8 5.8 12.2"/>
<path stroke="#3aba76" d="M812.5 567.3l-0.5 1.2 -10.1 18.6 -4.2 6.9 -7.2 11.7 -7.5 10.9 -5.5 7.7 -9.3 11.8 -5.5 6.8 -9.3 10.4 -7.7 8.2 -7 7 -12.5 11.6 -2.3 2 -14.7 12 -6 4.6 -8.8 6.3 -14.8 9.7 -4.1 2.6 -10.6 6.1 -14.8 7.7 -10 4.8 -4.8 2.1 -14.7 5.9 -14.8 5.2 -14.7 4.5 -3.4 0.9 -11.4 2.8 -14.8 2.9 -14.7 2.3 -14.8 1.5 -14.8 1 -14.7 0.2 -14.8 -0.4 -14.7 -1.1 -14.8 -1.8 -14.8 -2.5 -14.7 -3.1 -7.2 -1.8 -7.6 -2.1 -14.8 -4.7 -14.7 -5.4 -14.8 -6.1 -0.7 -0.3 -14 -6.9 -14.8 -7.9 -6.4 -3.8 -8.4 -5.2 -14.7 -10 -4.7 -3.4 -10.1 -7.9 -1.9 7.9 -5.9 18.6 -7 14.4 -0.9 4.2 -4.7 18.6 -5.2 18.6 -3.9 13 -2.7 -13 -3.4 -18.6 -3.1 -18.6 -2.8 -18.6 -2.6 -18.6 -0.2 -1.9 -5 -16.7 -4.3 -18.6 -3.5 -18.6 -1.9 -12 -5.2 -6.6 -9.6 -13.7 -3.4 -4.9 -11.4 -18.5 0 -0.1 -10 -18.6 -4.7 -9.9 -4 -8.7 -7.6 -18.6 -3.2 -8.9 -3.3 -9.7 -5.5 -18.6 -4.6 -18.6 -1.4 -6.9 -2.2 -11.7 -2.6 -18.6 -1.8 -18.6 -1 -18.6 -0.1 -18.6 0.8 -18.7 1.6 -18.6 2.5 -18.6 2.8 -15.7 0.6 -2.9 4.4 -18.6 5.3 -18.6 4.5 -13.6 1.7 -5 7.4 -18.6 5.7 -12.5 2.8 -6.1 9.8 -18.6 2.1 -3.7 9 -14.9 5.8 -8.7 6.9 -9.9 7.9 -10.4 6.5 -8.2 8.2 -9.6 8.2 -9 6.6 -6.7 12.4 -11.9 2.3 -2.1 14.8 -12.5 5.1 -4 9.7 -7.1 14.7 -10.1 2.1 -1.4 12.7 -7.5 14.8 -8.1 6.1 -3 8.6 -4 14.8 -6.2 14.7 -5.5 9.1 -2.9 5.7 -1.7 14.8 -3.9 14.7 -3.1 14.8 -2.5 14.8 -1.8 14.7 -1.1 14.8 -0.4 14.7 0.2 14.8 0.9 14.8 1.6 14.7 2.3 14.8 3 14.8 3.6 9.9 2.9 4.8 1.5 14.8 5.3 14.7 6 13 5.8 1.8 0.9 14.8 7.9 14.7 8.5 2.1 1.3 12.7 8.5 13.9 10.1 0.9 0.7 14.7 12.2 6.5 5.7 8.3 7.8 10.7 10.8 4 4.4 12.5 14.2 2.3 2.9 12.1 15.7 2.7 3.8 9.9 14.8 4.8 7.9 6.3 10.7 8.5 16"/>
<path stroke="#3dbc74" d="M812.5 581.2l-3.2 5.9 -11 18.6 -0.6 0.8 -12.1 17.8 -2.6 3.5 -11.8 15.1 -3 3.6 -13.3 15 -1.5 1.5 -14.7 14.7 -2.6 2.4 -12.2 10.6 -9.7 8 -5 3.8 -14.8 10.6 -6.3 4.2 -8.5 5.3 -14.7 8.4 -9.2 4.9 -5.6 2.7 -14.8 6.7 -14.7 5.9 -9.4 3.3 -5.4 1.8 -14.7 4.3 -14.8 3.6 -14.8 2.9 -14.7 2.3 -14.8 1.5 -14.8 1 -14.7 0.2 -14.8 -0.4 -14.7 -1.1 -14.8 -1.8 -14.8 -2.5 -14.7 -3.1 -14.8 -3.8 -14.8 -4.4 -1.4 -0.5 -13.3 -4.9 -14.8 -6.1 -14.7 -6.9 -1.5 -0.7 -13.3 -7.2 -14.8 -8.7 -4.3 -2.7 -10.4 -7.1 -14.8 -10.8 -5.4 17.9 -8.8 18.6 -0.6 0.8 -4.5 17.8 -5.1 18.6 -5.1 16.9 -3.6 -16.9 -3.3 -18.6 -3.1 -18.6 -2.8 -18.6 -2 -14.6 -1.5 -4 -5.4 -18.6 -4.2 -18.6 -3.4 -18.6 -0.2 -1.4 -13.3 -17.2 -1.5 -2.2 -11.1 -16.4 -3.7 -6 -7.4 -12.6 -7.3 -13.8 -2.5 -4.8 -8.5 -18.6 -3.8 -9.2 -3.7 -9.4 -6.3 -18.6 -4.8 -16.1 -0.7 -2.5 -4.4 -18.6 -3.5 -18.6 -2.7 -18.6 -1.8 -18.6 -0.9 -18.6 -0.1 -18.6 0.8 -18.7 1.6 -18.6 2.5 -18.6 3.3 -18.6 4.3 -18.6 1.6 -6.2 3.6 -12.4 6.2 -18.6 5 -13.2 2.1 -5.4 8.4 -18.6 4.3 -8.5 5.2 -10.1 9.5 -16.5 1.3 -2.1 12.3 -18.6 1.2 -1.6 12.8 -17 2 -2.4 13.9 -16.2 0.8 -0.9 14.8 -15.1 2.7 -2.6 12 -10.9 9.2 -7.7 5.6 -4.4 14.8 -10.9 4.7 -3.3 10 -6.5 14.8 -8.8 6 -3.3 8.8 -4.5 14.7 -6.9 14.8 -6.1 2.8 -1.1 11.9 -4.2 14.8 -4.5 14.8 -3.8 14.7 -3.2 14.8 -2.5 3.4 -0.4M547.8 10.4l13.7 2.1 14.8 3 14.8 3.7 14.7 4.3 14.8 5 1.4 0.5 13.3 5.4 14.8 6.7 13 6.5 1.8 1 14.7 8.6 14.4 9 0.4 0.3 14.8 10.7 9.7 7.6 5 4.2 14.8 13 1.5 1.4 13.2 13.4 5 5.2 9.8 11.3 6.1 7.3 8.7 11.4 5.3 7.2 9.4 14.2 2.9 4.4 10.9 18.6 1 2"/>
<path stroke="#40bd72" d="M812.5 594.7l-6.5 11 -8.3 12.6 -4 6 -10.7 14.5 -3.2 4.1 -11.6 13.8 -4.2 4.8 -10.6 11 -7.5 7.6 -7.2 6.6 -13.7 12 -1.1 0.9 -14.7 11.3 -8.9 6.4 -5.9 4 -14.8 9.2 -9.3 5.4 -5.4 2.9 -14.8 7.4 -14.8 6.6 -4.2 1.7 -10.5 4 -14.8 4.9 -14.7 4.3 -14.8 3.6 -8.8 1.8 -6 1.1 -14.7 2.2 -14.8 1.5 -14.8 0.8 -14.7 0.3 -14.8 -0.4 -14.7 -1.1 -14.8 -1.7 -14.8 -2.3 -2 -0.4 -12.7 -2.7 -14.8 -3.8 -14.8 -4.5 -14.7 -5.1 -6.4 -2.5 -8.4 -3.5 -14.7 -6.8 -14.8 -7.6 -1.4 -0.7 -13.4 -7.9 -14.7 -9.5 -1.9 -1.2 -12.9 -9.5 -2.8 9.5 -8.2 18.6 -3.8 5.7 -3.2 12.9 -5.2 18.6 -5.6 18.6 -0.7 2.2 -0.6 -2.2 -3.8 -18.6 -3.3 -18.6 -3.1 -18.6 -2.8 -18.6 -1.2 -8.7 -3.7 -9.9 -5.2 -18.6 -4.1 -18.6 -1.7 -9.7 -7.4 -8.9 -7.4 -9.6 -6.6 -9 -8.2 -12.2 -4.1 -6.4 -10.6 -18.2 -0.3 -0.4 -9.5 -18.6 -5 -11 -3.3 -7.6 -7.3 -18.6 -4.2 -12.2 -2.1 -6.4 -5.2 -18.6 -4.4 -18.6 -3 -16 -0.5 -2.6 -2.6 -18.6 -1.7 -18.6 -0.9 -18.6 -0.1 -18.6 0.8 -18.7 1.5 -18.6 2.4 -18.6 1.1 -6.2 2.2 -12.4 4.2 -18.6 5.1 -18.6 3.2 -10.2 2.8 -8.4 7.1 -18.6 4.9 -11.4 3.2 -7.2 9.3 -18.6 2.3 -4.1 8.3 -14.5 6.4 -10.1 5.6 -8.5 9.2 -12.8 4.4 -5.8 10.4 -12.7 5 -5.9 9.7 -10.5 7.9 -8.1 6.9 -6.6 13.3 -12 1.4 -1.2 14.8 -11.7 7.6 -5.7 7.2 -5 14.7 -9.5 6.8 -4.1 8 -4.5 14.8 -7.6 13.9 -6.5 0.8 -0.3 14.8 -5.9 14.7 -5.2 14.8 -4.5 10.2 -2.7M585 10.4l6.1 1.5 14.7 4.3 14.8 5.1 14.7 5.6 4.9 2.1 9.9 4.5 14.8 7.4 12.1 6.7 2.6 1.5 14.8 9.4 11.3 7.7 3.5 2.5 14.7 11.5 5.6 4.6 9.2 8.2 11.1 10.4 3.6 3.7 14 14.9 0.8 0.9 14.6 17.7 0.2 0.2 13.4 18.4 1.3 2.1 10.6 16.5 4.2 7.2"/>
<path stroke="#44bf70" d="M812.5 607.9l-10.6 16.4 -4.2 5.9 -9.4 12.7 -5.3 6.7 -10 11.9 -4.8 5.3 -12.5 13.3 -2.3 2.1 -14.7 13.8 -3.1 2.7 -11.7 9.6 -11.7 9 -3 2.2 -14.8 10 -10.2 6.4 -4.6 2.7 -14.7 8 -14.8 7.3 -1.2 0.6 -13.6 5.8 -14.7 5.6 -14.8 4.9 -7.7 2.3 -7 1.9 -14.8 3.5 -14.8 2.8 -14.7 2.1 -14.8 1.5 -14.8 0.9 -14.7 0.2 -14.8 -0.4 -14.7 -1 -14.8 -1.7 -14.8 -2.4 -14.7 -2.9 -14.8 -3.7 -3 -0.8 -11.8 -3.6 -14.7 -5.1 -14.8 -5.8 -9.3 -4.1 -5.4 -2.5 -14.8 -7.6 -14.8 -8.2 -0.5 -0.3 -14.2 -9.1 -13.8 -9.5 -1 -0.8 -0.2 0.8 -7.5 18.6 -7.1 10.7 -2 7.9 -5.1 18.6 -5.6 18.6 -2 6.2 -1.5 -6.2 -3.8 -18.6 -3.3 -18.6 -3 -18.6 -2.8 -18.6 -0.4 -2.5 -6 -16.1 -5 -18.6 -3.7 -17.8 -0.8 -0.8 -14 -17 -1.3 -1.6 -13.5 -18.6 -11.9 -18.6 -2.8 -4.8 -7.8 -13.8 -7 -13.8 -2.4 -4.8 -8.1 -18.6 -4.3 -10.9 -2.9 -7.7 -6.1 -18.6 -5.2 -18.6 -0.5 -2.3 -3.7 -16.3 -3.4 -18.6 -2.6 -18.6 -1.7 -18.6 -0.9 -18.6 -0.1 -18.6 0.8 -18.7 1.5 -18.6 2.4 -18.6 3.2 -18.6 4.1 -18.6 0.4 -1.6 4.6 -17 5.9 -18.6 4.2 -11.5 2.7 -7.1 8 -18.6 4.1 -8.5 5 -10.1 9.8 -17.7 0.5 -0.9 11.7 -18.6 2.5 -3.7 10.7 -14.9 4.1 -5.3 10.8 -13.3 4 -4.5 12.9 -14.1 1.8 -1.8 14.8 -14.2 2.9 -2.6 11.8 -10 10.8 -8.6 4 -3 14.8 -10.3 8.1 -5.3 6.6 -4 14.8 -8.3 12.1 -6.3 2.7 -1.3 14.7 -6.5 14.8 -5.9 13.8 -4.9M610.7 10.4l9.9 3.4 14.7 5.6 14.8 6.4 6.8 3.2 8 4.1 14.7 8.1 10.8 6.4 4 2.6 14.8 10.1 8.1 5.9 6.6 5.2 14.8 12.3 1.3 1.1 13.4 12.7 6 5.9 8.8 9.5 8.1 9.1 6.7 8.1 8.2 10.5 6.5 9 6.7 9.6 8.1 12.7"/>
<path stroke="#48c16e" d="M812.5 620.6l-2.4 3.7 -12.4 17.6 -0.7 1 -14 17.7 -0.8 0.9 -14 15.6 -2.9 3 -11.9 11.7 -7.3 6.9 -7.4 6.5 -14.7 12.1 -0.1 0 -14.7 10.7 -11.6 7.9 -3.2 2 -14.8 8.7 -14.3 7.9 -0.4 0.2 -14.8 6.9 -14.8 6.3 -13.4 5.2 -1.3 0.4 -14.8 4.8 -14.7 4 -14.8 3.5 -14.8 2.8 -14.7 2.1 -9.4 1 -5.4 0.5 -14.8 0.8 -14.7 0.2 -14.8 -0.3 -14.7 -1 -1.7 -0.2 -13.1 -1.5 -14.8 -2.4 -14.7 -2.9 -14.8 -3.7 -14.8 -4.2 -11.8 -3.9 -2.9 -1.1 -14.8 -5.8 -14.7 -6.5 -10.9 -5.2 -3.9 -2 -14.8 -8.2 -13.8 -8.4 -0.9 -0.6 -14.8 -10.2 -4.3 10.8 -10.5 15.8 -0.6 2.8 -5.2 18.6 -5.5 18.6 -3.4 10.2 -2.5 -10.2 -3.7 -18.6 -3.3 -18.6 -3 -18.6 -2.3 -15.1 -1.7 -3.5 -6.7 -18.6 -4.8 -18.6 -1.5 -7.6 -9.8 -11 -5 -6.1 -9.9 -12.5 -4.9 -6.8 -8.2 -11.8 -6.5 -10.3 -5.1 -8.3 -9.7 -17.3 -0.7 -1.3 -9.1 -18.6 -5 -11.4 -3 -7.2 -7 -18.6 -4.7 -14.5 -1.3 -4.1 -5 -18.6 -4.3 -18.6 -3.3 -18.6 -0.9 -6.2 -1.6 -12.4 -1.7 -18.6 -0.9 -18.6 0 -18.6 0.7 -18.7 1.5 -18.6 2 -16.5 0.3 -2.1 3.2 -18.6 4 -18.6 4.9 -18.6 2.4 -7.8 3.4 -10.8 6.8 -18.6 4.5 -11 3.3 -7.6 8.9 -18.6 2.6 -5 7.5 -13.6 7.3 -12.1 4 -6.5 10.7 -15.7 2.1 -2.9 12.7 -16.4 1.8 -2.2 13 -14.9 3.4 -3.7 11.3 -11.5 7.4 -7.1 7.4 -6.6 14.1 -12 0.6 -0.5 14.8 -11.1 10 -7 4.8 -3.1 14.7 -9.1 11.4 -6.4 3.4 -1.8 14.8 -7.2 14.7 -6.6 7.5 -3M632 10.4l3.3 1.3 14.8 6.4 14.8 7 7.5 3.9 7.2 4 14.8 8.9 8.9 5.7 5.9 4 14.7 10.9 4.8 3.7 10 8.4 11.6 10.2 3.1 3 14.8 14.8 0.8 0.8 14 15.8 2.4 2.8 12.3 15.8 2.1 2.8 12.7 18.4"/>
<path stroke="#4cc26c" d="M812.5 633.1l-6.9 9.8 -7.9 10.4 -6.5 8.2 -8.2 9.7 -8 8.9 -6.8 7 -11.7 11.6 -3.1 2.8 -14.7 13 -3.4 2.8 -11.4 8.8 -13.4 9.8 -1.3 0.9 -14.8 9.4 -13.9 8.3 -0.9 0.5 -14.7 7.6 -14.8 7 -8.2 3.5 -6.6 2.6 -14.7 5.4 -14.8 4.7 -14.7 4.1 -7.7 1.8 -7.1 1.5 -14.8 2.7 -14.7 2.1 -14.8 1.4 -14.8 0.8 -14.7 0.3 -14.8 -0.4 -14.7 -1 -14.8 -1.6 -14.8 -2.3 -14.7 -2.8 -3.1 -0.7 -11.7 -2.9 -14.8 -4.2 -14.7 -4.9 -14.8 -5.6 -2.5 -1 -12.2 -5.4 -14.8 -7.2 -11.4 -6 -3.4 -1.9 -14.7 -8.9 -11.9 -7.8 -2.9 -2 -0.8 2 -11.5 18.6 -2.5 2.4 -4.4 16.2 -5.5 18.6 -4.8 14.4 -3.5 -14.4 -3.7 -18.6 -3.2 -18.6 -3 -18.6 -1.4 -9.1 -4.5 -9.5 -6.3 -18.6 -3.9 -15.8 -2.7 -2.8 -12.1 -13.7 -4.1 -4.9 -10.7 -13.6 -3.7 -5 -11 -15.9 -1.8 -2.7 -11.4 -18.6 -1.6 -2.9 -8.4 -15.7 -6.4 -13.1 -2.6 -5.5 -7.8 -18.6 -4.3 -11.6 -2.5 -7 -5.9 -18.6 -5 -18.6 -1.4 -6.1 -2.7 -12.5 -3.3 -18.6 -2.4 -18.6 -1.7 -18.6 -0.9 -18.6 0 -18.6 0.7 -18.7 1.5 -18.6 2.3 -18.6 3.1 -18.6 3.4 -16.5 0.5 -2.1 4.8 -18.6 5.7 -18.6 3.8 -10.8 2.8 -7.8 7.7 -18.6 4.2 -9.3 4.5 -9.3 9.7 -18.6 0.6 -1 10.6 -17.6 4.2 -6.4 8.3 -12.2 6.4 -8.8 7.6 -9.8 7.2 -8.7 8.6 -9.9 6.2 -6.5 11.8 -12.1 2.9 -2.8 14.8 -13.3 2.9 -2.5 11.8 -9.4 12.2 -9.2 2.6 -1.8 14.8 -9.8 11.4 -7 3.3 -1.9 14.8 -7.9 14.8 -7.2 3.4 -1.6M650.9 10.4l14 6.7 14.7 7.7 7.5 4.2 7.3 4.4 14.8 9.6 6.6 4.6 8.1 6 14.8 11.6 1.2 1 13.5 12 7.1 6.6 7.7 7.8 10.3 10.8 4.5 5.1 11.4 13.5 3.3 4.4 10.7 14.2 4.1 6"/>
<path stroke="#50c46a" d="M812.5 645.5l-12.1 16 -2.7 3.3 -13 15.3 -1.7 1.9 -14.8 15.4 -1.3 1.3 -13.5 12.5 -6.9 6.1 -7.8 6.5 -14.8 11.4 -0.8 0.7 -13.9 9.5 -14.1 9.1 -0.7 0.4 -14.8 8.3 -14.7 7.6 -4.8 2.3 -10 4.5 -14.8 6 -14.7 5.3 -8.6 2.8 -6.2 1.9 -14.7 3.8 -14.8 3.3 -14.8 2.7 -14.7 2 -14.8 1.5 -14.8 0.8 -14.7 0.2 -14.8 -0.3 -14.7 -1.1 -14.8 -1.6 -14.8 -2.2 -14.7 -2.8 -14.8 -3.5 -14.8 -4.1 -2.1 -0.6 -12.6 -4.2 -14.8 -5.6 -14.7 -6.1 -5.9 -2.7 -8.9 -4.4 -14.8 -7.8 -11.2 -6.4 -3.5 -2.2 -14.8 -9.7 -7.1 11.9 -7.7 7.6 -3 11 -5.4 18.6 -6.3 18.6 0 0.1 -0.1 -0.1 -4.5 -18.6 -3.5 -18.6 -3.2 -18.6 -3 -18.6 -0.5 -2.9 -7.5 -15.7 -5.9 -18.6 -1.3 -5.5 -12.4 -13.1 -2.4 -2.8 -13.3 -15.8 -1.5 -1.9 -12.5 -16.7 -2.2 -3.3 -10.2 -15.3 -4.6 -7.6 -6.4 -11 -8.4 -15.6 -1.5 -3 -8.7 -18.6 -4.5 -10.8 -3.2 -7.8 -6.7 -18.6 -4.9 -15.7 -0.9 -2.9 -4.8 -18.6 -4 -18.6 -3.3 -18.6 -1.7 -13.3 -0.7 -5.3 -1.6 -18.6 -0.9 -18.6 0 -18.6 0.6 -18.7 1.5 -18.6 1.1 -8.9 1.1 -9.7 3.1 -18.6 3.9 -18.6 4.7 -18.6 1.9 -6.6 3.7 -12 6.5 -18.6 4.6 -11.6 2.8 -7 8.5 -18.6 3.4 -6.7 6.3 -11.9 8.5 -14.8 2.2 -3.8 12.1 -18.6 0.5 -0.6 13.2 -18 1.5 -1.9 13.8 -16.7 1 -1.1 14.8 -15.8 1.6 -1.7 13.1 -12.5 6.7 -6.1 8.1 -6.9 14.6 -11.7 0.1 -0.1 14.8 -10.4 12.2 -8.1 2.6 -1.6 14.7 -8.6 14.8 -7.9 0.9 -0.5M668 10.4l11.6 6.1 14.8 8.4 6.7 4.1 8.1 5.2 14.7 10.3 4.2 3.1 10.6 8.3 12.3 10.3 2.4 2.2 14.8 13.9 2.5 2.5 12.3 13 5 5.6 9.7 11.6 5.7 7 9.1 12.3"/>
<path stroke="#54c568" d="M812.5 657.6l-2.9 3.9 -11.9 14.6 -3.3 4 -11.4 12.5 -5.8 6.1 -9 8.8 -10.5 9.8 -4.3 3.7 -14.7 12.2 -3.4 2.7 -11.4 8.3 -14.7 10.2 -0.2 0.1 -14.6 8.9 -14.8 8.3 -2.6 1.4 -12.1 5.9 -14.8 6.7 -14.7 6 -0.1 0 -14.7 5.1 -14.8 4.5 -14.7 3.9 -14.8 3.3 -10 1.8 -4.8 0.8 -14.7 2 -14.8 1.3 -14.8 0.8 -14.7 0.2 -14.8 -0.3 -14.7 -1 -14.8 -1.5 -14.8 -2.2 -0.8 -0.1 -13.9 -2.7 -14.8 -3.4 -14.8 -4.1 -14.7 -4.7 -10.5 -3.7 -4.3 -1.6 -14.7 -6.2 -14.8 -6.8 -7.9 -4 -6.9 -3.7 -14.7 -8.5 -10.4 -6.4 -4.4 -2.9 -1.7 2.9 -13.1 12.9 -1.5 5.7 -5.4 18.6 -6.1 18.6 -1.7 4.3 -1.3 -4.3 -4.4 -18.6 -3.4 -18.6 -3.2 -18.6 -2.5 -15.3 -2.1 -3.3 -8.4 -18.6 -4.2 -13.8 -4.9 -4.8 -9.9 -10.6 -7.2 -8 -7.6 -9 -7.6 -9.6 -7.1 -9.5 -6.5 -9.1 -8.3 -12.6 -3.8 -6 -10.9 -18.6 -0.1 -0.2 -9.4 -18.4 -5.3 -11.4 -3.3 -7.2 -7.5 -18.6 -4 -11.3 -2.5 -7.3 -5.7 -18.6 -4.8 -18.6 -1.7 -8.1 -2.2 -10.5 -3.2 -18.6 -2.3 -18.6 -1.6 -18.6 -0.9 -18.6 -0.1 -18.6 0.7 -18.7 1.5 -18.6 2.2 -18.6 3 -18.6 2.9 -14.4 0.8 -4.2 4.7 -18.6 5.5 -18.6 3.7 -11.1 2.6 -7.5 7.3 -18.6 4.9 -11 3.4 -7.6 9.4 -18.6 1.9 -3.5 8.7 -15.1 6.1 -9.8 5.7 -8.8 9.1 -12.9 4.1 -5.7 10.6 -13.4 4.3 -5.2 10.5 -11.8 6.3 -6.8 8.5 -8.5 10.4 -10.1 4.3 -3.8 14.8 -12.6 2.7 -2.2 12 -9.1 13.4 -9.5 1.4 -0.9 14.8 -9.3 14.3 -8.4M684.1 10.4l10.3 5.9 14.8 9.1 5.5 3.6 9.2 6.5 14.8 11 1.5 1.1 13.2 11.2 8.5 7.4 6.3 6 12.7 12.6 2.1 2.2 14.7 16.4 0 0.1 14.8 18.5"/>
<path stroke="#58c765" d="M812.5 669.6l-8.5 10.5 -6.3 7.3 -10.2 11.3 -4.5 4.6 -14.2 14 -0.6 0.5 -14.8 13 -6.1 5.1 -8.6 6.7 -14.8 10.9 -1.4 1 -13.3 8.7 -14.8 9 -1.6 0.9 -13.2 7.1 -14.7 7.2 -9.5 4.3 -5.3 2.3 -14.8 5.7 -14.7 5.1 -14.8 4.5 -3.6 1 -11.1 2.8 -14.8 3.1 -14.8 2.6 -14.7 1.9 -14.8 1.4 -14.8 0.8 -14.7 0.2 -14.8 -0.4 -14.7 -0.9 -14.8 -1.6 -14.8 -2.1 -14.7 -2.7 -14.8 -3.3 -6.9 -1.8 -7.9 -2.2 -14.7 -4.7 -14.8 -5.3 -14.7 -5.9 -1.3 -0.5 -13.5 -6.3 -14.8 -7.4 -8.9 -4.9 -5.8 -3.4 -14.8 -9.1 -14.8 12.3 0 0.2 -5.4 18.6 -5.9 18.6 -3.4 8.7 -2.6 -8.7 -4.2 -18.6 -3.4 -18.6 -3.1 -18.6 -1.5 -9.1 -6 -9.5 -7.7 -18.6 -1 -3.5 -14.8 -14.7 -0.4 -0.4 -14.4 -16.1 -2.1 -2.5 -12.6 -15.8 -2.2 -2.8 -12.6 -17.7 -0.6 -0.9 -11.8 -18.6 -2.4 -4.1 -8.1 -14.5 -6.6 -13 -2.8 -5.6 -8.3 -18.6 -3.7 -9.2 -3.7 -9.4 -6.4 -18.6 -4.6 -15.5 -1 -3.1 -4.6 -18.6 -3.9 -18.6 -3.1 -18.6 -2.2 -17.2 -0.2 -1.4 -1.5 -18.6 -0.8 -18.6 -0.1 -18.6 0.6 -18.7 1.4 -18.6 0.6 -4.8 1.6 -13.8 3 -18.6 3.7 -18.6 4.5 -18.6 2 -6.8 3.4 -11.8 6.3 -18.6 5 -13.3 2.1 -5.3 8.2 -18.6 4.5 -9.3 4.6 -9.3 10.1 -18.4 0.2 -0.2 11.5 -18.6 3.1 -4.6 9.8 -14 5 -6.5 9.4 -12.1 5.3 -6.3 10.9 -12.3 3.9 -4.1 14.3 -14.5 0.5 -0.4 14.7 -13.3 5.7 -4.9 9.1 -7.3 14.7 -11.2 0.2 -0.1 14.6 -9.8 13.9 -8.8M699.3 10.4l9.9 6.1 14.7 9.7 4 2.8 10.8 8.1 13.3 10.5 1.4 1.3 14.8 13.1 4.5 4.2 10.3 10.2 8 8.4 6.7 7.6 9.5 11 5.3 6.7"/>
<path stroke="#5cc863" d="M812.5 681.6l-14.7 17.1 -0.1 0 -14.7 15.3 -3.3 3.3 -11.5 10.6 -9 8 -5.8 4.7 -14.7 11.6 -3.1 2.3 -11.7 8.2 -14.7 9.6 -1.3 0.8 -13.5 7.8 -14.8 7.9 -5.7 2.9 -9 4.2 -14.8 6.4 -14.8 5.7 -6.6 2.3 -8.1 2.7 -14.8 4.3 -14.7 3.7 -14.8 3.1 -14.8 2.6 -14.7 2 -2.3 0.2 -12.5 1.1 -14.8 0.8 -14.7 0.2 -14.8 -0.4 -14.7 -0.9 -8 -0.8 -6.8 -0.7 -14.8 -2.2 -14.7 -2.7 -14.8 -3.3 -14.8 -3.9 -14.7 -4.4 -4.1 -1.4 -10.7 -3.9 -14.7 -5.9 -14.8 -6.5 -4.9 -2.3 -9.9 -5 -14.7 -8.1 -9.3 -5.5 -5.5 -3.4 -4.1 3.4 -10.7 5.4 -3.8 13.2 -5.8 18.6 -5.1 13.2 -3.9 -13.2 -4.1 -18.6 -3.3 -18.6 -3.1 -18.6 -0.4 -2.6 -10 -16 -4.7 -11.7 -7.3 -6.9 -7.5 -7.5 -10.6 -11.1 -4.2 -4.7 -11.8 -13.9 -2.9 -3.6 -11.5 -15 -3.3 -4.7 -9.4 -13.9 -5.4 -8.4 -6.1 -10.2 -8.6 -15.4 -1.7 -3.2 -9.2 -18.6 -3.9 -8.7 -4.2 -9.9 -7.3 -18.6 -3.2 -9.6 -3.1 -9 -5.4 -18.6 -4.6 -18.6 -1.7 -8.1 -2.1 -10.5 -3 -18.6 -2.3 -18.6 -1.6 -18.6 -0.8 -18.6 -0.1 -18.6 0.7 -18.7 1.4 -18.6 2.1 -18.6 2.9 -18.6 2.8 -14.4 0.8 -4.2 4.5 -18.6 5.3 -18.6 4.2 -12.9 1.9 -5.7 7 -18.6 5.8 -13.7 2.1 -4.9 9 -18.6 3.7 -6.9 6.4 -11.7 8.3 -14 2.9 -4.6 11.9 -17.8 0.6 -0.8 13.9 -18.6 0.3 -0.2 14.7 -17.6 0.7 -0.8 14.1 -15 3.6 -3.6 11.2 -10.6 8.7 -8 6 -5.1 14.8 -11.9 2.1 -1.6 12.6 -9.1 14.1 -9.5M713.9 10.4l10 6.6 14.8 10.5 2.1 1.5 12.6 10.1 10.2 8.5 4.6 4.1 14.8 13.9 0.6 0.6 14.1 14.9 3.5 3.7 11.3 13.3"/>
<path stroke="#5ec962" d="M812.5 693.4l-4.5 5.3 -10.3 11.1 -7.1 7.5 -7.6 7.4 -12 11.2 -2.8 2.4 -14.8 12.3 -4.9 3.9 -9.8 7.3 -14.8 10.3 -1.4 1 -13.3 8.3 -14.8 8.5 -3.3 1.8 -11.5 5.9 -14.7 6.9 -13.5 5.8 -1.3 0.5 -14.8 5.5 -14.7 4.9 -14.8 4.3 -13.4 3.4 -1.3 0.3 -14.8 3 -14.8 2.5 -14.7 1.8 -14.8 1.4 -14.8 0.7 -14.7 0.2 -14.8 -0.3 -14.7 -0.9 -14.8 -1.5 -14.8 -2.1 -14.7 -2.6 -11.9 -2.5 -2.9 -0.7 -14.8 -3.9 -14.7 -4.4 -14.8 -5.1 -11.9 -4.5 -2.8 -1.2 -14.8 -6.5 -14.8 -7.1 -7.3 -3.8 -7.4 -4.1 -14.8 -8.8 -14.8 5.4 -2.1 7.5 -5.6 18.6 -7 17.8 -5.3 -17.8 -3.9 -18.6 -3.2 -18.6 -2.4 -14.4 -3.5 -4.2 -10.7 -18.6 -0.5 -1.3 -14.8 -13.9 -3.5 -3.4 -11.3 -11.9 -6 -6.7 -8.7 -10.2 -6.9 -8.4 -7.9 -10.5 -6 -8.1 -8.8 -13 -3.6 -5.6 -11.1 -18.4 -0.2 -0.2 -10 -18.6 -4.6 -9.4 -4.3 -9.2 -8 -18.6 -2.4 -6.3 -4.7 -12.3 -6.1 -18.6 -4 -13.7 -1.4 -4.9 -4.5 -18.6 -3.7 -18.6 -3 -18.6 -2.2 -17.4M89.1 340.7l1.6 -14.1 2.9 -18.6 3.6 -18.6 4.3 -18.6 2.4 -8.6 2.8 -10 6 -18.6 6 -16.2 0.8 -2.4 7.9 -18.6 6 -13 2.7 -5.6 9.8 -18.6 2.3 -3.9 8.7 -14.7 6 -9.4 6.2 -9.2 8.6 -12 5 -6.6 9.8 -12.2 5.3 -6.4 9.4 -10.5 7.6 -8.1 7.2 -7.2 11.9 -11.4 2.9 -2.5 14.7 -12.6 4.3 -3.5 10.5 -8 14.6 -10.6M728.1 10.4l10.6 7.5 14.7 11.1 14.8 12.5 6.9 6.1 7.9 7.4 11.3 11.2 3.4 3.6 13.6 15 1.2 1.4"/>
<path stroke="#63cb5f" d="M812.5 705.2l-11 12.1 -3.8 3.8 -14.7 14.5 -0.4 0.3 -14.4 12.7 -7.1 5.9 -7.7 6 -14.7 11.1 -2.2 1.5 -12.6 8.4 -14.7 9.2 -1.8 1 -13 7.2 -14.8 7.5 -8.1 3.9 -6.6 3 -14.8 6 -14.8 5.5 -12.2 4.1 -2.5 0.8 -14.8 4.1 -14.7 3.6 -14.8 3 -14.8 2.4 -14.7 1.9 -14.8 1.3 -14.8 0.8 -14.7 0.2 -14.8 -0.4 -14.7 -0.9 -14.8 -1.5 -14.8 -2 -14.7 -2.6 -14.8 -3.2 -14.8 -3.7 -13.1 -3.8 -1.6 -0.5 -14.8 -5.1 -14.7 -5.6 -14.8 -6.2 -2.6 -1.2 -12.2 -5.9 -14.7 -7.8 -8.8 -4.9 -6 -3.6 -14.8 2.1 -0.4 1.5 -5.5 18.6 -6.9 18.6 -1.9 3.8 -1.4 -3.8 -5.3 -18.6 -3.7 -18.6 -3.2 -18.6 -1.2 -7.4 -9.3 -11.2 -5.4 -9.5 -10.2 -9.1 -4.6 -4.3 -14.4 -14.3 -0.4 -0.4 -14.7 -16.3 -1.7 -1.9 -13.1 -16.2 -1.9 -2.4 -12.9 -17.7 -0.6 -0.9 -12.1 -18.6 -2 -3.4 -8.9 -15.2 -5.9 -11 -3.9 -7.6 -8.8 -18.6 -2 -4.8 -5.8 -13.8 -6.9 -18.6 -2.1 -6.3 -3.9 -12.3 -5.3 -18.6 -4.4 -18.6 -1.2 -5.6M89.1 291l0.3 -1.6 4.4 -18.6 5 -18.6 5.1 -16.2 0.8 -2.4 6.7 -18.6 7.3 -17.7 0.3 -0.9 8.6 -18.6 5.8 -11.4 3.8 -7.2 10.6 -18.6 0.4 -0.5 11.6 -18.1 3.1 -4.6 10.1 -14 4.7 -6.1 10 -12.5 4.8 -5.6 11.6 -13 3.1 -3.3 14.8 -14.8 0.4 -0.5 14.4 -12.9 6.6 -5.7 8.1 -6.6 14.8 -11.3 0.9 -0.7M741.8 10.4l11.6 8.8 12.4 9.8 2.4 2.1 14.8 13.1 3.6 3.4 11.1 11 7.3 7.6 7.5 8.3"/>
<path stroke="#67cc5c" d="M812.5 717.1l-0.1 0.2 -14.7 15 -3.6 3.6 -11.1 10.3 -9.4 8.3 -5.4 4.5 -14.8 11.7 -3.2 2.4 -11.5 8.2 -14.8 9.8 -0.9 0.6 -13.8 8.2 -14.8 8.2 -4.3 2.2 -10.5 5.1 -14.7 6.7 -14.8 6 -2 0.8 -12.8 4.5 -14.7 4.7 -14.8 4.1 -14.7 3.6 -8.2 1.7 -6.6 1.3 -14.8 2.3 -14.7 1.8 -14.8 1.3 -14.8 0.7 -14.7 0.2 -14.8 -0.3 -14.7 -0.9 -14.8 -1.4 -14.8 -2 -14.7 -2.5 -2.6 -0.5 -12.2 -2.6 -14.8 -3.8 -14.7 -4.3 -14.8 -4.8 -8.5 -3.1 -6.2 -2.4 -14.8 -6.2 -14.8 -6.9 -6.3 -3.1 -8.4 -4.4 -14.8 -8.4 -14.8 -0.8 -3.9 13.6 -6.5 18.6 -4.3 8.5 -3.2 -8.5 -5 -18.6 -3.5 -18.6 -3.1 -18.6 0 -0.1 -14.7 -17.4 -1.4 -1.1 -13.4 -12.1 -7 -6.5 -7.8 -7.8 -10.4 -10.8 -4.3 -4.8 -11.9 -13.8 -2.9 -3.6 -11.7 -15 -3.1 -4.2 -10 -14.4 -4.7 -7.3 -7.1 -11.3 -7.7 -13.3 -3 -5.3 -9.6 -18.6 -2.1 -4.6 -6.4 -14 -7.7 -18.6 -0.7 -1.9 -6 -16.7 -6 -18.6 -2.8 -10M89.1 258.4l1.7 -6.2 5.8 -18.6 6.5 -18.6 0.8 -1.9 6.8 -16.7 8 -17.9 0.3 -0.7 9.4 -18.6 5 -9.1 5.4 -9.5 9.4 -15.2 2.2 -3.4 12.5 -18.3 0.3 -0.3 14.2 -18.6 0.3 -0.3 14.8 -17.3 0.8 -1 13.9 -14.7 3.9 -3.9 10.9 -10.3 9.1 -8.3 5.7 -4.8 14.7 -12 2.3 -1.8M755.3 10.4l12.9 10.3 9.8 8.3 5 4.4 14.7 13.9 0.4 0.3 14.4 15.1"/>
<path stroke="#6ccd5a" d="M812.5 728.8l-6.9 7.1 -7.9 7.7 -11.7 10.9 -3 2.6 -14.8 12.4 -4.5 3.6 -10.3 7.7 -14.7 10.4 -0.6 0.5 -14.2 9 -14.7 8.8 -1.5 0.8 -13.3 7 -14.8 7.2 -9.6 4.4 -5.1 2.2 -14.8 5.8 -14.8 5.3 -14.7 4.6 -2.3 0.7 -12.5 3.3 -14.7 3.5 -14.8 2.9 -14.8 2.3 -14.7 1.8 -14.8 1.3 -14.8 0.7 -14.7 0.2 -14.8 -0.3 -14.7 -0.9 -14.8 -1.4 -14.8 -2 -14.7 -2.5 -14.8 -3 -14.8 -3.6 -8.2 -2.3 -6.5 -1.9 -14.8 -4.9 -14.7 -5.4 -14.8 -5.9 -1.1 -0.5 -13.7 -6.3 -14.7 -7.4 -9.1 -4.9 -5.7 -3.3 -14.8 -3.4 -1.9 6.7 -6.1 18.6 -6.7 13.3 -5 -13.3 -4.7 -18.6 -3.4 -18.6 -1.7 -10.4 -8.8 -8.2 -5.9 -7 -13.7 -11.6 -1.1 -1 -14.8 -13.9 -3.7 -3.7 -11 -11.5 -6.5 -7.1 -8.3 -9.6 -7.4 -9 -7.4 -9.5 -6.8 -9.1 -7.9 -11.5 -4.8 -7.1 -10 -16 -1.6 -2.6 -10.4 -18.6 -2.7 -5.5 -6.6 -13.1 -8.2 -18.1 -0.2 -0.5 -7.5 -18.6 -6.6 -18.6 -0.5 -1.4M89.1 231.2l5.7 -16.2 7.3 -18.6 1.8 -4.2 6.4 -14.4 8.4 -17 0.7 -1.6 10.2 -18.6 3.8 -6.3 7.5 -12.3 7.3 -10.9 5.2 -7.7 9.5 -12.9 4.4 -5.7 10.4 -12.8 4.9 -5.8 9.9 -10.8 7.3 -7.8 7.4 -7.4 11.7 -11.2 3.1 -2.7 14.8 -12.7 3.9 -3.2M768.5 10.4l14.5 12.2 7.2 6.4 7.5 7.1 11.7 11.5 3.1 3.3"/>
<path stroke="#70cf57" d="M812.5 740.6l-14.2 13.9 -0.6 0.4 -14.7 13.1 -6.1 5.1 -8.7 6.9 -14.8 11.1 -0.8 0.6 -13.9 9.4 -14.4 9.2 -0.4 0.2 -14.7 8.4 -14.8 7.8 -4.3 2.2 -10.5 4.9 -14.7 6.3 -14.8 5.9 -4.3 1.5 -10.5 3.6 -14.7 4.5 -14.8 3.9 -14.7 3.5 -14.8 2.8 -1.5 0.3 -13.3 2 -14.7 1.7 -14.8 1.3 -14.8 0.7 -14.7 0.2 -14.8 -0.4 -14.7 -0.8 -14.8 -1.4 -14.8 -1.9 -8.8 -1.4 -5.9 -1 -14.8 -3.1 -14.8 -3.5 -14.7 -4.2 -14.8 -4.6 -6.3 -2.2 -8.4 -3.1 -14.8 -6 -14.8 -6.5 -6.2 -3 -8.5 -4.3 -14.8 -8 -14.8 -5.7 -5.4 18 -9.3 18.3 -6.9 -18.3 -4.4 -18.6 -3.2 -18.6 -0.3 -1.9 -14.7 -13.1 -4.6 -3.6 -10.2 -8.7 -11.1 -9.9 -3.7 -3.5 -14.7 -14.6 -0.5 -0.5 -14.3 -15.7 -2.6 -2.9 -12.2 -14.8 -3 -3.8 -11.7 -15.8 -2 -2.8 -12.5 -18.6 -0.3 -0.5 -10.9 -18.1 -3.8 -7 -6.3 -11.6 -8.5 -17.2 -0.7 -1.4 -8.1 -18.6 -6 -14.9M89.1 207.6l4.4 -11.2 8 -18.6 2.4 -5.1 6.6 -13.5 8.2 -15.5 1.7 -3.1 11 -18.6 2 -3.2 10.2 -15.4 4.6 -6.5 8.8 -12.1 5.9 -7.6 9 -11 5.8 -6.7 10.7 -11.9 4.1 -4.2 14.3 -14.4 0.4 -0.3 14.8 -13.4 5.7 -4.9M781.5 10.4l1.5 1.3 14.7 13.1 4.5 4.2 10.3 10.2"/>
<path stroke="#75d054" d="M812.5 752.4l-2.1 2.1 -12.7 11.7 -7.8 6.9 -6.9 5.8 -14.8 11.8 -1.3 1 -13.5 9.6 -13.1 9 -1.6 1 -14.8 9 -14.7 8.4 -0.4 0.2 -14.4 7.3 -14.8 6.9 -10 4.4 -4.7 1.9 -14.8 5.6 -14.8 5.1 -14.7 4.5 -5.7 1.5 -9.1 2.3 -14.7 3.3 -14.8 2.8 -14.8 2.3 -14.7 1.7 -14.8 1.2 -14.8 0.7 -14.7 0.2 -14.8 -0.3 -14.7 -0.9 -14.8 -1.3 -14.8 -1.9 -14.7 -2.4 -14.8 -3 -14.8 -3.4 -4.9 -1.3 -9.8 -2.8 -14.8 -4.6 -14.7 -5.2 -14.8 -5.7 -0.7 -0.3 -14.1 -6.3 -14.7 -7 -10.2 -5.3 -4.6 -2.5 -14.8 -6.9 -2.8 9.4 -8.5 18.6 -3.4 4.6 -2.4 -4.6 -6.4 -18.6 -4.1 -18.6 -1.9 -11 -9.8 -7.6 -4.9 -4.3 -14.8 -11.9 -2.8 -2.4 -12 -10.7 -8.4 -7.9 -6.3 -6.3 -11.9 -12.3 -2.9 -3.2 -13.5 -15.4 -1.3 -1.6 -13.4 -17 -1.3 -1.8 -12 -16.8 -2.8 -4.1 -9.3 -14.5 -5.4 -9.1 -5.6 -9.5 -9.2 -17.3 -0.7 -1.3 -8.9 -18.6 -5.2 -11.8M89.1 185.8l3.5 -8 8.7 -18.6 2.6 -5 7.1 -13.6 7.7 -13.3 3 -5.3 11.7 -18.4 0.2 -0.2 13.1 -18.6 1.5 -2 12.9 -16.6 1.8 -2.2 14.2 -16.4 0.6 -0.7 14.8 -15.4 2.4 -2.5 12.3 -11.7 7.6 -6.9M794.3 10.4l3.4 3.1 14.8 13.8"/>
<path stroke="#7ad151" d="M812.5 764.1l-9.7 9 -5.1 4.5 -14.7 12.4 -2.1 1.7 -12.7 9.6 -12.5 9 -2.3 1.5 -14.7 9.6 -12.2 7.5 -2.6 1.5 -14.7 8 -14.8 7.5 -3.4 1.6 -11.4 5.1 -14.7 6.1 -14.8 5.6 -5.1 1.8 -9.7 3.1 -14.7 4.4 -14.8 3.8 -14.7 3.3 -14.8 2.8 -8 1.2 -6.8 1 -14.7 1.7 -14.8 1.1 -14.8 0.7 -14.7 0.2 -14.8 -0.3 -14.7 -0.9 -14.8 -1.3 -14.8 -1.8 -2.7 -0.4 -12 -2 -14.8 -2.9 -14.8 -3.4 -14.7 -4 -14.8 -4.5 -5.4 -1.8 -9.3 -3.3 -14.8 -5.7 -14.8 -6.3 -7.2 -3.3 -7.5 -3.6 -14.8 -7.7 -14 -7.3 -0.8 -0.4 -0.1 0.4 -7.4 18.6 -7.2 9.7 -4.9 -9.7 -5.9 -18.6 -3.8 -18.6 -0.2 -1 -14.7 -11.1 -8.5 -6.5 -6.3 -5.1 -14.8 -12.6 -1 -0.9 -13.7 -13 -5.8 -5.6 -9 -9.4 -8.5 -9.2 -6.3 -7.2 -9.5 -11.4 -5.2 -6.6 -9.1 -12 -5.7 -8 -7.3 -10.6 -7.4 -11.6 -4.4 -7 -10.4 -18.1 -0.3 -0.5 -9.7 -18.6 -4.8 -10.1M89.1 165.5l3 -6.3 9.4 -18.6 2.4 -4.2 8.2 -14.4 6.6 -10.8 4.9 -7.8 9.8 -14.5 2.9 -4.1 11.9 -15.8 2.1 -2.8 12.6 -15.3 2.9 -3.3 11.9 -13 5.3 -5.6 9.5 -9.4 9.6 -9.2M807 10.4l5.5 5.2"/>
<path stroke="#7fd34e" d="M812.5 776l-14.8 13.1 -3.1 2.6 -11.6 9.3 -12.2 9.3 -2.6 1.9 -14.8 10.1 -10 6.6 -4.7 2.9 -14.8 8.6 -13 7.1 -1.7 0.9 -14.8 7.2 -14.8 6.7 -9.2 3.8 -5.5 2.2 -14.8 5.4 -14.8 4.8 -14.7 4.3 -7.1 1.9 -7.7 1.9 -14.7 3.2 -14.8 2.6 -14.8 2.2 -14.7 1.7 -14.8 1.2 -14.8 0.6 -14.7 0.2 -14.8 -0.3 -14.7 -0.8 -14.8 -1.3 -14.8 -1.9 -14.7 -2.3 -14.8 -2.8 -14.8 -3.3 -3.5 -0.9 -11.2 -3 -14.8 -4.5 -14.7 -5 -14.8 -5.5 -1.5 -0.6 -13.3 -5.7 -14.7 -6.8 -12.4 -6.1 -2.4 -1.3 -14.8 -7.9 -3.6 9.2 -11.1 15 -7.5 -15 -5.4 -18.6 -1.9 -9.2 -13.2 -9.4 -1.5 -1.1 -14.8 -11.5 -7.5 -6 -7.3 -6.3 -13.8 -12.3 -0.9 -0.9 -14.8 -14.6 -3 -3.1 -11.8 -12.7 -5.1 -5.9 -9.6 -11.5 -5.8 -7.1 -9 -11.9 -4.9 -6.7 -9.8 -14.5 -2.8 -4.1 -11.5 -18.6 -0.5 -0.9 -9.9 -17.7 -4.9 -9.5M89.1 146.2l2.9 -5.6 10.2 -18.6 1.7 -2.8 9.6 -15.8 5.2 -7.9 7.2 -10.7 7.5 -10.4 6.1 -8.2 8.7 -10.9 6.3 -7.7 8.4 -9.6 8.2 -9 6.6 -6.9 11.7 -11.7"/>
<path stroke="#84d44b" d="M812.5 787.9l-4.3 3.8 -10.5 8.8 -12.1 9.8 -2.6 2 -14.8 10.7 -8.5 5.9 -6.3 4.1 -14.7 9.2 -9.1 5.3 -5.7 3.2 -14.7 7.7 -14.8 7.2 -1.1 0.5 -13.7 5.9 -14.7 5.9 -14.8 5.4 -4.3 1.4 -10.5 3.3 -14.7 4.2 -14.8 3.6 -14.7 3.2 -14.8 2.7 -10.9 1.6 -3.9 0.5 -14.7 1.6 -14.8 1.2 -14.8 0.6 -14.7 0.2 -14.8 -0.3 -14.7 -0.8 -14.8 -1.3 -14.8 -1.7 -14.7 -2.3 -14.8 -2.8 -14.8 -3.4 -14.7 -3.8 -14.8 -4.3 -6.3 -2 -8.4 -2.9 -14.8 -5.5 -14.8 -6 -9.4 -4.2 -5.3 -2.5 -14.8 -7.3 -14.8 -7.9 -12.4 17.7 -2.3 1.7 -1.3 -1.7 -9 -18.6 -4.5 -17.2 -2.2 -1.4 -12.5 -8.9 -13.3 -9.7 -1.5 -1.2 -14.8 -12 -6.3 -5.4 -8.4 -7.6 -11.8 -11 -3 -3 -14.8 -15.2 -0.3 -0.4 -14.4 -16.4 -1.9 -2.2 -12.9 -16 -2 -2.6 -12.7 -17.6 -0.8 -1 -12.3 -18.6 -1.7 -2.8 -9.4 -15.8 -5.4 -9.6M89.1 127.8l3.2 -5.8 10.9 -18.6 0.7 -1 11.4 -17.6 3.4 -4.8 9.9 -13.8 4.8 -6.3 9.7 -12.3 5.1 -6 11 -12.6 3.7 -4.1 13.9 -14.5"/>
<path stroke="#89d548" d="M812.5 799.8l-12.4 10.5 -2.4 1.9 -14.7 11.3 -7.4 5.4 -7.4 5.1 -14.8 9.8 -5.9 3.7 -8.8 5.2 -14.8 8.3 -9.7 5.1 -5 2.5 -14.8 6.9 -14.8 6.5 -6.8 2.7 -7.9 3 -14.8 5.2 -14.8 4.7 -14.7 4.1 -6.2 1.6 -8.6 2 -14.7 3.1 -14.8 2.6 -14.8 2.1 -14.7 1.6 -14.8 1.1 -14.8 0.7 -14.7 0.1 -14.8 -0.3 -14.7 -0.8 -14.8 -1.2 -14.8 -1.8 -14.7 -2.2 -14.8 -2.7 -14.8 -3.2 -4.4 -1.1 -10.3 -2.7 -14.8 -4.3 -14.7 -4.8 -14.8 -5.3 -3.8 -1.5 -11 -4.5 -14.7 -6.5 -14.8 -7.1 -1 -0.5 -13.8 -7.4 -5.1 7.4 -9.6 7.2 -5.3 -7.2 -7.8 -18.6 -1.7 -6.4 -14.7 -9.9 -3.3 -2.3 -11.5 -8.5 -13 -10.1 -1.8 -1.5 -14.7 -12.6 -5.1 -4.5 -9.7 -9.2 -9.6 -9.4 -5.2 -5.3 -12.3 -13.3 -2.4 -2.8 -13.4 -15.8 -1.4 -1.7 -13 -16.9 -1.7 -2.4 -11.4 -16.2 -3.4 -5.2 -8.6 -13.4 -6.2 -10.4M89.1 110l3.9 -6.6 10.9 -17.3 0.8 -1.3 12.9 -18.6 1.1 -1.4 13 -17.2 1.7 -2.1 13.8 -16.5 1 -1.1 14.7 -16 1.4 -1.5"/>
<path stroke="#8ed645" d="M442.1 921.9l-13.4 -2.1 -14.8 -2.7 -14.8 -3.2 -14.7 -3.6 -14.8 -4.2 -9 -2.8 -5.7 -1.9 -14.8 -5.3 -14.8 -5.8 -13.1 -5.6 -1.6 -0.8 -14.8 -7 -14.8 -7.6 -14.7 9.6 -9.4 -12.8 -5.4 -14.1 -7.1 -4.5 -7.6 -5.2 -14.8 -10.4 -4 -3 -10.8 -8.4 -12.5 -10.2 -2.2 -2 -14.8 -13.2 -3.6 -3.4 -11.2 -11 -7.4 -7.6 -7.3 -7.9 -9.6 -10.7 -5.2 -6.2 -10.1 -12.4 -4.6 -6 -9.4 -12.6 -5.4 -7.8 -7.4 -10.8 -7.4 -11.7M812.5 811.9l-14.8 11.9 -6.6 5.1 -8.1 6 -14.8 10.3 -3.5 2.3 -11.3 7.1 -14.7 8.8 -4.8 2.7 -10 5.4 -14.7 7.4 -12.3 5.8 -2.5 1.1 -14.8 6.2 -14.7 5.6 -14.8 5.2 -1.5 0.5 -13.3 4 -14.7 4 -14.8 3.6 -14.7 3 -14.8 2.6 -9.6 1.4M89.1 92.7l5 -7.9 9.8 -14.7 2.7 -3.9 12.1 -16.4 1.6 -2.2 13.1 -16.3 1.9 -2.3 12.9 -14.5 3.7 -4.1"/>
<path stroke="#93d741" d="M391.3 921.9l-6.9 -1.7 -14.8 -4.2 -14.7 -4.6 -14.8 -5.2 -7.8 -2.9 -7 -2.8 -14.7 -6.3 -14.8 -6.8 -5.5 -2.7 -9.3 -4.8 -14.3 4.8 -0.4 0.1 -0.1 -0.1 -13.5 -18.6 -1.2 -3 -14.7 -9.5 -9.1 -6.1 -5.7 -4.1 -14.8 -11 -4.4 -3.5 -10.3 -8.5 -11.9 -10.1 -2.9 -2.6 -14.8 -13.9 -2.1 -2.1 -12.6 -12.9 -5.3 -5.7 -9.5 -10.6 -6.8 -8 -7.9 -9.8 -7 -8.8 -7.8 -10.6 -5.8 -8 -9 -13.4M812.5 823.9l-6.2 5 -8.6 6.6 -14.7 10.9 -1.6 1.1 -13.2 8.8 -14.8 9.4 -0.6 0.4 -14.1 8.1 -14.8 7.9 -5 2.6 -9.7 4.7 -14.8 6.7 -14.8 6.1 -2.7 1.1 -12 4.4 -14.8 5 -14.8 4.5 -14.7 4 -2.7 0.7M89.1 75.8l6.4 -9.6 8.4 -11.8 4.9 -6.8 9.9 -12.7 4.7 -5.9 10 -11.8 6 -6.8"/>
<path stroke="#98d83e" d="M355.7 921.9l-0.8 -0.3 -14.8 -5.1 -14.8 -5.6 -14.7 -6.1 -3.4 -1.5 -11.4 -5.3 -14.8 -7.3 -14.7 0.9 -7.7 -6.9 -7.1 -10.4 -13.2 -8.2 -1.5 -1 -14.8 -10.1 -10.5 -7.5 -4.3 -3.2 -14.7 -11.6 -4.7 -3.8 -10.1 -8.7 -11.1 -9.9 -3.7 -3.5 -14.7 -14.4 -0.7 -0.7 -14.1 -15.1 -3.2 -3.5 -11.5 -13.6 -4.2 -5 -10.6 -13.5 -3.8 -5.1 -11 -15.3M812.5 836.1l-14.8 11.4 -14.7 10.4 -12.2 8.2 -2.6 1.6 -14.8 9 -13.8 8 -0.9 0.5 -14.8 7.6 -14.7 7.2 -7.3 3.3 -7.5 3.3 -14.8 5.9 -14.7 5.5 -11.6 3.9M89.1 59.2l8.2 -11.6 6.6 -8.8 7.5 -9.8 7.3 -8.8 8.2 -9.8"/>
<path stroke="#9dd93b" d="M326.4 921.9l-1.1 -0.4 -14.7 -6.1 -14.8 -6.6 -11.6 -5.5 -3.2 -1.6 -14.7 -3 -14.8 -13.1 -1.6 -0.9 -13.1 -8.2 -14.8 -9.6 -1.2 -0.8 -13.6 -9.8 -11.7 -8.8 -3 -2.4 -14.8 -12.1 -4.8 -4.1 -10 -9 -10.2 -9.6 -4.5 -4.4 -13.9 -14.2 -0.9 -1 -14.7 -16.4 -1.1 -1.2 -13.7 -16.6 -1.6 -2 -13.2 -17.5M812.5 848.4l-14.8 11 -9.5 6.7 -5.2 3.5 -14.8 9.6 -9.1 5.5 -5.7 3.3 -14.7 8.2 -13.7 7.1 -1.1 0.5 -14.7 6.9 -14.8 6.5 -11.7 4.7M89.1 42.8l10.3 -13.8 4.5 -5.7 10.5 -12.9"/>
<path stroke="#a0da39" d="M300.4 921.9l-4.6 -2.1 -14.8 -7 -14.7 -5.7 -6.1 -3.8 -8.7 -6.3 -14.7 -8.8 -5.7 -3.5 -9.1 -6 -14.8 -10.2 -3.3 -2.4 -11.4 -8.6 -12.7 -10 -2.1 -1.7 -14.8 -12.7 -4.6 -4.2 -10.1 -9.5 -9.4 -9.1 -5.4 -5.5 -12.3 -13.1 -2.4 -2.8 -13.8 -15.8 -1 -1.3 -13.8 -17.3 -1 -1.4M812.5 860.7l-7.3 5.4 -7.5 5.3 -14.7 10.1 -5 3.2 -9.8 6 -14.8 8.7 -7 3.9 -7.7 4.1 -14.8 7.4 -14.7 6.9 -0.4 0.2M89.1 26.6l12.7 -16.2"/>
<path stroke="#a5db36" d="M276.5 921.9l-10.2 -4.6 -14.8 -8.7 -9.3 -5.3 -5.4 -3.3 -14.8 -9.3 -9.1 -6 -5.7 -3.9 -14.7 -10.7 -5.3 -4 -9.5 -7.5 -13.4 -11.1 -1.4 -1.2 -14.7 -13.2 -4.5 -4.2 -10.3 -10.1 -8.4 -8.5 -6.3 -6.8 -10.8 -11.8 -4 -4.7 -11.6 -13.9 -3.2 -4M812.5 873.1l-14.8 10.6 -1.4 1 -13.3 8.7 -14.8 9.1 -1.3 0.8 -13.5 7.6 -14.7 7.9 -6.2 3.1M89.1 10.5l0.1 -0.1"/>
<path stroke="#aadc32" d="M254.2 921.9l-2.7 -1.5 -14.7 -8.5 -14.2 -8.6 -0.6 -0.4 -14.8 -9.8 -12.1 -8.4 -2.6 -2 -14.8 -11.2 -6.9 -5.4 -7.9 -6.6 -14 -12 -0.7 -0.7 -14.8 -13.8 -4.2 -4.1 -10.5 -10.8 -7.5 -7.8 -7.3 -8.1 -9.2 -10.5 -5.6 -6.7M812.5 885.8l-14.8 10.1 -11.2 7.4 -3.5 2.2 -14.8 8.8 -13.3 7.6"/>
<path stroke="#b0dd2f" d="M233.1 921.9l-11.1 -6.8 -14.8 -9.4 -3.5 -2.4 -11.2 -7.9 -14.8 -10.7 0 -0.1 -14.8 -11.7 -8.2 -6.8 -6.5 -5.6 -14.5 -13 -0.3 -0.3 -14.7 -14.4 -3.9 -3.9 -10.9 -11.5 -6.5 -7.1 -8.3 -9.5M812.5 898.4l-7.1 4.9 -7.7 5.1 -14.7 9.3 -7 4.2"/>
<path stroke="#b5de2b" d="M212.9 921.9l-5.7 -3.6 -14.7 -10 -7.2 -5 -7.6 -5.6 -14.8 -11.3 -2.2 -1.7 -12.5 -10.4 -9.5 -8.2 -5.3 -4.8 -14.7 -13.8 -0.1 0 -14.7 -15 -3.5 -3.6 -11.3 -12.4M812.5 911.2l-14.8 9.8 -1.4 0.9"/>
<path stroke="#bade28" d="M193.2 921.9l-0.7 -0.5 -14.8 -10.4 -10.4 -7.7 -4.4 -3.3 -14.7 -11.8 -4.2 -3.5 -10.6 -9.1 -10.5 -9.5 -4.2 -4 -14.8 -14.3 -0.3 -0.3 -14.5 -15.2"/>
<path stroke="#c0df25" d="M174.1 921.9l-11.2 -8.3 -13.4 -10.3 -1.3 -1.1 -14.8 -12.3 -6 -5.2 -8.7 -7.9 -11.5 -10.7 -3.3 -3.2 -14.8 -14.9"/>
<path stroke="#c5e021" d="M155.5 921.9l-7.3 -5.7 -14.8 -11.8 -1.3 -1.1 -13.4 -11.7 -7.8 -6.9 -7 -6.6 -12.4 -12 -2.4 -2.4"/>
<path stroke="#cae11f" d="M137.1 921.9l-3.7 -3 -14.7 -12.4 -3.8 -3.2 -11 -9.9 -9.3 -8.7 -5.5 -5.3"/>
<path stroke="#d0e11c" d="M119 921.9l-0.3 -0.3 -14.8 -12.9 -6.1 -5.4 -8.7 -8.2"/>
<path stroke="#d5e21a" d="M101.2 921.9l-12.1 -10.9"/>
</g>
<g clip-path="url(#ax)" fill="#ff0000"><circle cx="428.35" cy="169.50" r="8.60"/><circle cx="540.76" cy="311.36" r="8.60"/><circle cx="747.62" cy="399.52" r="8.60"/><circle cx="543.72" cy="419.52" r="8.60"/><circle cx="430.12" cy="440.46" r="8.60"/><circle cx="264.52" cy="506.85" r="8.60"/><circle cx="271.68" cy="523.70" r="8.60"/><circle cx="265.20" cy="535.43" r="8.60"/><circle cx="269.72" cy="597.86" r="8.60"/><circle cx="745.40" cy="756.40" r="8.60"/></g>
<g stroke="#000" stroke-width="2" fill="none"><path d="M89.13 921.88v8.75"/><path d="M179.55 921.88v8.75"/><path d="M269.97 921.88v8.75"/><path d="M360.39 921.88v8.75"/><path d="M450.81 921.88v8.75"/><path d="M541.24 921.88v8.75"/><path d="M631.66 921.88v8.75"/><path d="M722.08 921.88v8.75"/><path d="M812.50 921.88v8.75"/><path d="M89.13 921.88h-8.75"/><path d="M89.13 769.97h-8.75"/><path d="M89.13 618.06h-8.75"/><path d="M89.13 466.16h-8.75"/><path d="M89.13 314.25h-8.75"/><path d="M89.13 162.34h-8.75"/><path d="M89.13 10.43h-8.75"/></g>
<rect x="89.13" y="10.43" width="723.37" height="911.45" fill="none" stroke="#000" stroke-width="2" stroke-linejoin="miter"/>
<g font-size="25.0" fill="#000"><text transform="translate(89.13 958.08) scale(0.960 1.030)" text-anchor="middle">−2.0</text><text transform="translate(179.55 958.08) scale(0.960 1.030)" text-anchor="middle">−1.5</text><text transform="translate(269.97 958.08) scale(0.960 1.030)" text-anchor="middle">−1.0</text><text transform="translate(360.39 958.08) scale(0.960 1.030)" text-anchor="middle">−0.5</text><text transform="translate(450.81 958.08) scale(0.960 1.030)" text-anchor="middle">0.0</text><text transform="translate(541.24 958.08) scale(0.960 1.030)" text-anchor="middle">0.5</text><text transform="translate(631.66 958.08) scale(0.960 1.030)" text-anchor="middle">1.0</text><text transform="translate(722.08 958.08) scale(0.960 1.030)" text-anchor="middle">1.5</text><text transform="translate(812.50 958.08) scale(0.960 1.030)" text-anchor="middle">2.0</text><text transform="translate(71.53 931.33) scale(0.960 1.010)" text-anchor="end">−3</text><text transform="translate(71.53 779.42) scale(0.960 1.010)" text-anchor="end">−2</text><text transform="translate(71.53 627.51) scale(0.960 1.010)" text-anchor="end">−1</text><text transform="translate(71.53 475.61) scale(0.960 1.010)" text-anchor="end">0</text><text transform="translate(71.53 323.70) scale(0.960 1.010)" text-anchor="end">1</text><text transform="translate(71.53 171.79) scale(0.960 1.010)" text-anchor="end">2</text><text transform="translate(71.53 19.88) scale(0.960 1.010)" text-anchor="end">3</text></g>
<g font-size="25.0" fill="#000"><text transform="translate(450.55 991.60) scale(0.968 1.000)" text-anchor="middle">PC1 (51.1%)</text><text transform="translate(21.30 466.05) rotate(-90) scale(0.971 1.000)" text-anchor="middle">PC2 (19.2%)</text></g>
<g font-size="29.3" fill="#000"><text transform="translate(446.43 169.50) scale(0.993 1.000)">Neuburger 2017</text><text transform="translate(558.84 311.36) scale(0.993 1.000)">Pálava 2015</text><text transform="translate(765.70 399.52) scale(0.993 1.000)">Dornfelder 2015</text><text transform="translate(561.80 419.52) scale(0.993 1.000)">Zweigeltrebe 2017</text><text transform="translate(448.20 440.46) scale(0.993 1.000)">Zweigeltrebe 2015</text><text transform="translate(282.60 506.85) scale(0.993 1.000)">Riesling CRR 2015</text><text transform="translate(289.76 523.70) scale(0.993 1.000)">Hibernal 2017</text><text transform="translate(283.28 535.43) scale(0.993 1.000)">Tramin 2015</text><text transform="translate(287.80 597.86) scale(0.993 1.000)">Sauvignon 2017</text><text transform="translate(763.48 756.40) scale(0.993 1.000)">Pinot Gris 2015</text></g>
</svg>
</body></html>
